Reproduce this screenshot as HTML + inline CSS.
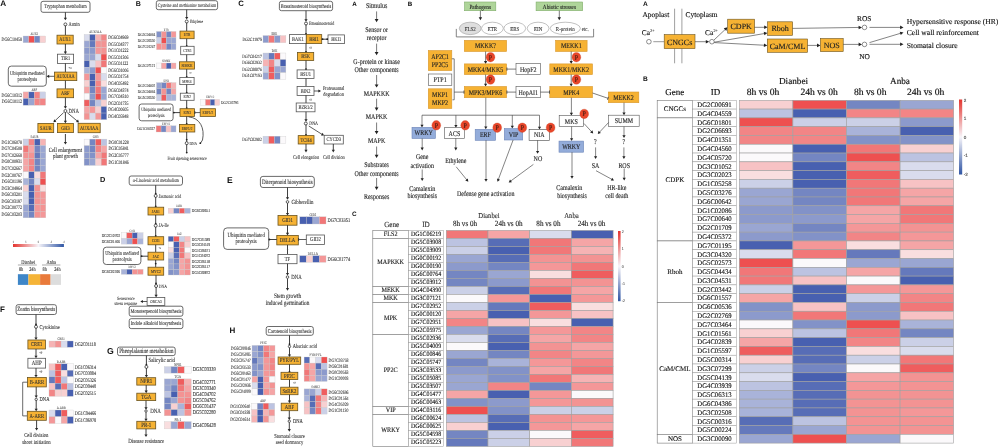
<!DOCTYPE html><html><head><meta charset="utf-8"><style>html,body{margin:0;padding:0;background:#fff;overflow:hidden}svg{display:block;filter:blur(0.35px)}text{text-rendering:geometricPrecision}</style></head><body>
<svg width="1000" height="447" viewBox="0 0 1000 447">
<rect width="1000" height="447" fill="#fff"/>
<text x="643.00" y="6.30" font-family="'Liberation Sans', sans-serif" font-size="6.60" text-anchor="start" fill="#111" font-weight="bold" font-style="normal" textLength="4.77" lengthAdjust="spacingAndGlyphs">A</text>
<text x="642.50" y="16.60" font-family="'Liberation Serif', serif" font-size="7.40" text-anchor="start" fill="#111" font-weight="normal" font-style="normal" stroke="#111" stroke-width="0.127" textLength="26.72" lengthAdjust="spacingAndGlyphs">Apoplast</text>
<text x="685.50" y="16.60" font-family="'Liberation Serif', serif" font-size="7.40" text-anchor="start" fill="#111" font-weight="normal" font-style="normal" stroke="#111" stroke-width="0.127" textLength="32.07" lengthAdjust="spacingAndGlyphs">Cytoplasm</text>
<line x1="674.60" y1="8.70" x2="674.60" y2="63.30" stroke="#777" stroke-width="0.7"/>
<line x1="681.90" y1="8.70" x2="681.90" y2="63.30" stroke="#777" stroke-width="0.7"/>
<text x="641.80" y="35.20" font-family="'Liberation Serif', serif" font-size="7.40" text-anchor="start" fill="#111" font-weight="normal" font-style="normal" stroke="#111" stroke-width="0.127" textLength="8.22" lengthAdjust="spacingAndGlyphs">Ca</text>
<text x="650.20" y="32.00" font-family="'Liberation Serif', serif" font-size="4.20" text-anchor="start" fill="#111" font-weight="normal" font-style="normal" stroke="#111" stroke-width="0.072" textLength="4.47" lengthAdjust="spacingAndGlyphs">2+</text>
<text x="705.00" y="35.20" font-family="'Liberation Serif', serif" font-size="7.40" text-anchor="start" fill="#111" font-weight="normal" font-style="normal" stroke="#111" stroke-width="0.127" textLength="8.22" lengthAdjust="spacingAndGlyphs">Ca</text>
<text x="713.40" y="32.00" font-family="'Liberation Serif', serif" font-size="4.20" text-anchor="start" fill="#111" font-weight="normal" font-style="normal" stroke="#111" stroke-width="0.072" textLength="4.47" lengthAdjust="spacingAndGlyphs">2+</text>
<circle cx="648.90" cy="41.70" r="2.3" fill="#fff" stroke="#444" stroke-width="0.6"/>
<line x1="653.30" y1="41.70" x2="664.20" y2="41.70" stroke="#555" stroke-width="0.6"/>
<rect x="664.20" y="34.60" width="30.80" height="14.00" fill="#F6B233" stroke="#6b5420" stroke-width="0.6" rx="0"/>
<text x="679.60" y="44.90" font-family="'Liberation Serif', serif" font-size="8.00" text-anchor="middle" fill="#222" font-weight="normal" font-style="normal" stroke="#222" stroke-width="0.137" textLength="25.34" lengthAdjust="spacingAndGlyphs">CNGCs</text>
<line x1="695.00" y1="41.70" x2="707.16" y2="41.70" stroke="#333" stroke-width="0.6"/>
<polygon points="709.20,41.70 705.80,43.50 705.80,39.90" fill="#222"/>
<circle cx="711.90" cy="41.70" r="2.3" fill="#fff" stroke="#444" stroke-width="0.6"/>
<line x1="714.00" y1="40.00" x2="726.01" y2="28.70" stroke="#333" stroke-width="0.6"/>
<polygon points="727.50,27.30 726.26,30.94 723.79,28.32" fill="#222"/>
<rect x="727.70" y="19.20" width="26.90" height="14.00" fill="#F6B233" stroke="#6b5420" stroke-width="0.6" rx="0"/>
<text x="741.20" y="29.30" font-family="'Liberation Serif', serif" font-size="8.00" text-anchor="middle" fill="#222" font-weight="normal" font-style="normal" stroke="#222" stroke-width="0.137" textLength="21.34" lengthAdjust="spacingAndGlyphs">CDPK</text>
<line x1="754.60" y1="27.30" x2="765.56" y2="27.30" stroke="#333" stroke-width="0.6"/>
<polygon points="767.60,27.30 764.20,29.10 764.20,25.50" fill="#222"/>
<line x1="714.30" y1="42.20" x2="765.39" y2="33.35" stroke="#333" stroke-width="0.6"/>
<polygon points="767.40,33.00 764.36,35.35 763.74,31.81" fill="#222"/>
<rect x="767.60" y="21.80" width="25.00" height="13.50" fill="#F6B233" stroke="#6b5420" stroke-width="0.6" rx="0"/>
<text x="780.10" y="31.40" font-family="'Liberation Serif', serif" font-size="8.00" text-anchor="middle" fill="#222" font-weight="normal" font-style="normal" stroke="#222" stroke-width="0.137" textLength="17.34" lengthAdjust="spacingAndGlyphs">Rboh</text>
<line x1="714.30" y1="42.60" x2="765.26" y2="45.29" stroke="#333" stroke-width="0.6"/>
<polygon points="767.30,45.40 763.81,47.02 764.00,43.42" fill="#222"/>
<rect x="767.30" y="39.00" width="40.30" height="13.30" fill="#F6B233" stroke="#6b5420" stroke-width="0.6" rx="0"/>
<text x="787.50" y="48.60" font-family="'Liberation Serif', serif" font-size="8.00" text-anchor="middle" fill="#222" font-weight="normal" font-style="normal" stroke="#222" stroke-width="0.137" textLength="35.56" lengthAdjust="spacingAndGlyphs">CaM/CML</text>
<line x1="807.60" y1="45.40" x2="818.36" y2="45.40" stroke="#333" stroke-width="0.6"/>
<polygon points="820.40,45.40 817.00,47.20 817.00,43.60" fill="#222"/>
<rect x="820.40" y="38.50" width="22.80" height="13.10" fill="#F6B233" stroke="#6b5420" stroke-width="0.6" rx="0"/>
<text x="831.80" y="47.90" font-family="'Liberation Serif', serif" font-size="8.00" text-anchor="middle" fill="#222" font-weight="normal" font-style="normal" stroke="#222" stroke-width="0.137" textLength="16.00" lengthAdjust="spacingAndGlyphs">NOS</text>
<line x1="792.60" y1="28.40" x2="859.96" y2="27.43" stroke="#333" stroke-width="0.6"/>
<polygon points="862.00,27.40 858.63,29.25 858.57,25.65" fill="#222"/>
<line x1="843.20" y1="44.40" x2="859.96" y2="44.40" stroke="#333" stroke-width="0.6"/>
<polygon points="862.00,44.40 858.60,46.20 858.60,42.60" fill="#222"/>
<circle cx="864.50" cy="27.40" r="2.3" fill="#fff" stroke="#444" stroke-width="0.6"/>
<circle cx="864.50" cy="44.40" r="2.3" fill="#fff" stroke="#444" stroke-width="0.6"/>
<text x="864.30" y="20.60" font-family="'Liberation Serif', serif" font-size="7.40" text-anchor="middle" fill="#111" font-weight="normal" font-style="normal" stroke="#111" stroke-width="0.127" textLength="14.40" lengthAdjust="spacingAndGlyphs">ROS</text>
<text x="864.60" y="59.20" font-family="'Liberation Serif', serif" font-size="7.40" text-anchor="middle" fill="#111" font-weight="normal" font-style="normal" stroke="#111" stroke-width="0.127" textLength="10.69" lengthAdjust="spacingAndGlyphs">NO</text>
<line x1="869.50" y1="27.40" x2="901.46" y2="27.40" stroke="#333" stroke-width="0.6"/>
<polygon points="903.50,27.40 900.10,29.20 900.10,25.60" fill="#222"/>
<line x1="869.50" y1="42.60" x2="901.55" y2="32.99" stroke="#333" stroke-width="0.6"/>
<polygon points="903.50,32.40 900.76,35.10 899.73,31.65" fill="#222"/>
<line x1="869.50" y1="44.30" x2="901.46" y2="44.30" stroke="#333" stroke-width="0.6"/>
<polygon points="903.50,44.30 900.10,46.10 900.10,42.50" fill="#222"/>
<text x="906.80" y="24.20" font-family="'Liberation Serif', serif" font-size="7.60" text-anchor="start" fill="#111" font-weight="normal" font-style="normal" stroke="#111" stroke-width="0.130" textLength="91.60" lengthAdjust="spacingAndGlyphs">Hypersensitive response (HR)</text>
<text x="906.80" y="34.60" font-family="'Liberation Serif', serif" font-size="7.60" text-anchor="start" fill="#111" font-weight="normal" font-style="normal" stroke="#111" stroke-width="0.130" textLength="72.17" lengthAdjust="spacingAndGlyphs">Cell wall reinforcement</text>
<text x="906.80" y="48.20" font-family="'Liberation Serif', serif" font-size="7.60" text-anchor="start" fill="#111" font-weight="normal" font-style="normal" stroke="#111" stroke-width="0.130" textLength="50.86" lengthAdjust="spacingAndGlyphs">Stomatal closure</text>
<text x="643.00" y="80.60" font-family="'Liberation Sans', sans-serif" font-size="6.60" text-anchor="start" fill="#111" font-weight="bold" font-style="normal" textLength="4.77" lengthAdjust="spacingAndGlyphs">B</text>
<text x="793.50" y="84.30" font-family="'Liberation Serif', serif" font-size="9.20" text-anchor="middle" fill="#111" font-weight="normal" font-style="normal" stroke="#111" stroke-width="0.158" textLength="29.12" lengthAdjust="spacingAndGlyphs">Dianbei</text>
<text x="900.00" y="84.30" font-family="'Liberation Serif', serif" font-size="9.20" text-anchor="middle" fill="#111" font-weight="normal" font-style="normal" stroke="#111" stroke-width="0.158" textLength="19.93" lengthAdjust="spacingAndGlyphs">Anba</text>
<text x="674.80" y="95.00" font-family="'Liberation Serif', serif" font-size="9.00" text-anchor="middle" fill="#111" font-weight="normal" font-style="normal" stroke="#111" stroke-width="0.154" textLength="18.99" lengthAdjust="spacingAndGlyphs">Gene</text>
<text x="715.40" y="95.00" font-family="'Liberation Serif', serif" font-size="9.00" text-anchor="middle" fill="#111" font-weight="normal" font-style="normal" stroke="#111" stroke-width="0.154" textLength="9.50" lengthAdjust="spacingAndGlyphs">ID</text>
<text x="763.00" y="95.20" font-family="'Liberation Serif', serif" font-size="9.60" text-anchor="middle" fill="#111" font-weight="normal" font-style="normal" stroke="#111" stroke-width="0.165" textLength="32.54" lengthAdjust="spacingAndGlyphs">8h vs 0h</text>
<text x="819.20" y="95.20" font-family="'Liberation Serif', serif" font-size="9.60" text-anchor="middle" fill="#111" font-weight="normal" font-style="normal" stroke="#111" stroke-width="0.165" textLength="37.34" lengthAdjust="spacingAndGlyphs">24h vs 0h</text>
<text x="870.20" y="95.20" font-family="'Liberation Serif', serif" font-size="9.60" text-anchor="middle" fill="#111" font-weight="normal" font-style="normal" stroke="#111" stroke-width="0.165" textLength="32.54" lengthAdjust="spacingAndGlyphs">8h vs 0h</text>
<text x="925.60" y="95.20" font-family="'Liberation Serif', serif" font-size="9.60" text-anchor="middle" fill="#111" font-weight="normal" font-style="normal" stroke="#111" stroke-width="0.165" textLength="37.34" lengthAdjust="spacingAndGlyphs">24h vs 0h</text>
<rect x="657.20" y="100.30" width="35.40" height="17.58" fill="#fff" stroke="#777" stroke-width="0.6" rx="0"/>
<text x="674.90" y="111.40" font-family="'Liberation Serif', serif" font-size="7.00" text-anchor="middle" fill="#111" font-weight="normal" font-style="normal" stroke="#111" stroke-width="0.120" textLength="22.17" lengthAdjust="spacingAndGlyphs">CNGCs</text>
<rect x="692.60" y="100.30" width="43.80" height="8.79" fill="#fff" stroke="#9a9a9a" stroke-width="0.5" rx="0"/>
<text x="714.50" y="107.07" font-family="'Liberation Serif', serif" font-size="7.00" text-anchor="middle" fill="#111" font-weight="normal" font-style="normal" stroke="#111" stroke-width="0.120" textLength="34.35" lengthAdjust="spacingAndGlyphs">DG2C00691</text>
<rect x="692.60" y="109.09" width="43.80" height="8.79" fill="#fff" stroke="#9a9a9a" stroke-width="0.5" rx="0"/>
<text x="714.50" y="115.86" font-family="'Liberation Serif', serif" font-size="7.00" text-anchor="middle" fill="#111" font-weight="normal" font-style="normal" stroke="#111" stroke-width="0.120" textLength="34.35" lengthAdjust="spacingAndGlyphs">DG4C04559</text>
<rect x="657.20" y="117.88" width="35.40" height="123.06" fill="#fff" stroke="#777" stroke-width="0.6" rx="0"/>
<text x="674.90" y="181.72" font-family="'Liberation Serif', serif" font-size="7.00" text-anchor="middle" fill="#111" font-weight="normal" font-style="normal" stroke="#111" stroke-width="0.120" textLength="18.67" lengthAdjust="spacingAndGlyphs">CDPK</text>
<rect x="692.60" y="117.88" width="43.80" height="8.79" fill="#fff" stroke="#9a9a9a" stroke-width="0.5" rx="0"/>
<text x="714.50" y="124.65" font-family="'Liberation Serif', serif" font-size="7.00" text-anchor="middle" fill="#111" font-weight="normal" font-style="normal" stroke="#111" stroke-width="0.120" textLength="34.35" lengthAdjust="spacingAndGlyphs">DG6C01801</text>
<rect x="692.60" y="126.67" width="43.80" height="8.79" fill="#fff" stroke="#9a9a9a" stroke-width="0.5" rx="0"/>
<text x="714.50" y="133.44" font-family="'Liberation Serif', serif" font-size="7.00" text-anchor="middle" fill="#111" font-weight="normal" font-style="normal" stroke="#111" stroke-width="0.120" textLength="34.35" lengthAdjust="spacingAndGlyphs">DG2C06693</text>
<rect x="692.60" y="135.46" width="43.80" height="8.79" fill="#fff" stroke="#9a9a9a" stroke-width="0.5" rx="0"/>
<text x="714.50" y="142.23" font-family="'Liberation Serif', serif" font-size="7.00" text-anchor="middle" fill="#111" font-weight="normal" font-style="normal" stroke="#111" stroke-width="0.120" textLength="34.35" lengthAdjust="spacingAndGlyphs">DG4C01351</text>
<rect x="692.60" y="144.25" width="43.80" height="8.79" fill="#fff" stroke="#9a9a9a" stroke-width="0.5" rx="0"/>
<text x="714.50" y="151.03" font-family="'Liberation Serif', serif" font-size="7.00" text-anchor="middle" fill="#111" font-weight="normal" font-style="normal" stroke="#111" stroke-width="0.120" textLength="34.35" lengthAdjust="spacingAndGlyphs">DG4C04560</text>
<rect x="692.60" y="153.04" width="43.80" height="8.79" fill="#fff" stroke="#9a9a9a" stroke-width="0.5" rx="0"/>
<text x="714.50" y="159.81" font-family="'Liberation Serif', serif" font-size="7.00" text-anchor="middle" fill="#111" font-weight="normal" font-style="normal" stroke="#111" stroke-width="0.120" textLength="34.35" lengthAdjust="spacingAndGlyphs">DG4C05720</text>
<rect x="692.60" y="161.83" width="43.80" height="8.79" fill="#fff" stroke="#9a9a9a" stroke-width="0.5" rx="0"/>
<text x="714.50" y="168.60" font-family="'Liberation Serif', serif" font-size="7.00" text-anchor="middle" fill="#111" font-weight="normal" font-style="normal" stroke="#111" stroke-width="0.120" textLength="34.35" lengthAdjust="spacingAndGlyphs">DG3C01052</text>
<rect x="692.60" y="170.62" width="43.80" height="8.79" fill="#fff" stroke="#9a9a9a" stroke-width="0.5" rx="0"/>
<text x="714.50" y="177.40" font-family="'Liberation Serif', serif" font-size="7.00" text-anchor="middle" fill="#111" font-weight="normal" font-style="normal" stroke="#111" stroke-width="0.120" textLength="34.35" lengthAdjust="spacingAndGlyphs">DG3C02023</text>
<rect x="692.60" y="179.41" width="43.80" height="8.79" fill="#fff" stroke="#9a9a9a" stroke-width="0.5" rx="0"/>
<text x="714.50" y="186.19" font-family="'Liberation Serif', serif" font-size="7.00" text-anchor="middle" fill="#111" font-weight="normal" font-style="normal" stroke="#111" stroke-width="0.120" textLength="34.35" lengthAdjust="spacingAndGlyphs">DG1C05258</text>
<rect x="692.60" y="188.20" width="43.80" height="8.79" fill="#fff" stroke="#9a9a9a" stroke-width="0.5" rx="0"/>
<text x="714.50" y="194.97" font-family="'Liberation Serif', serif" font-size="7.00" text-anchor="middle" fill="#111" font-weight="normal" font-style="normal" stroke="#111" stroke-width="0.120" textLength="34.35" lengthAdjust="spacingAndGlyphs">DG5C03276</text>
<rect x="692.60" y="196.99" width="43.80" height="8.79" fill="#fff" stroke="#9a9a9a" stroke-width="0.5" rx="0"/>
<text x="714.50" y="203.76" font-family="'Liberation Serif', serif" font-size="7.00" text-anchor="middle" fill="#111" font-weight="normal" font-style="normal" stroke="#111" stroke-width="0.120" textLength="34.35" lengthAdjust="spacingAndGlyphs">DG6C00642</text>
<rect x="692.60" y="205.78" width="43.80" height="8.79" fill="#fff" stroke="#9a9a9a" stroke-width="0.5" rx="0"/>
<text x="714.50" y="212.55" font-family="'Liberation Serif', serif" font-size="7.00" text-anchor="middle" fill="#111" font-weight="normal" font-style="normal" stroke="#111" stroke-width="0.120" textLength="34.35" lengthAdjust="spacingAndGlyphs">DG1C02086</text>
<rect x="692.60" y="214.57" width="43.80" height="8.79" fill="#fff" stroke="#9a9a9a" stroke-width="0.5" rx="0"/>
<text x="714.50" y="221.34" font-family="'Liberation Serif', serif" font-size="7.00" text-anchor="middle" fill="#111" font-weight="normal" font-style="normal" stroke="#111" stroke-width="0.120" textLength="34.35" lengthAdjust="spacingAndGlyphs">DG7C00640</text>
<rect x="692.60" y="223.36" width="43.80" height="8.79" fill="#fff" stroke="#9a9a9a" stroke-width="0.5" rx="0"/>
<text x="714.50" y="230.13" font-family="'Liberation Serif', serif" font-size="7.00" text-anchor="middle" fill="#111" font-weight="normal" font-style="normal" stroke="#111" stroke-width="0.120" textLength="34.35" lengthAdjust="spacingAndGlyphs">DG2C01709</text>
<rect x="692.60" y="232.15" width="43.80" height="8.79" fill="#fff" stroke="#9a9a9a" stroke-width="0.5" rx="0"/>
<text x="714.50" y="238.92" font-family="'Liberation Serif', serif" font-size="7.00" text-anchor="middle" fill="#111" font-weight="normal" font-style="normal" stroke="#111" stroke-width="0.120" textLength="34.35" lengthAdjust="spacingAndGlyphs">DG4C05372</text>
<rect x="657.20" y="240.94" width="35.40" height="61.53" fill="#fff" stroke="#777" stroke-width="0.6" rx="0"/>
<text x="674.90" y="274.01" font-family="'Liberation Serif', serif" font-size="7.00" text-anchor="middle" fill="#111" font-weight="normal" font-style="normal" stroke="#111" stroke-width="0.120" textLength="15.17" lengthAdjust="spacingAndGlyphs">Rboh</text>
<rect x="692.60" y="240.94" width="43.80" height="8.79" fill="#fff" stroke="#9a9a9a" stroke-width="0.5" rx="0"/>
<text x="714.50" y="247.72" font-family="'Liberation Serif', serif" font-size="7.00" text-anchor="middle" fill="#111" font-weight="normal" font-style="normal" stroke="#111" stroke-width="0.120" textLength="34.10" lengthAdjust="spacingAndGlyphs">DG7C01195</text>
<rect x="692.60" y="249.73" width="43.80" height="8.79" fill="#fff" stroke="#9a9a9a" stroke-width="0.5" rx="0"/>
<text x="714.50" y="256.50" font-family="'Liberation Serif', serif" font-size="7.00" text-anchor="middle" fill="#111" font-weight="normal" font-style="normal" stroke="#111" stroke-width="0.120" textLength="34.35" lengthAdjust="spacingAndGlyphs">DG3C04320</text>
<rect x="692.60" y="258.52" width="43.80" height="8.79" fill="#fff" stroke="#9a9a9a" stroke-width="0.5" rx="0"/>
<text x="714.50" y="265.29" font-family="'Liberation Serif', serif" font-size="7.00" text-anchor="middle" fill="#111" font-weight="normal" font-style="normal" stroke="#111" stroke-width="0.120" textLength="34.35" lengthAdjust="spacingAndGlyphs">DG5C02573</text>
<rect x="692.60" y="267.31" width="43.80" height="8.79" fill="#fff" stroke="#9a9a9a" stroke-width="0.5" rx="0"/>
<text x="714.50" y="274.08" font-family="'Liberation Serif', serif" font-size="7.00" text-anchor="middle" fill="#111" font-weight="normal" font-style="normal" stroke="#111" stroke-width="0.120" textLength="34.35" lengthAdjust="spacingAndGlyphs">DG5C04434</text>
<rect x="692.60" y="276.10" width="43.80" height="8.79" fill="#fff" stroke="#9a9a9a" stroke-width="0.5" rx="0"/>
<text x="714.50" y="282.88" font-family="'Liberation Serif', serif" font-size="7.00" text-anchor="middle" fill="#111" font-weight="normal" font-style="normal" stroke="#111" stroke-width="0.120" textLength="34.35" lengthAdjust="spacingAndGlyphs">DG3C04531</text>
<rect x="692.60" y="284.89" width="43.80" height="8.79" fill="#fff" stroke="#9a9a9a" stroke-width="0.5" rx="0"/>
<text x="714.50" y="291.66" font-family="'Liberation Serif', serif" font-size="7.00" text-anchor="middle" fill="#111" font-weight="normal" font-style="normal" stroke="#111" stroke-width="0.120" textLength="34.35" lengthAdjust="spacingAndGlyphs">DG2C03442</text>
<rect x="692.60" y="293.68" width="43.80" height="8.79" fill="#fff" stroke="#9a9a9a" stroke-width="0.5" rx="0"/>
<text x="714.50" y="300.45" font-family="'Liberation Serif', serif" font-size="7.00" text-anchor="middle" fill="#111" font-weight="normal" font-style="normal" stroke="#111" stroke-width="0.120" textLength="34.35" lengthAdjust="spacingAndGlyphs">DG6C01557</text>
<rect x="657.20" y="302.47" width="35.40" height="131.85" fill="#fff" stroke="#777" stroke-width="0.6" rx="0"/>
<text x="674.90" y="370.70" font-family="'Liberation Serif', serif" font-size="7.00" text-anchor="middle" fill="#111" font-weight="normal" font-style="normal" stroke="#111" stroke-width="0.120" textLength="31.11" lengthAdjust="spacingAndGlyphs">CaM/CML</text>
<rect x="692.60" y="302.47" width="43.80" height="8.79" fill="#fff" stroke="#9a9a9a" stroke-width="0.5" rx="0"/>
<text x="714.50" y="309.24" font-family="'Liberation Serif', serif" font-size="7.00" text-anchor="middle" fill="#111" font-weight="normal" font-style="normal" stroke="#111" stroke-width="0.120" textLength="34.35" lengthAdjust="spacingAndGlyphs">DG6C00536</text>
<rect x="692.60" y="311.26" width="43.80" height="8.79" fill="#fff" stroke="#9a9a9a" stroke-width="0.5" rx="0"/>
<text x="714.50" y="318.03" font-family="'Liberation Serif', serif" font-size="7.00" text-anchor="middle" fill="#111" font-weight="normal" font-style="normal" stroke="#111" stroke-width="0.120" textLength="34.35" lengthAdjust="spacingAndGlyphs">DG2C02769</text>
<rect x="692.60" y="320.05" width="43.80" height="8.79" fill="#fff" stroke="#9a9a9a" stroke-width="0.5" rx="0"/>
<text x="714.50" y="326.82" font-family="'Liberation Serif', serif" font-size="7.00" text-anchor="middle" fill="#111" font-weight="normal" font-style="normal" stroke="#111" stroke-width="0.120" textLength="34.35" lengthAdjust="spacingAndGlyphs">DG7C03464</text>
<rect x="692.60" y="328.84" width="43.80" height="8.79" fill="#fff" stroke="#9a9a9a" stroke-width="0.5" rx="0"/>
<text x="714.50" y="335.61" font-family="'Liberation Serif', serif" font-size="7.00" text-anchor="middle" fill="#111" font-weight="normal" font-style="normal" stroke="#111" stroke-width="0.120" textLength="34.35" lengthAdjust="spacingAndGlyphs">DG1C01561</text>
<rect x="692.60" y="337.63" width="43.80" height="8.79" fill="#fff" stroke="#9a9a9a" stroke-width="0.5" rx="0"/>
<text x="714.50" y="344.40" font-family="'Liberation Serif', serif" font-size="7.00" text-anchor="middle" fill="#111" font-weight="normal" font-style="normal" stroke="#111" stroke-width="0.120" textLength="34.35" lengthAdjust="spacingAndGlyphs">DG4C02839</text>
<rect x="692.60" y="346.42" width="43.80" height="8.79" fill="#fff" stroke="#9a9a9a" stroke-width="0.5" rx="0"/>
<text x="714.50" y="353.19" font-family="'Liberation Serif', serif" font-size="7.00" text-anchor="middle" fill="#111" font-weight="normal" font-style="normal" stroke="#111" stroke-width="0.120" textLength="34.35" lengthAdjust="spacingAndGlyphs">DG1C05597</text>
<rect x="692.60" y="355.21" width="43.80" height="8.79" fill="#fff" stroke="#9a9a9a" stroke-width="0.5" rx="0"/>
<text x="714.50" y="361.98" font-family="'Liberation Serif', serif" font-size="7.00" text-anchor="middle" fill="#111" font-weight="normal" font-style="normal" stroke="#111" stroke-width="0.120" textLength="34.35" lengthAdjust="spacingAndGlyphs">DG5C00314</text>
<rect x="692.60" y="364.00" width="43.80" height="8.79" fill="#fff" stroke="#9a9a9a" stroke-width="0.5" rx="0"/>
<text x="714.50" y="370.77" font-family="'Liberation Serif', serif" font-size="7.00" text-anchor="middle" fill="#111" font-weight="normal" font-style="normal" stroke="#111" stroke-width="0.120" textLength="34.35" lengthAdjust="spacingAndGlyphs">DG3C07299</text>
<rect x="692.60" y="372.79" width="43.80" height="8.79" fill="#fff" stroke="#9a9a9a" stroke-width="0.5" rx="0"/>
<text x="714.50" y="379.56" font-family="'Liberation Serif', serif" font-size="7.00" text-anchor="middle" fill="#111" font-weight="normal" font-style="normal" stroke="#111" stroke-width="0.120" textLength="34.35" lengthAdjust="spacingAndGlyphs">DG5C04139</text>
<rect x="692.60" y="381.58" width="43.80" height="8.79" fill="#fff" stroke="#9a9a9a" stroke-width="0.5" rx="0"/>
<text x="714.50" y="388.35" font-family="'Liberation Serif', serif" font-size="7.00" text-anchor="middle" fill="#111" font-weight="normal" font-style="normal" stroke="#111" stroke-width="0.120" textLength="34.35" lengthAdjust="spacingAndGlyphs">DG4C03939</text>
<rect x="692.60" y="390.37" width="43.80" height="8.79" fill="#fff" stroke="#9a9a9a" stroke-width="0.5" rx="0"/>
<text x="714.50" y="397.14" font-family="'Liberation Serif', serif" font-size="7.00" text-anchor="middle" fill="#111" font-weight="normal" font-style="normal" stroke="#111" stroke-width="0.120" textLength="34.35" lengthAdjust="spacingAndGlyphs">DG5C06313</text>
<rect x="692.60" y="399.16" width="43.80" height="8.79" fill="#fff" stroke="#9a9a9a" stroke-width="0.5" rx="0"/>
<text x="714.50" y="405.93" font-family="'Liberation Serif', serif" font-size="7.00" text-anchor="middle" fill="#111" font-weight="normal" font-style="normal" stroke="#111" stroke-width="0.120" textLength="34.35" lengthAdjust="spacingAndGlyphs">DG6C04386</text>
<rect x="692.60" y="407.95" width="43.80" height="8.79" fill="#fff" stroke="#9a9a9a" stroke-width="0.5" rx="0"/>
<text x="714.50" y="414.72" font-family="'Liberation Serif', serif" font-size="7.00" text-anchor="middle" fill="#111" font-weight="normal" font-style="normal" stroke="#111" stroke-width="0.120" textLength="34.35" lengthAdjust="spacingAndGlyphs">DG3C02508</text>
<rect x="692.60" y="416.74" width="43.80" height="8.79" fill="#fff" stroke="#9a9a9a" stroke-width="0.5" rx="0"/>
<text x="714.50" y="423.51" font-family="'Liberation Serif', serif" font-size="7.00" text-anchor="middle" fill="#111" font-weight="normal" font-style="normal" stroke="#111" stroke-width="0.120" textLength="34.35" lengthAdjust="spacingAndGlyphs">DG5C00316</text>
<rect x="692.60" y="425.53" width="43.80" height="8.79" fill="#fff" stroke="#9a9a9a" stroke-width="0.5" rx="0"/>
<text x="714.50" y="432.30" font-family="'Liberation Serif', serif" font-size="7.00" text-anchor="middle" fill="#111" font-weight="normal" font-style="normal" stroke="#111" stroke-width="0.120" textLength="34.35" lengthAdjust="spacingAndGlyphs">DG5C00224</text>
<rect x="657.20" y="434.32" width="35.40" height="8.79" fill="#fff" stroke="#777" stroke-width="0.6" rx="0"/>
<text x="674.90" y="441.02" font-family="'Liberation Serif', serif" font-size="7.00" text-anchor="middle" fill="#111" font-weight="normal" font-style="normal" stroke="#111" stroke-width="0.120" textLength="14.00" lengthAdjust="spacingAndGlyphs">NOS</text>
<rect x="692.60" y="434.32" width="43.80" height="8.79" fill="#fff" stroke="#9a9a9a" stroke-width="0.5" rx="0"/>
<text x="714.50" y="441.09" font-family="'Liberation Serif', serif" font-size="7.00" text-anchor="middle" fill="#111" font-weight="normal" font-style="normal" stroke="#111" stroke-width="0.120" textLength="34.35" lengthAdjust="spacingAndGlyphs">DG3C00090</text>
<rect x="739.30" y="100.30" width="53.60" height="8.79" fill="#f8d0d1" stroke="#a0a0a0" stroke-width="0.6" rx="0"/>
<rect x="792.90" y="100.30" width="53.60" height="8.79" fill="#ee5050" stroke="#a0a0a0" stroke-width="0.6" rx="0"/>
<rect x="846.50" y="100.30" width="53.60" height="8.79" fill="#7486c2" stroke="#a0a0a0" stroke-width="0.6" rx="0"/>
<rect x="900.10" y="100.30" width="53.60" height="8.79" fill="#9aa6d2" stroke="#a0a0a0" stroke-width="0.6" rx="0"/>
<rect x="739.30" y="109.09" width="53.60" height="8.79" fill="#bcc3e1" stroke="#a0a0a0" stroke-width="0.6" rx="0"/>
<rect x="792.90" y="109.09" width="53.60" height="8.79" fill="#4860b0" stroke="#a0a0a0" stroke-width="0.6" rx="0"/>
<rect x="846.50" y="109.09" width="53.60" height="8.79" fill="#f28586" stroke="#a0a0a0" stroke-width="0.6" rx="0"/>
<rect x="900.10" y="109.09" width="53.60" height="8.79" fill="#f28586" stroke="#a0a0a0" stroke-width="0.6" rx="0"/>
<rect x="739.30" y="117.88" width="53.60" height="8.79" fill="#ee5050" stroke="#a0a0a0" stroke-width="0.6" rx="0"/>
<rect x="792.90" y="117.88" width="53.60" height="8.79" fill="#cbd0e7" stroke="#a0a0a0" stroke-width="0.6" rx="0"/>
<rect x="846.50" y="117.88" width="53.60" height="8.79" fill="#cbd0e7" stroke="#a0a0a0" stroke-width="0.6" rx="0"/>
<rect x="900.10" y="117.88" width="53.60" height="8.79" fill="#8c9acc" stroke="#a0a0a0" stroke-width="0.6" rx="0"/>
<rect x="739.30" y="126.67" width="53.60" height="8.79" fill="#f28586" stroke="#a0a0a0" stroke-width="0.6" rx="0"/>
<rect x="792.90" y="126.67" width="53.60" height="8.79" fill="#f28586" stroke="#a0a0a0" stroke-width="0.6" rx="0"/>
<rect x="846.50" y="126.67" width="53.60" height="8.79" fill="#a9b3d9" stroke="#a0a0a0" stroke-width="0.6" rx="0"/>
<rect x="900.10" y="126.67" width="53.60" height="8.79" fill="#4860b0" stroke="#a0a0a0" stroke-width="0.6" rx="0"/>
<rect x="739.30" y="135.46" width="53.60" height="8.79" fill="#f28586" stroke="#a0a0a0" stroke-width="0.6" rx="0"/>
<rect x="792.90" y="135.46" width="53.60" height="8.79" fill="#f28586" stroke="#a0a0a0" stroke-width="0.6" rx="0"/>
<rect x="846.50" y="135.46" width="53.60" height="8.79" fill="#8292c8" stroke="#a0a0a0" stroke-width="0.6" rx="0"/>
<rect x="900.10" y="135.46" width="53.60" height="8.79" fill="#8292c8" stroke="#a0a0a0" stroke-width="0.6" rx="0"/>
<rect x="739.30" y="144.25" width="53.60" height="8.79" fill="#fbf9fb" stroke="#a0a0a0" stroke-width="0.6" rx="0"/>
<rect x="792.90" y="144.25" width="53.60" height="8.79" fill="#4860b0" stroke="#a0a0a0" stroke-width="0.6" rx="0"/>
<rect x="846.50" y="144.25" width="53.60" height="8.79" fill="#f17778" stroke="#a0a0a0" stroke-width="0.6" rx="0"/>
<rect x="900.10" y="144.25" width="53.60" height="8.79" fill="#f8d0d1" stroke="#a0a0a0" stroke-width="0.6" rx="0"/>
<rect x="739.30" y="153.04" width="53.60" height="8.79" fill="#fbf9fb" stroke="#a0a0a0" stroke-width="0.6" rx="0"/>
<rect x="792.90" y="153.04" width="53.60" height="8.79" fill="#7486c2" stroke="#a0a0a0" stroke-width="0.6" rx="0"/>
<rect x="846.50" y="153.04" width="53.60" height="8.79" fill="#ee5050" stroke="#a0a0a0" stroke-width="0.6" rx="0"/>
<rect x="900.10" y="153.04" width="53.60" height="8.79" fill="#bcc3e1" stroke="#a0a0a0" stroke-width="0.6" rx="0"/>
<rect x="739.30" y="161.83" width="53.60" height="8.79" fill="#f7c2c4" stroke="#a0a0a0" stroke-width="0.6" rx="0"/>
<rect x="792.90" y="161.83" width="53.60" height="8.79" fill="#4860b0" stroke="#a0a0a0" stroke-width="0.6" rx="0"/>
<rect x="846.50" y="161.83" width="53.60" height="8.79" fill="#f28586" stroke="#a0a0a0" stroke-width="0.6" rx="0"/>
<rect x="900.10" y="161.83" width="53.60" height="8.79" fill="#d9dced" stroke="#a0a0a0" stroke-width="0.6" rx="0"/>
<rect x="739.30" y="170.62" width="53.60" height="8.79" fill="#f9dedf" stroke="#a0a0a0" stroke-width="0.6" rx="0"/>
<rect x="792.90" y="170.62" width="53.60" height="8.79" fill="#4860b0" stroke="#a0a0a0" stroke-width="0.6" rx="0"/>
<rect x="846.50" y="170.62" width="53.60" height="8.79" fill="#ef5d5e" stroke="#a0a0a0" stroke-width="0.6" rx="0"/>
<rect x="900.10" y="170.62" width="53.60" height="8.79" fill="#d9dced" stroke="#a0a0a0" stroke-width="0.6" rx="0"/>
<rect x="739.30" y="179.41" width="53.60" height="8.79" fill="#cbd0e7" stroke="#a0a0a0" stroke-width="0.6" rx="0"/>
<rect x="792.90" y="179.41" width="53.60" height="8.79" fill="#4860b0" stroke="#a0a0a0" stroke-width="0.6" rx="0"/>
<rect x="846.50" y="179.41" width="53.60" height="8.79" fill="#f17778" stroke="#a0a0a0" stroke-width="0.6" rx="0"/>
<rect x="900.10" y="179.41" width="53.60" height="8.79" fill="#f7c2c4" stroke="#a0a0a0" stroke-width="0.6" rx="0"/>
<rect x="739.30" y="188.20" width="53.60" height="8.79" fill="#9aa6d2" stroke="#a0a0a0" stroke-width="0.6" rx="0"/>
<rect x="792.90" y="188.20" width="53.60" height="8.79" fill="#7486c2" stroke="#a0a0a0" stroke-width="0.6" rx="0"/>
<rect x="846.50" y="188.20" width="53.60" height="8.79" fill="#f17778" stroke="#a0a0a0" stroke-width="0.6" rx="0"/>
<rect x="900.10" y="188.20" width="53.60" height="8.79" fill="#f5a5a6" stroke="#a0a0a0" stroke-width="0.6" rx="0"/>
<rect x="739.30" y="196.99" width="53.60" height="8.79" fill="#9aa6d2" stroke="#a0a0a0" stroke-width="0.6" rx="0"/>
<rect x="792.90" y="196.99" width="53.60" height="8.79" fill="#7486c2" stroke="#a0a0a0" stroke-width="0.6" rx="0"/>
<rect x="846.50" y="196.99" width="53.60" height="8.79" fill="#f17778" stroke="#a0a0a0" stroke-width="0.6" rx="0"/>
<rect x="900.10" y="196.99" width="53.60" height="8.79" fill="#f5a5a6" stroke="#a0a0a0" stroke-width="0.6" rx="0"/>
<rect x="739.30" y="205.78" width="53.60" height="8.79" fill="#8c9acc" stroke="#a0a0a0" stroke-width="0.6" rx="0"/>
<rect x="792.90" y="205.78" width="53.60" height="8.79" fill="#8292c8" stroke="#a0a0a0" stroke-width="0.6" rx="0"/>
<rect x="846.50" y="205.78" width="53.60" height="8.79" fill="#f5a5a6" stroke="#a0a0a0" stroke-width="0.6" rx="0"/>
<rect x="900.10" y="205.78" width="53.60" height="8.79" fill="#f17778" stroke="#a0a0a0" stroke-width="0.6" rx="0"/>
<rect x="739.30" y="214.57" width="53.60" height="8.79" fill="#8c9acc" stroke="#a0a0a0" stroke-width="0.6" rx="0"/>
<rect x="792.90" y="214.57" width="53.60" height="8.79" fill="#8c9acc" stroke="#a0a0a0" stroke-width="0.6" rx="0"/>
<rect x="846.50" y="214.57" width="53.60" height="8.79" fill="#f5a5a6" stroke="#a0a0a0" stroke-width="0.6" rx="0"/>
<rect x="900.10" y="214.57" width="53.60" height="8.79" fill="#f17778" stroke="#a0a0a0" stroke-width="0.6" rx="0"/>
<rect x="739.30" y="223.36" width="53.60" height="8.79" fill="#9aa6d2" stroke="#a0a0a0" stroke-width="0.6" rx="0"/>
<rect x="792.90" y="223.36" width="53.60" height="8.79" fill="#7486c2" stroke="#a0a0a0" stroke-width="0.6" rx="0"/>
<rect x="846.50" y="223.36" width="53.60" height="8.79" fill="#f49798" stroke="#a0a0a0" stroke-width="0.6" rx="0"/>
<rect x="900.10" y="223.36" width="53.60" height="8.79" fill="#f39393" stroke="#a0a0a0" stroke-width="0.6" rx="0"/>
<rect x="739.30" y="232.15" width="53.60" height="8.79" fill="#8c9acc" stroke="#a0a0a0" stroke-width="0.6" rx="0"/>
<rect x="792.90" y="232.15" width="53.60" height="8.79" fill="#8292c8" stroke="#a0a0a0" stroke-width="0.6" rx="0"/>
<rect x="846.50" y="232.15" width="53.60" height="8.79" fill="#f28586" stroke="#a0a0a0" stroke-width="0.6" rx="0"/>
<rect x="900.10" y="232.15" width="53.60" height="8.79" fill="#f49798" stroke="#a0a0a0" stroke-width="0.6" rx="0"/>
<rect x="739.30" y="240.94" width="53.60" height="8.79" fill="#4860b0" stroke="#a0a0a0" stroke-width="0.6" rx="0"/>
<rect x="792.90" y="240.94" width="53.60" height="8.79" fill="#f49798" stroke="#a0a0a0" stroke-width="0.6" rx="0"/>
<rect x="846.50" y="240.94" width="53.60" height="8.79" fill="#f9dedf" stroke="#a0a0a0" stroke-width="0.6" rx="0"/>
<rect x="900.10" y="240.94" width="53.60" height="8.79" fill="#f5a5a6" stroke="#a0a0a0" stroke-width="0.6" rx="0"/>
<rect x="739.30" y="249.73" width="53.60" height="8.79" fill="#d9dced" stroke="#a0a0a0" stroke-width="0.6" rx="0"/>
<rect x="792.90" y="249.73" width="53.60" height="8.79" fill="#f17778" stroke="#a0a0a0" stroke-width="0.6" rx="0"/>
<rect x="846.50" y="249.73" width="53.60" height="8.79" fill="#6579bc" stroke="#a0a0a0" stroke-width="0.6" rx="0"/>
<rect x="900.10" y="249.73" width="53.60" height="8.79" fill="#f9dedf" stroke="#a0a0a0" stroke-width="0.6" rx="0"/>
<rect x="739.30" y="258.52" width="53.60" height="8.79" fill="#ee5050" stroke="#a0a0a0" stroke-width="0.6" rx="0"/>
<rect x="792.90" y="258.52" width="53.60" height="8.79" fill="#fbf9fb" stroke="#a0a0a0" stroke-width="0.6" rx="0"/>
<rect x="846.50" y="258.52" width="53.60" height="8.79" fill="#9aa6d2" stroke="#a0a0a0" stroke-width="0.6" rx="0"/>
<rect x="900.10" y="258.52" width="53.60" height="8.79" fill="#9aa6d2" stroke="#a0a0a0" stroke-width="0.6" rx="0"/>
<rect x="739.30" y="267.31" width="53.60" height="8.79" fill="#f17778" stroke="#a0a0a0" stroke-width="0.6" rx="0"/>
<rect x="792.90" y="267.31" width="53.60" height="8.79" fill="#bcc3e1" stroke="#a0a0a0" stroke-width="0.6" rx="0"/>
<rect x="846.50" y="267.31" width="53.60" height="8.79" fill="#f5a5a6" stroke="#a0a0a0" stroke-width="0.6" rx="0"/>
<rect x="900.10" y="267.31" width="53.60" height="8.79" fill="#6579bc" stroke="#a0a0a0" stroke-width="0.6" rx="0"/>
<rect x="739.30" y="276.10" width="53.60" height="8.79" fill="#f17778" stroke="#a0a0a0" stroke-width="0.6" rx="0"/>
<rect x="792.90" y="276.10" width="53.60" height="8.79" fill="#f7c2c4" stroke="#a0a0a0" stroke-width="0.6" rx="0"/>
<rect x="846.50" y="276.10" width="53.60" height="8.79" fill="#fbf9fb" stroke="#a0a0a0" stroke-width="0.6" rx="0"/>
<rect x="900.10" y="276.10" width="53.60" height="8.79" fill="#4860b0" stroke="#a0a0a0" stroke-width="0.6" rx="0"/>
<rect x="739.30" y="284.89" width="53.60" height="8.79" fill="#cbd0e7" stroke="#a0a0a0" stroke-width="0.6" rx="0"/>
<rect x="792.90" y="284.89" width="53.60" height="8.79" fill="#4860b0" stroke="#a0a0a0" stroke-width="0.6" rx="0"/>
<rect x="846.50" y="284.89" width="53.60" height="8.79" fill="#f49798" stroke="#a0a0a0" stroke-width="0.6" rx="0"/>
<rect x="900.10" y="284.89" width="53.60" height="8.79" fill="#f49798" stroke="#a0a0a0" stroke-width="0.6" rx="0"/>
<rect x="739.30" y="293.68" width="53.60" height="8.79" fill="#f5a5a6" stroke="#a0a0a0" stroke-width="0.6" rx="0"/>
<rect x="792.90" y="293.68" width="53.60" height="8.79" fill="#4860b0" stroke="#a0a0a0" stroke-width="0.6" rx="0"/>
<rect x="846.50" y="293.68" width="53.60" height="8.79" fill="#cbd0e7" stroke="#a0a0a0" stroke-width="0.6" rx="0"/>
<rect x="900.10" y="293.68" width="53.60" height="8.79" fill="#f28586" stroke="#a0a0a0" stroke-width="0.6" rx="0"/>
<rect x="739.30" y="302.47" width="53.60" height="8.79" fill="#8292c8" stroke="#a0a0a0" stroke-width="0.6" rx="0"/>
<rect x="792.90" y="302.47" width="53.60" height="8.79" fill="#f7c2c4" stroke="#a0a0a0" stroke-width="0.6" rx="0"/>
<rect x="846.50" y="302.47" width="53.60" height="8.79" fill="#8c9acc" stroke="#a0a0a0" stroke-width="0.6" rx="0"/>
<rect x="900.10" y="302.47" width="53.60" height="8.79" fill="#f17778" stroke="#a0a0a0" stroke-width="0.6" rx="0"/>
<rect x="739.30" y="311.26" width="53.60" height="8.79" fill="#8c9acc" stroke="#a0a0a0" stroke-width="0.6" rx="0"/>
<rect x="792.90" y="311.26" width="53.60" height="8.79" fill="#f17778" stroke="#a0a0a0" stroke-width="0.6" rx="0"/>
<rect x="846.50" y="311.26" width="53.60" height="8.79" fill="#8c9acc" stroke="#a0a0a0" stroke-width="0.6" rx="0"/>
<rect x="900.10" y="311.26" width="53.60" height="8.79" fill="#f7c2c4" stroke="#a0a0a0" stroke-width="0.6" rx="0"/>
<rect x="739.30" y="320.05" width="53.60" height="8.79" fill="#fbf9fb" stroke="#a0a0a0" stroke-width="0.6" rx="0"/>
<rect x="792.90" y="320.05" width="53.60" height="8.79" fill="#8292c8" stroke="#a0a0a0" stroke-width="0.6" rx="0"/>
<rect x="846.50" y="320.05" width="53.60" height="8.79" fill="#ee5050" stroke="#a0a0a0" stroke-width="0.6" rx="0"/>
<rect x="900.10" y="320.05" width="53.60" height="8.79" fill="#a9b3d9" stroke="#a0a0a0" stroke-width="0.6" rx="0"/>
<rect x="739.30" y="328.84" width="53.60" height="8.79" fill="#f8d0d1" stroke="#a0a0a0" stroke-width="0.6" rx="0"/>
<rect x="792.90" y="328.84" width="53.60" height="8.79" fill="#bcc3e1" stroke="#a0a0a0" stroke-width="0.6" rx="0"/>
<rect x="846.50" y="328.84" width="53.60" height="8.79" fill="#f17778" stroke="#a0a0a0" stroke-width="0.6" rx="0"/>
<rect x="900.10" y="328.84" width="53.60" height="8.79" fill="#7486c2" stroke="#a0a0a0" stroke-width="0.6" rx="0"/>
<rect x="739.30" y="337.63" width="53.60" height="8.79" fill="#f5a5a6" stroke="#a0a0a0" stroke-width="0.6" rx="0"/>
<rect x="792.90" y="337.63" width="53.60" height="8.79" fill="#4860b0" stroke="#a0a0a0" stroke-width="0.6" rx="0"/>
<rect x="846.50" y="337.63" width="53.60" height="8.79" fill="#f28586" stroke="#a0a0a0" stroke-width="0.6" rx="0"/>
<rect x="900.10" y="337.63" width="53.60" height="8.79" fill="#cbd0e7" stroke="#a0a0a0" stroke-width="0.6" rx="0"/>
<rect x="739.30" y="346.42" width="53.60" height="8.79" fill="#ef5d5e" stroke="#a0a0a0" stroke-width="0.6" rx="0"/>
<rect x="792.90" y="346.42" width="53.60" height="8.79" fill="#576db6" stroke="#a0a0a0" stroke-width="0.6" rx="0"/>
<rect x="846.50" y="346.42" width="53.60" height="8.79" fill="#f9dedf" stroke="#a0a0a0" stroke-width="0.6" rx="0"/>
<rect x="900.10" y="346.42" width="53.60" height="8.79" fill="#d9dced" stroke="#a0a0a0" stroke-width="0.6" rx="0"/>
<rect x="739.30" y="355.21" width="53.60" height="8.79" fill="#f8d0d1" stroke="#a0a0a0" stroke-width="0.6" rx="0"/>
<rect x="792.90" y="355.21" width="53.60" height="8.79" fill="#576db6" stroke="#a0a0a0" stroke-width="0.6" rx="0"/>
<rect x="846.50" y="355.21" width="53.60" height="8.79" fill="#cbd0e7" stroke="#a0a0a0" stroke-width="0.6" rx="0"/>
<rect x="900.10" y="355.21" width="53.60" height="8.79" fill="#f17778" stroke="#a0a0a0" stroke-width="0.6" rx="0"/>
<rect x="739.30" y="364.00" width="53.60" height="8.79" fill="#cbd0e7" stroke="#a0a0a0" stroke-width="0.6" rx="0"/>
<rect x="792.90" y="364.00" width="53.60" height="8.79" fill="#7486c2" stroke="#a0a0a0" stroke-width="0.6" rx="0"/>
<rect x="846.50" y="364.00" width="53.60" height="8.79" fill="#fbf9fb" stroke="#a0a0a0" stroke-width="0.6" rx="0"/>
<rect x="900.10" y="364.00" width="53.60" height="8.79" fill="#ef5d5e" stroke="#a0a0a0" stroke-width="0.6" rx="0"/>
<rect x="739.30" y="372.79" width="53.60" height="8.79" fill="#d9dced" stroke="#a0a0a0" stroke-width="0.6" rx="0"/>
<rect x="792.90" y="372.79" width="53.60" height="8.79" fill="#4860b0" stroke="#a0a0a0" stroke-width="0.6" rx="0"/>
<rect x="846.50" y="372.79" width="53.60" height="8.79" fill="#f5a5a6" stroke="#a0a0a0" stroke-width="0.6" rx="0"/>
<rect x="900.10" y="372.79" width="53.60" height="8.79" fill="#f39393" stroke="#a0a0a0" stroke-width="0.6" rx="0"/>
<rect x="739.30" y="381.58" width="53.60" height="8.79" fill="#bcc3e1" stroke="#a0a0a0" stroke-width="0.6" rx="0"/>
<rect x="792.90" y="381.58" width="53.60" height="8.79" fill="#576db6" stroke="#a0a0a0" stroke-width="0.6" rx="0"/>
<rect x="846.50" y="381.58" width="53.60" height="8.79" fill="#f49798" stroke="#a0a0a0" stroke-width="0.6" rx="0"/>
<rect x="900.10" y="381.58" width="53.60" height="8.79" fill="#f39393" stroke="#a0a0a0" stroke-width="0.6" rx="0"/>
<rect x="739.30" y="390.37" width="53.60" height="8.79" fill="#a9b3d9" stroke="#a0a0a0" stroke-width="0.6" rx="0"/>
<rect x="792.90" y="390.37" width="53.60" height="8.79" fill="#576db6" stroke="#a0a0a0" stroke-width="0.6" rx="0"/>
<rect x="846.50" y="390.37" width="53.60" height="8.79" fill="#f39393" stroke="#a0a0a0" stroke-width="0.6" rx="0"/>
<rect x="900.10" y="390.37" width="53.60" height="8.79" fill="#f39393" stroke="#a0a0a0" stroke-width="0.6" rx="0"/>
<rect x="739.30" y="399.16" width="53.60" height="8.79" fill="#a9b3d9" stroke="#a0a0a0" stroke-width="0.6" rx="0"/>
<rect x="792.90" y="399.16" width="53.60" height="8.79" fill="#576db6" stroke="#a0a0a0" stroke-width="0.6" rx="0"/>
<rect x="846.50" y="399.16" width="53.60" height="8.79" fill="#f39393" stroke="#a0a0a0" stroke-width="0.6" rx="0"/>
<rect x="900.10" y="399.16" width="53.60" height="8.79" fill="#f39393" stroke="#a0a0a0" stroke-width="0.6" rx="0"/>
<rect x="739.30" y="407.95" width="53.60" height="8.79" fill="#a9b3d9" stroke="#a0a0a0" stroke-width="0.6" rx="0"/>
<rect x="792.90" y="407.95" width="53.60" height="8.79" fill="#576db6" stroke="#a0a0a0" stroke-width="0.6" rx="0"/>
<rect x="846.50" y="407.95" width="53.60" height="8.79" fill="#f39393" stroke="#a0a0a0" stroke-width="0.6" rx="0"/>
<rect x="900.10" y="407.95" width="53.60" height="8.79" fill="#f49798" stroke="#a0a0a0" stroke-width="0.6" rx="0"/>
<rect x="739.30" y="416.74" width="53.60" height="8.79" fill="#576db6" stroke="#a0a0a0" stroke-width="0.6" rx="0"/>
<rect x="792.90" y="416.74" width="53.60" height="8.79" fill="#bcc3e1" stroke="#a0a0a0" stroke-width="0.6" rx="0"/>
<rect x="846.50" y="416.74" width="53.60" height="8.79" fill="#f39393" stroke="#a0a0a0" stroke-width="0.6" rx="0"/>
<rect x="900.10" y="416.74" width="53.60" height="8.79" fill="#f39393" stroke="#a0a0a0" stroke-width="0.6" rx="0"/>
<rect x="739.30" y="425.53" width="53.60" height="8.79" fill="#6579bc" stroke="#a0a0a0" stroke-width="0.6" rx="0"/>
<rect x="792.90" y="425.53" width="53.60" height="8.79" fill="#9aa6d2" stroke="#a0a0a0" stroke-width="0.6" rx="0"/>
<rect x="846.50" y="425.53" width="53.60" height="8.79" fill="#f39393" stroke="#a0a0a0" stroke-width="0.6" rx="0"/>
<rect x="900.10" y="425.53" width="53.60" height="8.79" fill="#f39393" stroke="#a0a0a0" stroke-width="0.6" rx="0"/>
<rect x="739.30" y="434.32" width="53.60" height="8.79" fill="#9aa6d2" stroke="#a0a0a0" stroke-width="0.6" rx="0"/>
<rect x="792.90" y="434.32" width="53.60" height="8.79" fill="#ee5050" stroke="#a0a0a0" stroke-width="0.6" rx="0"/>
<rect x="846.50" y="434.32" width="53.60" height="8.79" fill="#9aa6d2" stroke="#a0a0a0" stroke-width="0.6" rx="0"/>
<rect x="900.10" y="434.32" width="53.60" height="8.79" fill="#fbf9fb" stroke="#a0a0a0" stroke-width="0.6" rx="0"/>
<defs><linearGradient id="cbR" x1="0" y1="0" x2="0" y2="1"><stop offset="0" stop-color="#e4342e"/><stop offset="0.5" stop-color="#f7f5fa"/><stop offset="1" stop-color="#2f55a4"/></linearGradient></defs>
<rect x="959.00" y="99.50" width="3.20" height="75.00" fill="url(#cbR)" stroke="none" stroke-width="0.6" rx="0"/>
<text x="963.80" y="101.50" font-family="'Liberation Sans', sans-serif" font-size="4.60" text-anchor="start" fill="#444" font-weight="normal" font-style="normal" stroke="#444" stroke-width="0.079" textLength="2.56" lengthAdjust="spacingAndGlyphs">2</text>
<text x="963.80" y="120.10" font-family="'Liberation Sans', sans-serif" font-size="4.60" text-anchor="start" fill="#444" font-weight="normal" font-style="normal" stroke="#444" stroke-width="0.079" textLength="2.56" lengthAdjust="spacingAndGlyphs">1</text>
<text x="963.80" y="138.70" font-family="'Liberation Sans', sans-serif" font-size="4.60" text-anchor="start" fill="#444" font-weight="normal" font-style="normal" stroke="#444" stroke-width="0.079" textLength="2.56" lengthAdjust="spacingAndGlyphs">0</text>
<text x="963.80" y="157.30" font-family="'Liberation Sans', sans-serif" font-size="4.60" text-anchor="start" fill="#444" font-weight="normal" font-style="normal" stroke="#444" stroke-width="0.079" textLength="4.09" lengthAdjust="spacingAndGlyphs">-1</text>
<text x="963.80" y="175.90" font-family="'Liberation Sans', sans-serif" font-size="4.60" text-anchor="start" fill="#444" font-weight="normal" font-style="normal" stroke="#444" stroke-width="0.079" textLength="4.09" lengthAdjust="spacingAndGlyphs">-2</text>
<text x="352.20" y="5.60" font-family="'Liberation Sans', sans-serif" font-size="6.20" text-anchor="start" fill="#111" font-weight="bold" font-style="normal" textLength="4.48" lengthAdjust="spacingAndGlyphs">A</text>
<text x="376.60" y="7.80" font-family="'Liberation Serif', serif" font-size="7.30" text-anchor="middle" fill="#222" font-weight="normal" font-style="normal" stroke="#222" stroke-width="0.125" textLength="21.29" lengthAdjust="spacingAndGlyphs">Sitmulus</text>
<line x1="376.60" y1="11.40" x2="376.60" y2="20.38" stroke="#222" stroke-width="0.6"/>
<polygon points="376.60,22.30 374.70,19.10 378.50,19.10" fill="#222"/>
<text x="376.60" y="31.60" font-family="'Liberation Serif', serif" font-size="7.30" text-anchor="middle" fill="#222" font-weight="normal" font-style="normal" stroke="#222" stroke-width="0.125" textLength="22.78" lengthAdjust="spacingAndGlyphs">Sensor or</text>
<text x="376.60" y="39.80" font-family="'Liberation Serif', serif" font-size="7.30" text-anchor="middle" fill="#222" font-weight="normal" font-style="normal" stroke="#222" stroke-width="0.125" textLength="19.61" lengthAdjust="spacingAndGlyphs">receptor</text>
<line x1="376.60" y1="43.60" x2="376.60" y2="53.28" stroke="#222" stroke-width="0.6"/>
<polygon points="376.60,55.20 374.70,52.00 378.50,52.00" fill="#222"/>
<text x="376.60" y="63.60" font-family="'Liberation Serif', serif" font-size="7.30" text-anchor="middle" fill="#222" font-weight="normal" font-style="normal" stroke="#222" stroke-width="0.125" textLength="46.54" lengthAdjust="spacingAndGlyphs">G-protein or kinase</text>
<text x="376.60" y="72.00" font-family="'Liberation Serif', serif" font-size="7.30" text-anchor="middle" fill="#222" font-weight="normal" font-style="normal" stroke="#222" stroke-width="0.125" textLength="44.05" lengthAdjust="spacingAndGlyphs">Other components</text>
<line x1="376.60" y1="75.00" x2="376.60" y2="85.68" stroke="#222" stroke-width="0.6"/>
<polygon points="376.60,87.60 374.70,84.40 378.50,84.40" fill="#222"/>
<text x="376.60" y="95.90" font-family="'Liberation Serif', serif" font-size="7.30" text-anchor="middle" fill="#222" font-weight="normal" font-style="normal" stroke="#222" stroke-width="0.125" textLength="25.94" lengthAdjust="spacingAndGlyphs">MAPKKK</text>
<line x1="376.60" y1="98.70" x2="376.60" y2="108.88" stroke="#222" stroke-width="0.6"/>
<polygon points="376.60,110.80 374.70,107.60 378.50,107.60" fill="#222"/>
<text x="376.60" y="119.40" font-family="'Liberation Serif', serif" font-size="7.30" text-anchor="middle" fill="#222" font-weight="normal" font-style="normal" stroke="#222" stroke-width="0.125" textLength="21.62" lengthAdjust="spacingAndGlyphs">MAPKK</text>
<line x1="376.60" y1="122.50" x2="376.60" y2="132.38" stroke="#222" stroke-width="0.6"/>
<polygon points="376.60,134.30 374.70,131.10 378.50,131.10" fill="#222"/>
<text x="376.60" y="142.60" font-family="'Liberation Serif', serif" font-size="7.30" text-anchor="middle" fill="#222" font-weight="normal" font-style="normal" stroke="#222" stroke-width="0.125" textLength="17.30" lengthAdjust="spacingAndGlyphs">MAPK</text>
<line x1="376.60" y1="146.50" x2="376.60" y2="156.08" stroke="#222" stroke-width="0.6"/>
<polygon points="376.60,158.00 374.70,154.80 378.50,154.80" fill="#222"/>
<text x="376.60" y="166.80" font-family="'Liberation Serif', serif" font-size="7.30" text-anchor="middle" fill="#222" font-weight="normal" font-style="normal" stroke="#222" stroke-width="0.125" textLength="24.61" lengthAdjust="spacingAndGlyphs">Substrates</text>
<text x="376.60" y="175.80" font-family="'Liberation Serif', serif" font-size="7.30" text-anchor="middle" fill="#222" font-weight="normal" font-style="normal" stroke="#222" stroke-width="0.125" textLength="44.05" lengthAdjust="spacingAndGlyphs">Other components</text>
<line x1="376.60" y1="178.00" x2="376.60" y2="188.08" stroke="#222" stroke-width="0.6"/>
<polygon points="376.60,190.00 374.70,186.80 378.50,186.80" fill="#222"/>
<text x="376.60" y="199.30" font-family="'Liberation Serif', serif" font-size="7.30" text-anchor="middle" fill="#222" font-weight="normal" font-style="normal" stroke="#222" stroke-width="0.125" textLength="25.27" lengthAdjust="spacingAndGlyphs">Responses</text>
<text x="407.80" y="5.60" font-family="'Liberation Sans', sans-serif" font-size="6.20" text-anchor="start" fill="#111" font-weight="bold" font-style="normal" textLength="4.48" lengthAdjust="spacingAndGlyphs">B</text>
<rect x="464.60" y="2.00" width="31.20" height="8.70" fill="#AFD59A" stroke="#7fae6a" stroke-width="0.6" rx="0"/>
<text x="480.20" y="8.70" font-family="'Liberation Serif', serif" font-size="6.40" text-anchor="middle" fill="#222" font-weight="normal" font-style="normal" stroke="#222" stroke-width="0.110" textLength="21.57" lengthAdjust="spacingAndGlyphs">Pathogens</text>
<rect x="536.10" y="2.00" width="46.60" height="8.70" fill="#AFD59A" stroke="#7fae6a" stroke-width="0.6" rx="0"/>
<text x="559.40" y="8.70" font-family="'Liberation Serif', serif" font-size="6.40" text-anchor="middle" fill="#222" font-weight="normal" font-style="normal" stroke="#222" stroke-width="0.110" textLength="33.09" lengthAdjust="spacingAndGlyphs">Abiotic stresses</text>
<line x1="480.40" y1="10.70" x2="480.40" y2="18.50" stroke="#222" stroke-width="0.6"/>
<polygon points="480.40,20.30 478.70,17.30 482.10,17.30" fill="#222"/>
<line x1="559.30" y1="10.70" x2="559.30" y2="18.50" stroke="#222" stroke-width="0.6"/>
<polygon points="559.30,20.30 557.60,17.30 561.00,17.30" fill="#222"/>
<ellipse cx="470.20" cy="28.40" rx="10.9" ry="6.2" fill="#dedede" stroke="#999" stroke-width="0.6"/>
<text x="470.20" y="30.60" font-family="'Liberation Serif', serif" font-size="6.00" text-anchor="middle" fill="#333" font-weight="normal" font-style="normal" stroke="#333" stroke-width="0.103" textLength="10.94" lengthAdjust="spacingAndGlyphs">FLS2</text>
<ellipse cx="492.40" cy="28.40" rx="10.9" ry="6.2" fill="#fff" stroke="#999" stroke-width="0.6"/>
<text x="492.40" y="30.60" font-family="'Liberation Serif', serif" font-size="6.00" text-anchor="middle" fill="#333" font-weight="normal" font-style="normal" stroke="#333" stroke-width="0.103" textLength="9.29" lengthAdjust="spacingAndGlyphs">ETR</text>
<ellipse cx="514.80" cy="28.40" rx="10.9" ry="6.2" fill="#fff" stroke="#999" stroke-width="0.6"/>
<text x="514.80" y="30.60" font-family="'Liberation Serif', serif" font-size="6.00" text-anchor="middle" fill="#333" font-weight="normal" font-style="normal" stroke="#333" stroke-width="0.103" textLength="9.02" lengthAdjust="spacingAndGlyphs">ERS</text>
<ellipse cx="538.10" cy="28.40" rx="10.9" ry="6.2" fill="#fff" stroke="#999" stroke-width="0.6"/>
<text x="538.10" y="30.60" font-family="'Liberation Serif', serif" font-size="6.00" text-anchor="middle" fill="#333" font-weight="normal" font-style="normal" stroke="#333" stroke-width="0.103" textLength="8.20" lengthAdjust="spacingAndGlyphs">EIN</text>
<ellipse cx="565.30" cy="28.40" rx="15.1" ry="6.2" fill="#fff" stroke="#999" stroke-width="0.6"/>
<text x="565.30" y="30.60" font-family="'Liberation Serif', serif" font-size="6.00" text-anchor="middle" fill="#333" font-weight="normal" font-style="normal" stroke="#333" stroke-width="0.103" textLength="18.86" lengthAdjust="spacingAndGlyphs">R-protein</text>
<text x="581.80" y="30.60" font-family="'Liberation Serif', serif" font-size="6.00" text-anchor="start" fill="#333" font-weight="normal" font-style="normal" stroke="#333" stroke-width="0.103" textLength="6.96" lengthAdjust="spacingAndGlyphs">etc.</text>
<polyline points="456.3,28.9 456.3,36.9 593.6,36.9 593.6,28.9" fill="none" stroke="#666" stroke-width="0.8"/>
<rect x="464.30" y="40.30" width="42.30" height="11.20" fill="#F6B233" stroke="#d9982e" stroke-width="0.6" rx="0"/>
<text x="485.45" y="48.38" font-family="'Liberation Serif', serif" font-size="7.30" text-anchor="middle" fill="#222" font-weight="normal" font-style="normal" stroke="#222" stroke-width="0.125" textLength="20.95" lengthAdjust="spacingAndGlyphs">MKKK?</text>
<rect x="555.60" y="40.30" width="31.50" height="11.20" fill="#F6B233" stroke="#d9982e" stroke-width="0.6" rx="0"/>
<text x="571.35" y="48.38" font-family="'Liberation Serif', serif" font-size="7.30" text-anchor="middle" fill="#222" font-weight="normal" font-style="normal" stroke="#222" stroke-width="0.125" textLength="20.62" lengthAdjust="spacingAndGlyphs">MEKK1</text>
<line x1="485.60" y1="51.50" x2="485.60" y2="62.22" stroke="#222" stroke-width="0.6"/>
<polygon points="485.60,63.90 484.00,61.10 487.20,61.10" fill="#222"/>
<line x1="571.20" y1="51.50" x2="571.20" y2="62.22" stroke="#222" stroke-width="0.6"/>
<polygon points="571.20,63.90 569.60,61.10 572.80,61.10" fill="#222"/>
<ellipse cx="490.50" cy="57.20" rx="4.4" ry="4.75" fill="#E8462A" stroke="#c8401f" stroke-width="0.3"/>
<text x="490.50" y="59.70" font-family="'Liberation Serif', serif" font-size="7.20" text-anchor="middle" fill="#3a1a10" font-weight="normal" font-style="normal" stroke="#3a1a10" stroke-width="0.123" textLength="3.28" lengthAdjust="spacingAndGlyphs">P</text>
<ellipse cx="576.40" cy="57.20" rx="4.4" ry="4.75" fill="#E8462A" stroke="#c8401f" stroke-width="0.3"/>
<text x="576.40" y="59.70" font-family="'Liberation Serif', serif" font-size="7.20" text-anchor="middle" fill="#3a1a10" font-weight="normal" font-style="normal" stroke="#3a1a10" stroke-width="0.123" textLength="3.28" lengthAdjust="spacingAndGlyphs">P</text>
<rect x="464.30" y="63.90" width="42.30" height="10.70" fill="#F6B233" stroke="#d9982e" stroke-width="0.6" rx="0"/>
<text x="485.45" y="71.73" font-family="'Liberation Serif', serif" font-size="7.30" text-anchor="middle" fill="#222" font-weight="normal" font-style="normal" stroke="#222" stroke-width="0.125" textLength="35.59" lengthAdjust="spacingAndGlyphs">MKK4/MKK5</text>
<rect x="549.80" y="63.90" width="42.70" height="10.70" fill="#F6B233" stroke="#d9982e" stroke-width="0.6" rx="0"/>
<text x="571.15" y="71.73" font-family="'Liberation Serif', serif" font-size="7.30" text-anchor="middle" fill="#222" font-weight="normal" font-style="normal" stroke="#222" stroke-width="0.125" textLength="35.59" lengthAdjust="spacingAndGlyphs">MKK1/MKK2</text>
<line x1="485.60" y1="74.60" x2="485.60" y2="84.82" stroke="#222" stroke-width="0.6"/>
<polygon points="485.60,86.50 484.00,83.70 487.20,83.70" fill="#222"/>
<line x1="571.20" y1="74.60" x2="571.20" y2="84.82" stroke="#222" stroke-width="0.6"/>
<polygon points="571.20,86.50 569.60,83.70 572.80,83.70" fill="#222"/>
<ellipse cx="490.50" cy="79.60" rx="4.4" ry="4.75" fill="#E8462A" stroke="#c8401f" stroke-width="0.3"/>
<text x="490.50" y="82.10" font-family="'Liberation Serif', serif" font-size="7.20" text-anchor="middle" fill="#3a1a10" font-weight="normal" font-style="normal" stroke="#3a1a10" stroke-width="0.123" textLength="3.28" lengthAdjust="spacingAndGlyphs">P</text>
<ellipse cx="576.40" cy="79.60" rx="4.4" ry="4.75" fill="#E8462A" stroke="#c8401f" stroke-width="0.3"/>
<text x="576.40" y="82.10" font-family="'Liberation Serif', serif" font-size="7.20" text-anchor="middle" fill="#3a1a10" font-weight="normal" font-style="normal" stroke="#3a1a10" stroke-width="0.123" textLength="3.28" lengthAdjust="spacingAndGlyphs">P</text>
<rect x="464.30" y="86.50" width="42.30" height="11.20" fill="#F6B233" stroke="#d9982e" stroke-width="0.6" rx="0"/>
<text x="485.45" y="94.58" font-family="'Liberation Serif', serif" font-size="7.30" text-anchor="middle" fill="#222" font-weight="normal" font-style="normal" stroke="#222" stroke-width="0.125" textLength="33.60" lengthAdjust="spacingAndGlyphs">MPK3/MPK6</text>
<rect x="549.80" y="86.50" width="42.70" height="11.20" fill="#F6B233" stroke="#d9982e" stroke-width="0.6" rx="0"/>
<text x="571.15" y="94.58" font-family="'Liberation Serif', serif" font-size="7.30" text-anchor="middle" fill="#222" font-weight="normal" font-style="normal" stroke="#222" stroke-width="0.125" textLength="15.97" lengthAdjust="spacingAndGlyphs">MPK4</text>
<rect x="516.00" y="63.60" width="24.40" height="11.00" fill="#fff" stroke="#555" stroke-width="0.6" rx="0"/>
<text x="528.20" y="71.58" font-family="'Liberation Serif', serif" font-size="7.30" text-anchor="middle" fill="#222" font-weight="normal" font-style="normal" stroke="#222" stroke-width="0.125" textLength="16.63" lengthAdjust="spacingAndGlyphs">HopF2</text>
<rect x="516.00" y="86.50" width="24.40" height="11.20" fill="#fff" stroke="#555" stroke-width="0.6" rx="0"/>
<text x="528.20" y="94.58" font-family="'Liberation Serif', serif" font-size="7.30" text-anchor="middle" fill="#222" font-weight="normal" font-style="normal" stroke="#222" stroke-width="0.125" textLength="19.62" lengthAdjust="spacingAndGlyphs">HopAI1</text>
<line x1="516.00" y1="69.10" x2="506.90" y2="69.10" stroke="#444" stroke-width="0.7"/>
<line x1="506.90" y1="67.50" x2="506.90" y2="70.70" stroke="#444" stroke-width="0.84"/>
<line x1="516.00" y1="92.10" x2="506.90" y2="92.10" stroke="#444" stroke-width="0.7"/>
<line x1="506.90" y1="90.50" x2="506.90" y2="93.70" stroke="#444" stroke-width="0.84"/>
<line x1="540.40" y1="92.10" x2="549.50" y2="92.10" stroke="#444" stroke-width="0.7"/>
<line x1="549.50" y1="93.70" x2="549.50" y2="90.50" stroke="#444" stroke-width="0.84"/>
<rect x="428.30" y="50.50" width="23.50" height="20.10" fill="#F6B233" stroke="#d9982e" stroke-width="0.6" rx="0"/>
<text x="440.05" y="58.94" font-family="'Liberation Serif', serif" font-size="7.30" text-anchor="middle" fill="#222" font-weight="normal" font-style="normal" stroke="#222" stroke-width="0.125" textLength="17.63" lengthAdjust="spacingAndGlyphs">AP2C1</text>
<text x="440.05" y="67.12" font-family="'Liberation Serif', serif" font-size="7.30" text-anchor="middle" fill="#222" font-weight="normal" font-style="normal" stroke="#222" stroke-width="0.125" textLength="16.64" lengthAdjust="spacingAndGlyphs">PP2C5</text>
<rect x="428.30" y="74.00" width="23.50" height="11.40" fill="#fff" stroke="#555" stroke-width="0.6" rx="0"/>
<text x="440.05" y="82.18" font-family="'Liberation Serif', serif" font-size="7.30" text-anchor="middle" fill="#222" font-weight="normal" font-style="normal" stroke="#222" stroke-width="0.125" textLength="13.31" lengthAdjust="spacingAndGlyphs">PTP1</text>
<rect x="428.30" y="88.80" width="23.50" height="19.70" fill="#F6B233" stroke="#d9982e" stroke-width="0.6" rx="0"/>
<text x="440.05" y="97.04" font-family="'Liberation Serif', serif" font-size="7.30" text-anchor="middle" fill="#222" font-weight="normal" font-style="normal" stroke="#222" stroke-width="0.125" textLength="15.97" lengthAdjust="spacingAndGlyphs">MKP1</text>
<text x="440.05" y="105.22" font-family="'Liberation Serif', serif" font-size="7.30" text-anchor="middle" fill="#222" font-weight="normal" font-style="normal" stroke="#222" stroke-width="0.125" textLength="15.97" lengthAdjust="spacingAndGlyphs">MKP2</text>
<polyline points="451.8,58.8 454.2,58.8 454.2,99.8 452.5,99.8" fill="none" stroke="#444" stroke-width="0.7"/>
<line x1="454.20" y1="92.10" x2="464.00" y2="92.10" stroke="#444" stroke-width="0.7"/>
<line x1="464.00" y1="93.70" x2="464.00" y2="90.50" stroke="#444" stroke-width="0.84"/>
<rect x="608.30" y="92.00" width="30.50" height="10.70" fill="#F6B233" stroke="#d9982e" stroke-width="0.6" rx="0"/>
<text x="623.55" y="99.83" font-family="'Liberation Serif', serif" font-size="7.30" text-anchor="middle" fill="#222" font-weight="normal" font-style="normal" stroke="#222" stroke-width="0.125" textLength="20.62" lengthAdjust="spacingAndGlyphs">MEKK2</text>
<line x1="592.50" y1="93.00" x2="608.00" y2="98.30" stroke="#444" stroke-width="0.7"/>
<line x1="607.48" y1="99.81" x2="608.52" y2="96.79" stroke="#444" stroke-width="0.84"/>
<line x1="485.80" y1="97.70" x2="485.80" y2="115.20" stroke="#333" stroke-width="0.6"/>
<line x1="422.00" y1="115.20" x2="539.50" y2="115.20" stroke="#444" stroke-width="0.7"/>
<line x1="422.00" y1="115.20" x2="422.00" y2="125.82" stroke="#333" stroke-width="0.6"/>
<polygon points="422.00,127.50 420.40,124.70 423.60,124.70" fill="#222"/>
<line x1="455.90" y1="115.20" x2="455.90" y2="126.02" stroke="#333" stroke-width="0.6"/>
<polygon points="455.90,127.70 454.30,124.90 457.50,124.90" fill="#222"/>
<line x1="485.80" y1="115.20" x2="485.80" y2="127.62" stroke="#333" stroke-width="0.6"/>
<polygon points="485.80,129.30 484.20,126.50 487.40,126.50" fill="#222"/>
<line x1="512.30" y1="115.20" x2="512.30" y2="126.92" stroke="#333" stroke-width="0.6"/>
<polygon points="512.30,128.60 510.70,125.80 513.90,125.80" fill="#222"/>
<line x1="539.50" y1="115.20" x2="539.50" y2="127.92" stroke="#333" stroke-width="0.6"/>
<polygon points="539.50,129.60 537.90,126.80 541.10,126.80" fill="#222"/>
<rect x="412.00" y="127.30" width="23.40" height="11.20" fill="#93ACDA" stroke="#6d86b8" stroke-width="0.6" rx="0"/>
<text x="423.70" y="135.38" font-family="'Liberation Serif', serif" font-size="7.30" text-anchor="middle" fill="#222" font-weight="normal" font-style="normal" stroke="#222" stroke-width="0.125" textLength="18.29" lengthAdjust="spacingAndGlyphs">WRKY</text>
<rect x="444.40" y="127.70" width="20.00" height="10.70" fill="#fff" stroke="#555" stroke-width="0.6" rx="0"/>
<text x="454.40" y="135.53" font-family="'Liberation Serif', serif" font-size="7.30" text-anchor="middle" fill="#222" font-weight="normal" font-style="normal" stroke="#222" stroke-width="0.125" textLength="11.65" lengthAdjust="spacingAndGlyphs">ACS</text>
<rect x="475.20" y="129.30" width="20.40" height="11.00" fill="#93ACDA" stroke="#6d86b8" stroke-width="0.6" rx="0"/>
<text x="485.40" y="137.28" font-family="'Liberation Serif', serif" font-size="7.30" text-anchor="middle" fill="#222" font-weight="normal" font-style="normal" stroke="#222" stroke-width="0.125" textLength="10.98" lengthAdjust="spacingAndGlyphs">ERF</text>
<rect x="504.30" y="128.60" width="18.40" height="11.40" fill="#93ACDA" stroke="#6d86b8" stroke-width="0.6" rx="0"/>
<text x="513.50" y="136.78" font-family="'Liberation Serif', serif" font-size="7.30" text-anchor="middle" fill="#222" font-weight="normal" font-style="normal" stroke="#222" stroke-width="0.125" textLength="9.65" lengthAdjust="spacingAndGlyphs">VIP</text>
<rect x="529.10" y="129.60" width="20.20" height="10.80" fill="#fff" stroke="#444" stroke-width="0.6" rx="0"/>
<text x="539.20" y="137.48" font-family="'Liberation Serif', serif" font-size="7.30" text-anchor="middle" fill="#222" font-weight="normal" font-style="normal" stroke="#222" stroke-width="0.125" textLength="10.64" lengthAdjust="spacingAndGlyphs">NIA</text>
<ellipse cx="436.30" cy="125.30" rx="4.4" ry="4.75" fill="#E8462A" stroke="#c8401f" stroke-width="0.3"/>
<text x="436.30" y="127.80" font-family="'Liberation Serif', serif" font-size="7.20" text-anchor="middle" fill="#3a1a10" font-weight="normal" font-style="normal" stroke="#3a1a10" stroke-width="0.123" textLength="3.28" lengthAdjust="spacingAndGlyphs">P</text>
<ellipse cx="465.20" cy="125.30" rx="4.4" ry="4.75" fill="#E8462A" stroke="#c8401f" stroke-width="0.3"/>
<text x="465.20" y="127.80" font-family="'Liberation Serif', serif" font-size="7.20" text-anchor="middle" fill="#3a1a10" font-weight="normal" font-style="normal" stroke="#3a1a10" stroke-width="0.123" textLength="3.28" lengthAdjust="spacingAndGlyphs">P</text>
<ellipse cx="497.20" cy="127.70" rx="4.4" ry="4.75" fill="#E8462A" stroke="#c8401f" stroke-width="0.3"/>
<text x="497.20" y="130.20" font-family="'Liberation Serif', serif" font-size="7.20" text-anchor="middle" fill="#3a1a10" font-weight="normal" font-style="normal" stroke="#3a1a10" stroke-width="0.123" textLength="3.28" lengthAdjust="spacingAndGlyphs">P</text>
<ellipse cx="522.30" cy="127.70" rx="4.4" ry="4.75" fill="#E8462A" stroke="#c8401f" stroke-width="0.3"/>
<text x="522.30" y="130.20" font-family="'Liberation Serif', serif" font-size="7.20" text-anchor="middle" fill="#3a1a10" font-weight="normal" font-style="normal" stroke="#3a1a10" stroke-width="0.123" textLength="3.28" lengthAdjust="spacingAndGlyphs">P</text>
<ellipse cx="550.60" cy="127.70" rx="4.4" ry="4.75" fill="#E8462A" stroke="#c8401f" stroke-width="0.3"/>
<text x="550.60" y="130.20" font-family="'Liberation Serif', serif" font-size="7.20" text-anchor="middle" fill="#3a1a10" font-weight="normal" font-style="normal" stroke="#3a1a10" stroke-width="0.123" textLength="3.28" lengthAdjust="spacingAndGlyphs">P</text>
<line x1="422.20" y1="138.50" x2="422.20" y2="148.72" stroke="#333" stroke-width="0.6"/>
<polygon points="422.20,150.40 420.60,147.60 423.80,147.60" fill="#222"/>
<text x="422.20" y="159.30" font-family="'Liberation Serif', serif" font-size="7.30" text-anchor="middle" fill="#222" font-weight="normal" font-style="normal" stroke="#222" stroke-width="0.125" textLength="12.63" lengthAdjust="spacingAndGlyphs">Gene</text>
<text x="422.20" y="167.80" font-family="'Liberation Serif', serif" font-size="7.30" text-anchor="middle" fill="#222" font-weight="normal" font-style="normal" stroke="#222" stroke-width="0.125" textLength="23.60" lengthAdjust="spacingAndGlyphs">activation</text>
<line x1="422.20" y1="169.50" x2="422.20" y2="179.32" stroke="#333" stroke-width="0.6"/>
<polygon points="422.20,181.00 420.60,178.20 423.80,178.20" fill="#222"/>
<text x="422.20" y="190.60" font-family="'Liberation Serif', serif" font-size="7.30" text-anchor="middle" fill="#222" font-weight="normal" font-style="normal" stroke="#222" stroke-width="0.125" textLength="25.93" lengthAdjust="spacingAndGlyphs">Camalexin</text>
<text x="422.20" y="198.00" font-family="'Liberation Serif', serif" font-size="7.30" text-anchor="middle" fill="#222" font-weight="normal" font-style="normal" stroke="#222" stroke-width="0.125" textLength="29.60" lengthAdjust="spacingAndGlyphs">biosynthesis</text>
<line x1="455.80" y1="138.40" x2="455.80" y2="148.72" stroke="#333" stroke-width="0.6"/>
<polygon points="455.80,150.40 454.20,147.60 457.40,147.60" fill="#222"/>
<text x="455.80" y="162.60" font-family="'Liberation Serif', serif" font-size="7.30" text-anchor="middle" fill="#222" font-weight="normal" font-style="normal" stroke="#222" stroke-width="0.125" textLength="21.28" lengthAdjust="spacingAndGlyphs">Ethylene</text>
<line x1="456.20" y1="166.80" x2="467.24" y2="180.40" stroke="#333" stroke-width="0.6"/>
<polygon points="468.30,181.70 465.29,180.54 467.78,178.52" fill="#222"/>
<line x1="486.00" y1="140.30" x2="486.00" y2="180.02" stroke="#333" stroke-width="0.6"/>
<polygon points="486.00,181.70 484.40,178.90 487.60,178.90" fill="#222"/>
<line x1="513.10" y1="140.00" x2="498.09" y2="180.13" stroke="#333" stroke-width="0.6"/>
<polygon points="497.50,181.70 496.98,178.52 499.98,179.64" fill="#222"/>
<line x1="537.60" y1="140.40" x2="537.60" y2="152.02" stroke="#333" stroke-width="0.6"/>
<polygon points="537.60,153.70 536.00,150.90 539.20,150.90" fill="#222"/>
<text x="537.90" y="160.60" font-family="'Liberation Serif', serif" font-size="7.30" text-anchor="middle" fill="#222" font-weight="normal" font-style="normal" stroke="#222" stroke-width="0.125" textLength="8.65" lengthAdjust="spacingAndGlyphs">NO</text>
<line x1="533.40" y1="164.40" x2="510.06" y2="181.51" stroke="#333" stroke-width="0.6"/>
<polygon points="508.70,182.50 510.01,179.55 511.90,182.14" fill="#222"/>
<text x="485.70" y="196.00" font-family="'Liberation Serif', serif" font-size="7.30" text-anchor="middle" fill="#222" font-weight="normal" font-style="normal" stroke="#222" stroke-width="0.125" textLength="57.50" lengthAdjust="spacingAndGlyphs">Defense gene activation</text>
<line x1="571.40" y1="97.70" x2="571.40" y2="113.92" stroke="#333" stroke-width="0.6"/>
<polygon points="571.40,115.60 569.80,112.80 573.00,112.80" fill="#222"/>
<rect x="559.20" y="115.60" width="24.20" height="11.00" fill="#fff" stroke="#555" stroke-width="0.6" rx="0"/>
<text x="571.30" y="123.58" font-family="'Liberation Serif', serif" font-size="7.30" text-anchor="middle" fill="#222" font-weight="normal" font-style="normal" stroke="#222" stroke-width="0.125" textLength="12.97" lengthAdjust="spacingAndGlyphs">MKS</text>
<ellipse cx="584.20" cy="113.90" rx="4.4" ry="4.75" fill="#E8462A" stroke="#c8401f" stroke-width="0.3"/>
<text x="584.20" y="116.40" font-family="'Liberation Serif', serif" font-size="7.20" text-anchor="middle" fill="#3a1a10" font-weight="normal" font-style="normal" stroke="#3a1a10" stroke-width="0.123" textLength="3.28" lengthAdjust="spacingAndGlyphs">P</text>
<line x1="624.00" y1="102.70" x2="624.00" y2="113.52" stroke="#333" stroke-width="0.6"/>
<polygon points="624.00,115.20 622.40,112.40 625.60,112.40" fill="#222"/>
<rect x="608.60" y="115.20" width="30.60" height="11.40" fill="#fff" stroke="#555" stroke-width="0.6" rx="0"/>
<text x="623.90" y="123.38" font-family="'Liberation Serif', serif" font-size="7.30" text-anchor="middle" fill="#222" font-weight="normal" font-style="normal" stroke="#222" stroke-width="0.125" textLength="18.30" lengthAdjust="spacingAndGlyphs">SUMM</text>
<line x1="584.00" y1="123.50" x2="592.06" y2="132.26" stroke="#333" stroke-width="0.6"/>
<polygon points="593.20,133.50 590.13,132.52 592.48,130.36" fill="#222"/>
<line x1="608.60" y1="122.50" x2="598.95" y2="132.78" stroke="#333" stroke-width="0.6"/>
<polygon points="597.80,134.00 598.55,130.86 600.88,133.05" fill="#222"/>
<line x1="571.60" y1="126.60" x2="571.60" y2="139.42" stroke="#333" stroke-width="0.6"/>
<polygon points="571.60,141.10 570.00,138.30 573.20,138.30" fill="#222"/>
<rect x="559.00" y="141.10" width="24.60" height="11.10" fill="#93ACDA" stroke="#6d86b8" stroke-width="0.6" rx="0"/>
<text x="571.30" y="149.13" font-family="'Liberation Serif', serif" font-size="7.30" text-anchor="middle" fill="#222" font-weight="normal" font-style="normal" stroke="#222" stroke-width="0.125" textLength="18.29" lengthAdjust="spacingAndGlyphs">WRKY</text>
<line x1="572.00" y1="152.20" x2="572.00" y2="177.02" stroke="#333" stroke-width="0.6"/>
<polygon points="572.00,178.70 570.40,175.90 573.60,175.90" fill="#222"/>
<text x="569.30" y="190.30" font-family="'Liberation Serif', serif" font-size="7.30" text-anchor="middle" fill="#222" font-weight="normal" font-style="normal" stroke="#222" stroke-width="0.125" textLength="25.93" lengthAdjust="spacingAndGlyphs">Camalexin</text>
<text x="572.00" y="198.30" font-family="'Liberation Serif', serif" font-size="7.30" text-anchor="middle" fill="#222" font-weight="normal" font-style="normal" stroke="#222" stroke-width="0.125" textLength="29.60" lengthAdjust="spacingAndGlyphs">biosynthesis</text>
<text x="595.30" y="144.30" font-family="'Liberation Serif', serif" font-size="7.30" text-anchor="middle" fill="#222" font-weight="normal" font-style="normal" stroke="#222" stroke-width="0.125" textLength="2.66" lengthAdjust="spacingAndGlyphs">?</text>
<line x1="595.60" y1="147.40" x2="595.60" y2="157.32" stroke="#333" stroke-width="0.6"/>
<polygon points="595.60,159.00 594.00,156.20 597.20,156.20" fill="#222"/>
<text x="595.60" y="167.80" font-family="'Liberation Serif', serif" font-size="7.30" text-anchor="middle" fill="#222" font-weight="normal" font-style="normal" stroke="#222" stroke-width="0.125" textLength="7.65" lengthAdjust="spacingAndGlyphs">SA</text>
<line x1="596.00" y1="170.70" x2="612.52" y2="179.70" stroke="#333" stroke-width="0.6"/>
<polygon points="614.00,180.50 610.78,180.57 612.31,177.76" fill="#222"/>
<line x1="624.00" y1="126.60" x2="624.00" y2="136.32" stroke="#333" stroke-width="0.6"/>
<polygon points="624.00,138.00 622.40,135.20 625.60,135.20" fill="#222"/>
<text x="623.90" y="144.30" font-family="'Liberation Serif', serif" font-size="7.30" text-anchor="middle" fill="#222" font-weight="normal" font-style="normal" stroke="#222" stroke-width="0.125" textLength="2.66" lengthAdjust="spacingAndGlyphs">?</text>
<line x1="623.90" y1="147.40" x2="623.90" y2="157.32" stroke="#333" stroke-width="0.6"/>
<polygon points="623.90,159.00 622.30,156.20 625.50,156.20" fill="#222"/>
<text x="624.20" y="167.80" font-family="'Liberation Serif', serif" font-size="7.30" text-anchor="middle" fill="#222" font-weight="normal" font-style="normal" stroke="#222" stroke-width="0.125" textLength="11.65" lengthAdjust="spacingAndGlyphs">ROS</text>
<line x1="624.20" y1="168.90" x2="624.20" y2="178.82" stroke="#333" stroke-width="0.6"/>
<polygon points="624.20,180.50 622.60,177.70 625.80,177.70" fill="#222"/>
<text x="616.80" y="189.60" font-family="'Liberation Serif', serif" font-size="7.30" text-anchor="middle" fill="#222" font-weight="normal" font-style="normal" stroke="#222" stroke-width="0.125" textLength="19.29" lengthAdjust="spacingAndGlyphs">HR-like</text>
<text x="616.80" y="197.80" font-family="'Liberation Serif', serif" font-size="7.30" text-anchor="middle" fill="#222" font-weight="normal" font-style="normal" stroke="#222" stroke-width="0.125" textLength="23.10" lengthAdjust="spacingAndGlyphs">cell death</text>
<text x="352.00" y="216.00" font-family="'Liberation Sans', sans-serif" font-size="6.38" text-anchor="start" fill="#111" font-weight="bold" font-style="normal" textLength="4.61" lengthAdjust="spacingAndGlyphs">C</text>
<text x="489.00" y="218.20" font-family="'Liberation Serif', serif" font-size="7.48" text-anchor="middle" fill="#333" font-weight="normal" font-style="normal" stroke="#333" stroke-width="0.128" textLength="21.31" lengthAdjust="spacingAndGlyphs">Dianbei</text>
<text x="571.50" y="218.20" font-family="'Liberation Serif', serif" font-size="7.48" text-anchor="middle" fill="#333" font-weight="normal" font-style="normal" stroke="#333" stroke-width="0.128" textLength="14.58" lengthAdjust="spacingAndGlyphs">Anba</text>
<text x="391.70" y="227.30" font-family="'Liberation Serif', serif" font-size="7.92" text-anchor="middle" fill="#333" font-weight="normal" font-style="normal" stroke="#333" stroke-width="0.136" textLength="15.04" lengthAdjust="spacingAndGlyphs">Gene</text>
<text x="426.00" y="227.30" font-family="'Liberation Serif', serif" font-size="7.92" text-anchor="middle" fill="#333" font-weight="normal" font-style="normal" stroke="#333" stroke-width="0.136" textLength="7.52" lengthAdjust="spacingAndGlyphs">ID</text>
<text x="465.00" y="226.00" font-family="'Liberation Serif', serif" font-size="7.92" text-anchor="middle" fill="#222" font-weight="normal" font-style="normal" stroke="#222" stroke-width="0.136" textLength="24.16" lengthAdjust="spacingAndGlyphs">8h vs 0h</text>
<text x="508.70" y="226.00" font-family="'Liberation Serif', serif" font-size="7.92" text-anchor="middle" fill="#222" font-weight="normal" font-style="normal" stroke="#222" stroke-width="0.136" textLength="27.72" lengthAdjust="spacingAndGlyphs">24h vs 0h</text>
<text x="548.40" y="226.00" font-family="'Liberation Serif', serif" font-size="7.92" text-anchor="middle" fill="#222" font-weight="normal" font-style="normal" stroke="#222" stroke-width="0.136" textLength="24.16" lengthAdjust="spacingAndGlyphs">8h vs 0h</text>
<text x="591.50" y="226.00" font-family="'Liberation Serif', serif" font-size="7.92" text-anchor="middle" fill="#222" font-weight="normal" font-style="normal" stroke="#222" stroke-width="0.136" textLength="27.72" lengthAdjust="spacingAndGlyphs">24h vs 0h</text>
<rect x="372.80" y="230.40" width="35.70" height="8.00" fill="#fff" stroke="#777" stroke-width="0.6" rx="0"/>
<text x="390.65" y="236.45" font-family="'Liberation Serif', serif" font-size="6.82" text-anchor="middle" fill="#111" font-weight="normal" font-style="normal" stroke="#111" stroke-width="0.117" textLength="13.65" lengthAdjust="spacingAndGlyphs">FLS2</text>
<rect x="408.50" y="230.40" width="35.20" height="8.00" fill="#fff" stroke="#9a9a9a" stroke-width="0.5" rx="0"/>
<text x="426.10" y="236.44" font-family="'Liberation Serif', serif" font-size="6.60" text-anchor="middle" fill="#111" font-weight="normal" font-style="normal" stroke="#111" stroke-width="0.113" textLength="30.36" lengthAdjust="spacingAndGlyphs">DG1C06219</text>
<rect x="372.80" y="238.40" width="35.70" height="48.00" fill="#fff" stroke="#777" stroke-width="0.6" rx="0"/>
<text x="390.65" y="264.45" font-family="'Liberation Serif', serif" font-size="6.82" text-anchor="middle" fill="#111" font-weight="normal" font-style="normal" stroke="#111" stroke-width="0.117" textLength="26.60" lengthAdjust="spacingAndGlyphs">MAPKKK</text>
<rect x="408.50" y="238.40" width="35.20" height="8.00" fill="#fff" stroke="#9a9a9a" stroke-width="0.5" rx="0"/>
<text x="426.10" y="244.44" font-family="'Liberation Serif', serif" font-size="6.60" text-anchor="middle" fill="#111" font-weight="normal" font-style="normal" stroke="#111" stroke-width="0.113" textLength="30.36" lengthAdjust="spacingAndGlyphs">DG5C03908</text>
<rect x="408.50" y="246.40" width="35.20" height="8.00" fill="#fff" stroke="#9a9a9a" stroke-width="0.5" rx="0"/>
<text x="426.10" y="252.44" font-family="'Liberation Serif', serif" font-size="6.60" text-anchor="middle" fill="#111" font-weight="normal" font-style="normal" stroke="#111" stroke-width="0.113" textLength="30.36" lengthAdjust="spacingAndGlyphs">DG5C03909</text>
<rect x="408.50" y="254.40" width="35.20" height="8.00" fill="#fff" stroke="#9a9a9a" stroke-width="0.5" rx="0"/>
<text x="426.10" y="260.44" font-family="'Liberation Serif', serif" font-size="6.60" text-anchor="middle" fill="#111" font-weight="normal" font-style="normal" stroke="#111" stroke-width="0.113" textLength="30.36" lengthAdjust="spacingAndGlyphs">DG0C00192</text>
<rect x="408.50" y="262.40" width="35.20" height="8.00" fill="#fff" stroke="#9a9a9a" stroke-width="0.5" rx="0"/>
<text x="426.10" y="268.44" font-family="'Liberation Serif', serif" font-size="6.60" text-anchor="middle" fill="#111" font-weight="normal" font-style="normal" stroke="#111" stroke-width="0.113" textLength="30.36" lengthAdjust="spacingAndGlyphs">DG0C00190</text>
<rect x="408.50" y="270.40" width="35.20" height="8.00" fill="#fff" stroke="#9a9a9a" stroke-width="0.5" rx="0"/>
<text x="426.10" y="276.44" font-family="'Liberation Serif', serif" font-size="6.60" text-anchor="middle" fill="#111" font-weight="normal" font-style="normal" stroke="#111" stroke-width="0.113" textLength="30.36" lengthAdjust="spacingAndGlyphs">DG6C00764</text>
<rect x="408.50" y="278.40" width="35.20" height="8.00" fill="#fff" stroke="#9a9a9a" stroke-width="0.5" rx="0"/>
<text x="426.10" y="284.44" font-family="'Liberation Serif', serif" font-size="6.60" text-anchor="middle" fill="#111" font-weight="normal" font-style="normal" stroke="#111" stroke-width="0.113" textLength="30.36" lengthAdjust="spacingAndGlyphs">DG5C03912</text>
<rect x="372.80" y="286.40" width="35.70" height="8.00" fill="#fff" stroke="#777" stroke-width="0.6" rx="0"/>
<text x="390.65" y="292.45" font-family="'Liberation Serif', serif" font-size="6.82" text-anchor="middle" fill="#111" font-weight="normal" font-style="normal" stroke="#111" stroke-width="0.117" textLength="18.07" lengthAdjust="spacingAndGlyphs">MEKK</text>
<rect x="408.50" y="286.40" width="35.20" height="8.00" fill="#fff" stroke="#9a9a9a" stroke-width="0.5" rx="0"/>
<text x="426.10" y="292.44" font-family="'Liberation Serif', serif" font-size="6.60" text-anchor="middle" fill="#111" font-weight="normal" font-style="normal" stroke="#111" stroke-width="0.113" textLength="30.36" lengthAdjust="spacingAndGlyphs">DG4C04390</text>
<rect x="372.80" y="294.40" width="35.70" height="8.00" fill="#fff" stroke="#777" stroke-width="0.6" rx="0"/>
<text x="390.65" y="300.45" font-family="'Liberation Serif', serif" font-size="6.82" text-anchor="middle" fill="#111" font-weight="normal" font-style="normal" stroke="#111" stroke-width="0.117" textLength="14.32" lengthAdjust="spacingAndGlyphs">MKK</text>
<rect x="408.50" y="294.40" width="35.20" height="8.00" fill="#fff" stroke="#9a9a9a" stroke-width="0.5" rx="0"/>
<text x="426.10" y="300.44" font-family="'Liberation Serif', serif" font-size="6.60" text-anchor="middle" fill="#111" font-weight="normal" font-style="normal" stroke="#111" stroke-width="0.113" textLength="30.36" lengthAdjust="spacingAndGlyphs">DG3C07121</text>
<rect x="372.80" y="302.40" width="35.70" height="32.00" fill="#fff" stroke="#777" stroke-width="0.6" rx="0"/>
<text x="390.65" y="320.45" font-family="'Liberation Serif', serif" font-size="6.82" text-anchor="middle" fill="#111" font-weight="normal" font-style="normal" stroke="#111" stroke-width="0.117" textLength="13.30" lengthAdjust="spacingAndGlyphs">MPK</text>
<rect x="408.50" y="302.40" width="35.20" height="8.00" fill="#fff" stroke="#9a9a9a" stroke-width="0.5" rx="0"/>
<text x="426.10" y="308.44" font-family="'Liberation Serif', serif" font-size="6.60" text-anchor="middle" fill="#111" font-weight="normal" font-style="normal" stroke="#111" stroke-width="0.113" textLength="30.36" lengthAdjust="spacingAndGlyphs">DG7C02952</text>
<rect x="408.50" y="310.40" width="35.20" height="8.00" fill="#fff" stroke="#9a9a9a" stroke-width="0.5" rx="0"/>
<text x="426.10" y="316.44" font-family="'Liberation Serif', serif" font-size="6.60" text-anchor="middle" fill="#111" font-weight="normal" font-style="normal" stroke="#111" stroke-width="0.113" textLength="30.36" lengthAdjust="spacingAndGlyphs">DG0C00120</text>
<rect x="408.50" y="318.40" width="35.20" height="8.00" fill="#fff" stroke="#9a9a9a" stroke-width="0.5" rx="0"/>
<text x="426.10" y="324.44" font-family="'Liberation Serif', serif" font-size="6.60" text-anchor="middle" fill="#111" font-weight="normal" font-style="normal" stroke="#111" stroke-width="0.113" textLength="30.36" lengthAdjust="spacingAndGlyphs">DG7C02951</text>
<rect x="408.50" y="326.40" width="35.20" height="8.00" fill="#fff" stroke="#9a9a9a" stroke-width="0.5" rx="0"/>
<text x="426.10" y="332.44" font-family="'Liberation Serif', serif" font-size="6.60" text-anchor="middle" fill="#111" font-weight="normal" font-style="normal" stroke="#111" stroke-width="0.113" textLength="30.36" lengthAdjust="spacingAndGlyphs">DG2C05975</text>
<rect x="372.80" y="334.40" width="35.70" height="72.00" fill="#fff" stroke="#777" stroke-width="0.6" rx="0"/>
<text x="390.65" y="372.45" font-family="'Liberation Serif', serif" font-size="6.82" text-anchor="middle" fill="#111" font-weight="normal" font-style="normal" stroke="#111" stroke-width="0.117" textLength="13.99" lengthAdjust="spacingAndGlyphs">PP2C</text>
<rect x="408.50" y="334.40" width="35.20" height="8.00" fill="#fff" stroke="#9a9a9a" stroke-width="0.5" rx="0"/>
<text x="426.10" y="340.44" font-family="'Liberation Serif', serif" font-size="6.60" text-anchor="middle" fill="#111" font-weight="normal" font-style="normal" stroke="#111" stroke-width="0.113" textLength="30.36" lengthAdjust="spacingAndGlyphs">DG5C02936</text>
<rect x="408.50" y="342.40" width="35.20" height="8.00" fill="#fff" stroke="#9a9a9a" stroke-width="0.5" rx="0"/>
<text x="426.10" y="348.44" font-family="'Liberation Serif', serif" font-size="6.60" text-anchor="middle" fill="#111" font-weight="normal" font-style="normal" stroke="#111" stroke-width="0.113" textLength="30.36" lengthAdjust="spacingAndGlyphs">DG5C04009</text>
<rect x="408.50" y="350.40" width="35.20" height="8.00" fill="#fff" stroke="#9a9a9a" stroke-width="0.5" rx="0"/>
<text x="426.10" y="356.44" font-family="'Liberation Serif', serif" font-size="6.60" text-anchor="middle" fill="#111" font-weight="normal" font-style="normal" stroke="#111" stroke-width="0.113" textLength="30.36" lengthAdjust="spacingAndGlyphs">DG6C00846</text>
<rect x="408.50" y="358.40" width="35.20" height="8.00" fill="#fff" stroke="#9a9a9a" stroke-width="0.5" rx="0"/>
<text x="426.10" y="364.44" font-family="'Liberation Serif', serif" font-size="6.60" text-anchor="middle" fill="#111" font-weight="normal" font-style="normal" stroke="#111" stroke-width="0.113" textLength="30.36" lengthAdjust="spacingAndGlyphs">DG2C05747</text>
<rect x="408.50" y="366.40" width="35.20" height="8.00" fill="#fff" stroke="#9a9a9a" stroke-width="0.5" rx="0"/>
<text x="426.10" y="372.44" font-family="'Liberation Serif', serif" font-size="6.60" text-anchor="middle" fill="#111" font-weight="normal" font-style="normal" stroke="#111" stroke-width="0.113" textLength="30.36" lengthAdjust="spacingAndGlyphs">DG3C03533</text>
<rect x="408.50" y="374.40" width="35.20" height="8.00" fill="#fff" stroke="#9a9a9a" stroke-width="0.5" rx="0"/>
<text x="426.10" y="380.44" font-family="'Liberation Serif', serif" font-size="6.60" text-anchor="middle" fill="#111" font-weight="normal" font-style="normal" stroke="#111" stroke-width="0.113" textLength="30.36" lengthAdjust="spacingAndGlyphs">DG5C05085</text>
<rect x="408.50" y="382.40" width="35.20" height="8.00" fill="#fff" stroke="#9a9a9a" stroke-width="0.5" rx="0"/>
<text x="426.10" y="388.44" font-family="'Liberation Serif', serif" font-size="6.60" text-anchor="middle" fill="#111" font-weight="normal" font-style="normal" stroke="#111" stroke-width="0.113" textLength="30.36" lengthAdjust="spacingAndGlyphs">DG5C03507</text>
<rect x="408.50" y="390.40" width="35.20" height="8.00" fill="#fff" stroke="#9a9a9a" stroke-width="0.5" rx="0"/>
<text x="426.10" y="396.44" font-family="'Liberation Serif', serif" font-size="6.60" text-anchor="middle" fill="#111" font-weight="normal" font-style="normal" stroke="#111" stroke-width="0.113" textLength="30.36" lengthAdjust="spacingAndGlyphs">DG4C01477</text>
<rect x="408.50" y="398.40" width="35.20" height="8.00" fill="#fff" stroke="#9a9a9a" stroke-width="0.5" rx="0"/>
<text x="426.10" y="404.44" font-family="'Liberation Serif', serif" font-size="6.60" text-anchor="middle" fill="#111" font-weight="normal" font-style="normal" stroke="#111" stroke-width="0.113" textLength="30.36" lengthAdjust="spacingAndGlyphs">DG6C00463</text>
<rect x="372.80" y="406.40" width="35.70" height="8.00" fill="#fff" stroke="#777" stroke-width="0.6" rx="0"/>
<text x="390.65" y="412.45" font-family="'Liberation Serif', serif" font-size="6.82" text-anchor="middle" fill="#111" font-weight="normal" font-style="normal" stroke="#111" stroke-width="0.117" textLength="9.89" lengthAdjust="spacingAndGlyphs">VIP</text>
<rect x="408.50" y="406.40" width="35.20" height="8.00" fill="#fff" stroke="#9a9a9a" stroke-width="0.5" rx="0"/>
<text x="426.10" y="412.44" font-family="'Liberation Serif', serif" font-size="6.60" text-anchor="middle" fill="#111" font-weight="normal" font-style="normal" stroke="#111" stroke-width="0.113" textLength="30.14" lengthAdjust="spacingAndGlyphs">DG4C03116</text>
<rect x="372.80" y="414.40" width="35.70" height="32.00" fill="#fff" stroke="#777" stroke-width="0.6" rx="0"/>
<text x="390.65" y="432.45" font-family="'Liberation Serif', serif" font-size="6.82" text-anchor="middle" fill="#111" font-weight="normal" font-style="normal" stroke="#111" stroke-width="0.117" textLength="18.75" lengthAdjust="spacingAndGlyphs">WRKY</text>
<rect x="408.50" y="414.40" width="35.20" height="8.00" fill="#fff" stroke="#9a9a9a" stroke-width="0.5" rx="0"/>
<text x="426.10" y="420.44" font-family="'Liberation Serif', serif" font-size="6.60" text-anchor="middle" fill="#111" font-weight="normal" font-style="normal" stroke="#111" stroke-width="0.113" textLength="30.36" lengthAdjust="spacingAndGlyphs">DG6C00624</text>
<rect x="408.50" y="422.40" width="35.20" height="8.00" fill="#fff" stroke="#9a9a9a" stroke-width="0.5" rx="0"/>
<text x="426.10" y="428.44" font-family="'Liberation Serif', serif" font-size="6.60" text-anchor="middle" fill="#111" font-weight="normal" font-style="normal" stroke="#111" stroke-width="0.113" textLength="30.36" lengthAdjust="spacingAndGlyphs">DG6C00625</text>
<rect x="408.50" y="430.40" width="35.20" height="8.00" fill="#fff" stroke="#9a9a9a" stroke-width="0.5" rx="0"/>
<text x="426.10" y="436.44" font-family="'Liberation Serif', serif" font-size="6.60" text-anchor="middle" fill="#111" font-weight="normal" font-style="normal" stroke="#111" stroke-width="0.113" textLength="30.36" lengthAdjust="spacingAndGlyphs">DG5C04598</text>
<rect x="408.50" y="438.40" width="35.20" height="8.00" fill="#fff" stroke="#9a9a9a" stroke-width="0.5" rx="0"/>
<text x="426.10" y="444.44" font-family="'Liberation Serif', serif" font-size="6.60" text-anchor="middle" fill="#111" font-weight="normal" font-style="normal" stroke="#111" stroke-width="0.113" textLength="30.36" lengthAdjust="spacingAndGlyphs">DG1C05223</text>
<rect x="446.30" y="230.40" width="41.70" height="8.00" fill="#f17778" stroke="#a0a0a0" stroke-width="0.6" rx="0"/>
<rect x="488.00" y="230.40" width="41.70" height="8.00" fill="#f5a5a6" stroke="#a0a0a0" stroke-width="0.6" rx="0"/>
<rect x="529.70" y="230.40" width="41.70" height="8.00" fill="#d9dced" stroke="#a0a0a0" stroke-width="0.6" rx="0"/>
<rect x="571.40" y="230.40" width="41.70" height="8.00" fill="#4860b0" stroke="#a0a0a0" stroke-width="0.6" rx="0"/>
<rect x="446.30" y="238.40" width="41.70" height="8.00" fill="#bcc3e1" stroke="#a0a0a0" stroke-width="0.6" rx="0"/>
<rect x="488.00" y="238.40" width="41.70" height="8.00" fill="#576db6" stroke="#a0a0a0" stroke-width="0.6" rx="0"/>
<rect x="529.70" y="238.40" width="41.70" height="8.00" fill="#f17778" stroke="#a0a0a0" stroke-width="0.6" rx="0"/>
<rect x="571.40" y="238.40" width="41.70" height="8.00" fill="#f5a5a6" stroke="#a0a0a0" stroke-width="0.6" rx="0"/>
<rect x="446.30" y="246.40" width="41.70" height="8.00" fill="#cbd0e7" stroke="#a0a0a0" stroke-width="0.6" rx="0"/>
<rect x="488.00" y="246.40" width="41.70" height="8.00" fill="#4860b0" stroke="#a0a0a0" stroke-width="0.6" rx="0"/>
<rect x="529.70" y="246.40" width="41.70" height="8.00" fill="#f17778" stroke="#a0a0a0" stroke-width="0.6" rx="0"/>
<rect x="571.40" y="246.40" width="41.70" height="8.00" fill="#f6b3b4" stroke="#a0a0a0" stroke-width="0.6" rx="0"/>
<rect x="446.30" y="254.40" width="41.70" height="8.00" fill="#9aa6d2" stroke="#a0a0a0" stroke-width="0.6" rx="0"/>
<rect x="488.00" y="254.40" width="41.70" height="8.00" fill="#576db6" stroke="#a0a0a0" stroke-width="0.6" rx="0"/>
<rect x="529.70" y="254.40" width="41.70" height="8.00" fill="#f39393" stroke="#a0a0a0" stroke-width="0.6" rx="0"/>
<rect x="571.40" y="254.40" width="41.70" height="8.00" fill="#f39393" stroke="#a0a0a0" stroke-width="0.6" rx="0"/>
<rect x="446.30" y="262.40" width="41.70" height="8.00" fill="#8c9acc" stroke="#a0a0a0" stroke-width="0.6" rx="0"/>
<rect x="488.00" y="262.40" width="41.70" height="8.00" fill="#7486c2" stroke="#a0a0a0" stroke-width="0.6" rx="0"/>
<rect x="529.70" y="262.40" width="41.70" height="8.00" fill="#f49798" stroke="#a0a0a0" stroke-width="0.6" rx="0"/>
<rect x="571.40" y="262.40" width="41.70" height="8.00" fill="#f17778" stroke="#a0a0a0" stroke-width="0.6" rx="0"/>
<rect x="446.30" y="270.40" width="41.70" height="8.00" fill="#7486c2" stroke="#a0a0a0" stroke-width="0.6" rx="0"/>
<rect x="488.00" y="270.40" width="41.70" height="8.00" fill="#9aa6d2" stroke="#a0a0a0" stroke-width="0.6" rx="0"/>
<rect x="529.70" y="270.40" width="41.70" height="8.00" fill="#f9dedf" stroke="#a0a0a0" stroke-width="0.6" rx="0"/>
<rect x="571.40" y="270.40" width="41.70" height="8.00" fill="#ef5d5e" stroke="#a0a0a0" stroke-width="0.6" rx="0"/>
<rect x="446.30" y="278.40" width="41.70" height="8.00" fill="#7486c2" stroke="#a0a0a0" stroke-width="0.6" rx="0"/>
<rect x="488.00" y="278.40" width="41.70" height="8.00" fill="#8c9acc" stroke="#a0a0a0" stroke-width="0.6" rx="0"/>
<rect x="529.70" y="278.40" width="41.70" height="8.00" fill="#f39393" stroke="#a0a0a0" stroke-width="0.6" rx="0"/>
<rect x="571.40" y="278.40" width="41.70" height="8.00" fill="#f39393" stroke="#a0a0a0" stroke-width="0.6" rx="0"/>
<rect x="446.30" y="286.40" width="41.70" height="8.00" fill="#cbd0e7" stroke="#a0a0a0" stroke-width="0.6" rx="0"/>
<rect x="488.00" y="286.40" width="41.70" height="8.00" fill="#576db6" stroke="#a0a0a0" stroke-width="0.6" rx="0"/>
<rect x="529.70" y="286.40" width="41.70" height="8.00" fill="#f17778" stroke="#a0a0a0" stroke-width="0.6" rx="0"/>
<rect x="571.40" y="286.40" width="41.70" height="8.00" fill="#f5a5a6" stroke="#a0a0a0" stroke-width="0.6" rx="0"/>
<rect x="446.30" y="294.40" width="41.70" height="8.00" fill="#fbf9fb" stroke="#a0a0a0" stroke-width="0.6" rx="0"/>
<rect x="488.00" y="294.40" width="41.70" height="8.00" fill="#f49798" stroke="#a0a0a0" stroke-width="0.6" rx="0"/>
<rect x="529.70" y="294.40" width="41.70" height="8.00" fill="#4860b0" stroke="#a0a0a0" stroke-width="0.6" rx="0"/>
<rect x="571.40" y="294.40" width="41.70" height="8.00" fill="#f49798" stroke="#a0a0a0" stroke-width="0.6" rx="0"/>
<rect x="446.30" y="302.40" width="41.70" height="8.00" fill="#cbd0e7" stroke="#a0a0a0" stroke-width="0.6" rx="0"/>
<rect x="488.00" y="302.40" width="41.70" height="8.00" fill="#6579bc" stroke="#a0a0a0" stroke-width="0.6" rx="0"/>
<rect x="529.70" y="302.40" width="41.70" height="8.00" fill="#ef5d5e" stroke="#a0a0a0" stroke-width="0.6" rx="0"/>
<rect x="571.40" y="302.40" width="41.70" height="8.00" fill="#f9dedf" stroke="#a0a0a0" stroke-width="0.6" rx="0"/>
<rect x="446.30" y="310.40" width="41.70" height="8.00" fill="#f5a5a6" stroke="#a0a0a0" stroke-width="0.6" rx="0"/>
<rect x="488.00" y="310.40" width="41.70" height="8.00" fill="#4860b0" stroke="#a0a0a0" stroke-width="0.6" rx="0"/>
<rect x="529.70" y="310.40" width="41.70" height="8.00" fill="#f49798" stroke="#a0a0a0" stroke-width="0.6" rx="0"/>
<rect x="571.40" y="310.40" width="41.70" height="8.00" fill="#f7c2c4" stroke="#a0a0a0" stroke-width="0.6" rx="0"/>
<rect x="446.30" y="318.40" width="41.70" height="8.00" fill="#f28586" stroke="#a0a0a0" stroke-width="0.6" rx="0"/>
<rect x="488.00" y="318.40" width="41.70" height="8.00" fill="#f7c2c4" stroke="#a0a0a0" stroke-width="0.6" rx="0"/>
<rect x="529.70" y="318.40" width="41.70" height="8.00" fill="#f9dedf" stroke="#a0a0a0" stroke-width="0.6" rx="0"/>
<rect x="571.40" y="318.40" width="41.70" height="8.00" fill="#4860b0" stroke="#a0a0a0" stroke-width="0.6" rx="0"/>
<rect x="446.30" y="326.40" width="41.70" height="8.00" fill="#9aa6d2" stroke="#a0a0a0" stroke-width="0.6" rx="0"/>
<rect x="488.00" y="326.40" width="41.70" height="8.00" fill="#7486c2" stroke="#a0a0a0" stroke-width="0.6" rx="0"/>
<rect x="529.70" y="326.40" width="41.70" height="8.00" fill="#f49798" stroke="#a0a0a0" stroke-width="0.6" rx="0"/>
<rect x="571.40" y="326.40" width="41.70" height="8.00" fill="#f28586" stroke="#a0a0a0" stroke-width="0.6" rx="0"/>
<rect x="446.30" y="334.40" width="41.70" height="8.00" fill="#d9dced" stroke="#a0a0a0" stroke-width="0.6" rx="0"/>
<rect x="488.00" y="334.40" width="41.70" height="8.00" fill="#576db6" stroke="#a0a0a0" stroke-width="0.6" rx="0"/>
<rect x="529.70" y="334.40" width="41.70" height="8.00" fill="#f5a5a6" stroke="#a0a0a0" stroke-width="0.6" rx="0"/>
<rect x="571.40" y="334.40" width="41.70" height="8.00" fill="#f28586" stroke="#a0a0a0" stroke-width="0.6" rx="0"/>
<rect x="446.30" y="342.40" width="41.70" height="8.00" fill="#fbf9fb" stroke="#a0a0a0" stroke-width="0.6" rx="0"/>
<rect x="488.00" y="342.40" width="41.70" height="8.00" fill="#4860b0" stroke="#a0a0a0" stroke-width="0.6" rx="0"/>
<rect x="529.70" y="342.40" width="41.70" height="8.00" fill="#f39393" stroke="#a0a0a0" stroke-width="0.6" rx="0"/>
<rect x="571.40" y="342.40" width="41.70" height="8.00" fill="#f5a5a6" stroke="#a0a0a0" stroke-width="0.6" rx="0"/>
<rect x="446.30" y="350.40" width="41.70" height="8.00" fill="#9aa6d2" stroke="#a0a0a0" stroke-width="0.6" rx="0"/>
<rect x="488.00" y="350.40" width="41.70" height="8.00" fill="#7486c2" stroke="#a0a0a0" stroke-width="0.6" rx="0"/>
<rect x="529.70" y="350.40" width="41.70" height="8.00" fill="#f28586" stroke="#a0a0a0" stroke-width="0.6" rx="0"/>
<rect x="571.40" y="350.40" width="41.70" height="8.00" fill="#f49798" stroke="#a0a0a0" stroke-width="0.6" rx="0"/>
<rect x="446.30" y="358.40" width="41.70" height="8.00" fill="#7486c2" stroke="#a0a0a0" stroke-width="0.6" rx="0"/>
<rect x="488.00" y="358.40" width="41.70" height="8.00" fill="#a9b3d9" stroke="#a0a0a0" stroke-width="0.6" rx="0"/>
<rect x="529.70" y="358.40" width="41.70" height="8.00" fill="#f49798" stroke="#a0a0a0" stroke-width="0.6" rx="0"/>
<rect x="571.40" y="358.40" width="41.70" height="8.00" fill="#f28586" stroke="#a0a0a0" stroke-width="0.6" rx="0"/>
<rect x="446.30" y="366.40" width="41.70" height="8.00" fill="#8c9acc" stroke="#a0a0a0" stroke-width="0.6" rx="0"/>
<rect x="488.00" y="366.40" width="41.70" height="8.00" fill="#8292c8" stroke="#a0a0a0" stroke-width="0.6" rx="0"/>
<rect x="529.70" y="366.40" width="41.70" height="8.00" fill="#f5a5a6" stroke="#a0a0a0" stroke-width="0.6" rx="0"/>
<rect x="571.40" y="366.40" width="41.70" height="8.00" fill="#f17778" stroke="#a0a0a0" stroke-width="0.6" rx="0"/>
<rect x="446.30" y="374.40" width="41.70" height="8.00" fill="#9aa6d2" stroke="#a0a0a0" stroke-width="0.6" rx="0"/>
<rect x="488.00" y="374.40" width="41.70" height="8.00" fill="#8292c8" stroke="#a0a0a0" stroke-width="0.6" rx="0"/>
<rect x="529.70" y="374.40" width="41.70" height="8.00" fill="#f17778" stroke="#a0a0a0" stroke-width="0.6" rx="0"/>
<rect x="571.40" y="374.40" width="41.70" height="8.00" fill="#f6b3b4" stroke="#a0a0a0" stroke-width="0.6" rx="0"/>
<rect x="446.30" y="382.40" width="41.70" height="8.00" fill="#9aa6d2" stroke="#a0a0a0" stroke-width="0.6" rx="0"/>
<rect x="488.00" y="382.40" width="41.70" height="8.00" fill="#f28586" stroke="#a0a0a0" stroke-width="0.6" rx="0"/>
<rect x="529.70" y="382.40" width="41.70" height="8.00" fill="#7486c2" stroke="#a0a0a0" stroke-width="0.6" rx="0"/>
<rect x="571.40" y="382.40" width="41.70" height="8.00" fill="#f49798" stroke="#a0a0a0" stroke-width="0.6" rx="0"/>
<rect x="446.30" y="390.40" width="41.70" height="8.00" fill="#f5a5a6" stroke="#a0a0a0" stroke-width="0.6" rx="0"/>
<rect x="488.00" y="390.40" width="41.70" height="8.00" fill="#4860b0" stroke="#a0a0a0" stroke-width="0.6" rx="0"/>
<rect x="529.70" y="390.40" width="41.70" height="8.00" fill="#f49798" stroke="#a0a0a0" stroke-width="0.6" rx="0"/>
<rect x="571.40" y="390.40" width="41.70" height="8.00" fill="#fbf9fb" stroke="#a0a0a0" stroke-width="0.6" rx="0"/>
<rect x="446.30" y="398.40" width="41.70" height="8.00" fill="#8292c8" stroke="#a0a0a0" stroke-width="0.6" rx="0"/>
<rect x="488.00" y="398.40" width="41.70" height="8.00" fill="#8c9acc" stroke="#a0a0a0" stroke-width="0.6" rx="0"/>
<rect x="529.70" y="398.40" width="41.70" height="8.00" fill="#f49798" stroke="#a0a0a0" stroke-width="0.6" rx="0"/>
<rect x="571.40" y="398.40" width="41.70" height="8.00" fill="#f39393" stroke="#a0a0a0" stroke-width="0.6" rx="0"/>
<rect x="446.30" y="406.40" width="41.70" height="8.00" fill="#ee5050" stroke="#a0a0a0" stroke-width="0.6" rx="0"/>
<rect x="488.00" y="406.40" width="41.70" height="8.00" fill="#8292c8" stroke="#a0a0a0" stroke-width="0.6" rx="0"/>
<rect x="529.70" y="406.40" width="41.70" height="8.00" fill="#cbd0e7" stroke="#a0a0a0" stroke-width="0.6" rx="0"/>
<rect x="571.40" y="406.40" width="41.70" height="8.00" fill="#cbd0e7" stroke="#a0a0a0" stroke-width="0.6" rx="0"/>
<rect x="446.30" y="414.40" width="41.70" height="8.00" fill="#bcc3e1" stroke="#a0a0a0" stroke-width="0.6" rx="0"/>
<rect x="488.00" y="414.40" width="41.70" height="8.00" fill="#576db6" stroke="#a0a0a0" stroke-width="0.6" rx="0"/>
<rect x="529.70" y="414.40" width="41.70" height="8.00" fill="#f39393" stroke="#a0a0a0" stroke-width="0.6" rx="0"/>
<rect x="571.40" y="414.40" width="41.70" height="8.00" fill="#f49798" stroke="#a0a0a0" stroke-width="0.6" rx="0"/>
<rect x="446.30" y="422.40" width="41.70" height="8.00" fill="#f8d0d1" stroke="#a0a0a0" stroke-width="0.6" rx="0"/>
<rect x="488.00" y="422.40" width="41.70" height="8.00" fill="#4860b0" stroke="#a0a0a0" stroke-width="0.6" rx="0"/>
<rect x="529.70" y="422.40" width="41.70" height="8.00" fill="#f49798" stroke="#a0a0a0" stroke-width="0.6" rx="0"/>
<rect x="571.40" y="422.40" width="41.70" height="8.00" fill="#f5a5a6" stroke="#a0a0a0" stroke-width="0.6" rx="0"/>
<rect x="446.30" y="430.40" width="41.70" height="8.00" fill="#7486c2" stroke="#a0a0a0" stroke-width="0.6" rx="0"/>
<rect x="488.00" y="430.40" width="41.70" height="8.00" fill="#cbd0e7" stroke="#a0a0a0" stroke-width="0.6" rx="0"/>
<rect x="529.70" y="430.40" width="41.70" height="8.00" fill="#fbf9fb" stroke="#a0a0a0" stroke-width="0.6" rx="0"/>
<rect x="571.40" y="430.40" width="41.70" height="8.00" fill="#ef5d5e" stroke="#a0a0a0" stroke-width="0.6" rx="0"/>
<rect x="446.30" y="438.40" width="41.70" height="8.00" fill="#6579bc" stroke="#a0a0a0" stroke-width="0.6" rx="0"/>
<rect x="488.00" y="438.40" width="41.70" height="8.00" fill="#cbd0e7" stroke="#a0a0a0" stroke-width="0.6" rx="0"/>
<rect x="529.70" y="438.40" width="41.70" height="8.00" fill="#f8d0d1" stroke="#a0a0a0" stroke-width="0.6" rx="0"/>
<rect x="571.40" y="438.40" width="41.70" height="8.00" fill="#f17778" stroke="#a0a0a0" stroke-width="0.6" rx="0"/>
<rect x="618.00" y="231.00" width="2.60" height="70.20" fill="url(#cbR)" stroke="none" stroke-width="0.6" rx="0"/>
<text x="621.80" y="232.80" font-family="'Liberation Sans', sans-serif" font-size="3.96" text-anchor="start" fill="#444" font-weight="normal" font-style="normal" stroke="#444" stroke-width="0.068" textLength="1.98" lengthAdjust="spacingAndGlyphs">2</text>
<text x="621.80" y="250.20" font-family="'Liberation Sans', sans-serif" font-size="3.96" text-anchor="start" fill="#444" font-weight="normal" font-style="normal" stroke="#444" stroke-width="0.068" textLength="1.98" lengthAdjust="spacingAndGlyphs">1</text>
<text x="621.80" y="267.60" font-family="'Liberation Sans', sans-serif" font-size="3.96" text-anchor="start" fill="#444" font-weight="normal" font-style="normal" stroke="#444" stroke-width="0.068" textLength="1.98" lengthAdjust="spacingAndGlyphs">0</text>
<text x="621.80" y="285.00" font-family="'Liberation Sans', sans-serif" font-size="3.96" text-anchor="start" fill="#444" font-weight="normal" font-style="normal" stroke="#444" stroke-width="0.068" textLength="3.17" lengthAdjust="spacingAndGlyphs">-1</text>
<text x="621.80" y="302.40" font-family="'Liberation Sans', sans-serif" font-size="3.96" text-anchor="start" fill="#444" font-weight="normal" font-style="normal" stroke="#444" stroke-width="0.068" textLength="3.17" lengthAdjust="spacingAndGlyphs">-2</text>
<text x="0.20" y="5.60" font-family="'Liberation Sans', sans-serif" font-size="8.16" text-anchor="start" fill="#111" font-weight="bold" font-style="normal" textLength="5.89" lengthAdjust="spacingAndGlyphs">A</text>
<rect x="41.00" y="1.30" width="49.00" height="11.00" fill="#fff" stroke="#444" stroke-width="0.8" rx="2.0"/>
<text x="65.50" y="8.43" font-family="'Liberation Serif', serif" font-size="5.76" text-anchor="middle" fill="#333" font-weight="normal" font-style="normal" stroke="#333" stroke-width="0.099" textLength="42.34" lengthAdjust="spacingAndGlyphs">Tryptophan metabolism</text>
<line x1="65.40" y1="12.30" x2="65.40" y2="18.74" stroke="#2a2a2a" stroke-width="0.9"/>
<polygon points="65.40,20.30 63.80,17.70 67.00,17.70" fill="#2a2a2a"/>
<circle cx="65.40" cy="24.40" r="1.5" fill="#fff" stroke="#333" stroke-width="0.8"/>
<text x="68.60" y="26.00" font-family="'Liberation Serif', serif" font-size="5.76" text-anchor="start" fill="#333" font-weight="normal" font-style="normal" stroke="#333" stroke-width="0.099" textLength="11.09" lengthAdjust="spacingAndGlyphs">Auxin</text>
<line x1="65.40" y1="25.60" x2="65.40" y2="35.20" stroke="#2a2a2a" stroke-width="0.9"/>
<rect x="57.00" y="35.20" width="16.20" height="8.80" fill="#F6B233" stroke="#6b5420" stroke-width="0.8" rx="0"/>
<text x="65.10" y="41.20" font-family="'Liberation Serif', serif" font-size="5.64" text-anchor="middle" fill="#333" font-weight="normal" font-style="normal" stroke="#333" stroke-width="0.097" textLength="11.58" lengthAdjust="spacingAndGlyphs">AUX1</text>
<rect x="23.10" y="36.00" width="5.62" height="6.70" fill="#9aa6d2" stroke="#c8c8c8" stroke-width="0.3" rx="0"/>
<rect x="28.73" y="36.00" width="5.62" height="6.70" fill="#ee5050" stroke="#c8c8c8" stroke-width="0.3" rx="0"/>
<rect x="34.35" y="36.00" width="5.62" height="6.70" fill="#7486c2" stroke="#c8c8c8" stroke-width="0.3" rx="0"/>
<rect x="39.98" y="36.00" width="5.62" height="6.70" fill="#f8d0d1" stroke="#c8c8c8" stroke-width="0.3" rx="0"/>
<text x="34.35" y="35.00" font-family="'Liberation Serif', serif" font-size="3.84" text-anchor="middle" fill="#555" font-weight="normal" font-style="normal" stroke="#555" stroke-width="0.066" textLength="7.88" lengthAdjust="spacingAndGlyphs">AUX1</text>
<text x="21.90" y="40.81" font-family="'Liberation Serif', serif" font-size="5.16" text-anchor="end" fill="#333" font-weight="normal" font-style="normal" stroke="#333" stroke-width="0.088" textLength="20.31" lengthAdjust="spacingAndGlyphs">DG6C10458</text>
<line x1="65.40" y1="44.00" x2="65.40" y2="52.64" stroke="#2a2a2a" stroke-width="0.9"/>
<polygon points="65.40,54.20 63.80,51.60 67.00,51.60" fill="#2a2a2a"/>
<rect x="57.40" y="54.20" width="16.20" height="9.20" fill="#fff" stroke="#555" stroke-width="0.8" rx="0"/>
<text x="65.50" y="60.40" font-family="'Liberation Serif', serif" font-size="5.64" text-anchor="middle" fill="#333" font-weight="normal" font-style="normal" stroke="#333" stroke-width="0.097" textLength="9.17" lengthAdjust="spacingAndGlyphs">TIR1</text>
<line x1="65.40" y1="63.40" x2="65.40" y2="72.10" stroke="#2a2a2a" stroke-width="0.9"/>
<text x="68.60" y="68.60" font-family="'Liberation Serif', serif" font-size="3.60" text-anchor="start" fill="#444" font-weight="normal" font-style="normal" stroke="#444" stroke-width="0.062" textLength="2.95" lengthAdjust="spacingAndGlyphs">+u</text>
<rect x="54.40" y="72.10" width="22.40" height="8.50" fill="#F6B233" stroke="#6b5420" stroke-width="0.8" rx="0"/>
<text x="65.60" y="77.95" font-family="'Liberation Serif', serif" font-size="5.64" text-anchor="middle" fill="#333" font-weight="normal" font-style="normal" stroke="#333" stroke-width="0.097" textLength="18.33" lengthAdjust="spacingAndGlyphs">AUX/IAA</text>
<rect x="8.30" y="66.10" width="38.00" height="20.10" fill="#fff" stroke="#444" stroke-width="0.8" rx="3.0"/>
<text x="27.30" y="75.02" font-family="'Liberation Serif', serif" font-size="5.76" text-anchor="middle" fill="#333" font-weight="normal" font-style="normal" stroke="#333" stroke-width="0.099" textLength="34.37" lengthAdjust="spacingAndGlyphs">Ubiquitin mediated</text>
<text x="27.30" y="80.54" font-family="'Liberation Serif', serif" font-size="5.76" text-anchor="middle" fill="#333" font-weight="normal" font-style="normal" stroke="#333" stroke-width="0.099" textLength="19.46" lengthAdjust="spacingAndGlyphs">proteolysis</text>
<line x1="54.40" y1="76.30" x2="48.16" y2="76.30" stroke="#333" stroke-width="0.8"/>
<polygon points="46.60,76.30 49.20,74.70 49.20,77.90" fill="#222"/>
<line x1="65.40" y1="80.60" x2="65.40" y2="88.90" stroke="#2a2a2a" stroke-width="0.9"/>
<rect x="57.00" y="88.90" width="16.60" height="8.80" fill="#F6B233" stroke="#6b5420" stroke-width="0.8" rx="0"/>
<text x="65.30" y="94.90" font-family="'Liberation Serif', serif" font-size="5.64" text-anchor="middle" fill="#333" font-weight="normal" font-style="normal" stroke="#333" stroke-width="0.097" textLength="8.45" lengthAdjust="spacingAndGlyphs">ARF</text>
<rect x="23.10" y="91.90" width="5.62" height="6.65" fill="#f5a5a6" stroke="#c8c8c8" stroke-width="0.3" rx="0"/>
<rect x="28.73" y="91.90" width="5.62" height="6.65" fill="#4860b0" stroke="#c8c8c8" stroke-width="0.3" rx="0"/>
<rect x="34.35" y="91.90" width="5.62" height="6.65" fill="#f28586" stroke="#c8c8c8" stroke-width="0.3" rx="0"/>
<rect x="39.98" y="91.90" width="5.62" height="6.65" fill="#cbd0e7" stroke="#c8c8c8" stroke-width="0.3" rx="0"/>
<rect x="23.10" y="98.55" width="5.62" height="6.65" fill="#4860b0" stroke="#c8c8c8" stroke-width="0.3" rx="0"/>
<rect x="28.73" y="98.55" width="5.62" height="6.65" fill="#9aa6d2" stroke="#c8c8c8" stroke-width="0.3" rx="0"/>
<rect x="34.35" y="98.55" width="5.62" height="6.65" fill="#f28586" stroke="#c8c8c8" stroke-width="0.3" rx="0"/>
<rect x="39.98" y="98.55" width="5.62" height="6.65" fill="#f28586" stroke="#c8c8c8" stroke-width="0.3" rx="0"/>
<text x="34.35" y="90.90" font-family="'Liberation Serif', serif" font-size="3.84" text-anchor="middle" fill="#555" font-weight="normal" font-style="normal" stroke="#555" stroke-width="0.066" textLength="5.75" lengthAdjust="spacingAndGlyphs">ARF</text>
<text x="21.90" y="96.69" font-family="'Liberation Serif', serif" font-size="5.16" text-anchor="end" fill="#333" font-weight="normal" font-style="normal" stroke="#333" stroke-width="0.088" textLength="20.31" lengthAdjust="spacingAndGlyphs">DG6C10312</text>
<text x="21.90" y="103.34" font-family="'Liberation Serif', serif" font-size="5.16" text-anchor="end" fill="#333" font-weight="normal" font-style="normal" stroke="#333" stroke-width="0.088" textLength="20.16" lengthAdjust="spacingAndGlyphs">DG6C10112</text>
<line x1="65.40" y1="97.70" x2="65.40" y2="107.24" stroke="#2a2a2a" stroke-width="0.9"/>
<polygon points="65.40,108.80 63.80,106.20 67.00,106.20" fill="#2a2a2a"/>
<circle cx="65.40" cy="111.00" r="1.5" fill="#fff" stroke="#333" stroke-width="0.8"/>
<text x="68.60" y="113.00" font-family="'Liberation Serif', serif" font-size="6.24" text-anchor="start" fill="#333" font-weight="normal" font-style="normal" stroke="#333" stroke-width="0.107" textLength="10.41" lengthAdjust="spacingAndGlyphs">DNA</text>
<line x1="63.60" y1="112.60" x2="54.53" y2="121.22" stroke="#333" stroke-width="0.8"/>
<polygon points="53.40,122.30 54.18,119.35 56.39,121.67" fill="#222"/>
<line x1="65.40" y1="112.40" x2="65.40" y2="121.74" stroke="#2a2a2a" stroke-width="0.9"/>
<polygon points="65.40,123.30 63.80,120.70 67.00,120.70" fill="#2a2a2a"/>
<line x1="67.20" y1="112.60" x2="77.80" y2="121.50" stroke="#333" stroke-width="0.8"/>
<polygon points="79.00,122.50 75.98,122.05 78.04,119.60" fill="#222"/>
<rect x="37.90" y="123.40" width="15.80" height="9.20" fill="#F6B233" stroke="#6b5420" stroke-width="0.8" rx="0"/>
<text x="45.80" y="129.60" font-family="'Liberation Serif', serif" font-size="5.64" text-anchor="middle" fill="#333" font-weight="normal" font-style="normal" stroke="#333" stroke-width="0.097" textLength="11.58" lengthAdjust="spacingAndGlyphs">SAUR</text>
<rect x="57.40" y="123.40" width="16.00" height="9.20" fill="#F6B233" stroke="#6b5420" stroke-width="0.8" rx="0"/>
<text x="65.40" y="129.60" font-family="'Liberation Serif', serif" font-size="5.64" text-anchor="middle" fill="#333" font-weight="normal" font-style="normal" stroke="#333" stroke-width="0.097" textLength="8.44" lengthAdjust="spacingAndGlyphs">GH3</text>
<rect x="78.10" y="123.30" width="22.10" height="9.40" fill="#F6B233" stroke="#6b5420" stroke-width="0.8" rx="0"/>
<text x="89.15" y="129.60" font-family="'Liberation Serif', serif" font-size="5.64" text-anchor="middle" fill="#333" font-weight="normal" font-style="normal" stroke="#333" stroke-width="0.097" textLength="18.33" lengthAdjust="spacingAndGlyphs">AUX/IAA</text>
<line x1="65.40" y1="134.00" x2="65.40" y2="142.94" stroke="#2a2a2a" stroke-width="0.9"/>
<polygon points="65.40,144.50 63.80,141.90 67.00,141.90" fill="#2a2a2a"/>
<text x="65.40" y="151.60" font-family="'Liberation Serif', serif" font-size="6.36" text-anchor="middle" fill="#333" font-weight="normal" font-style="normal" stroke="#333" stroke-width="0.109" textLength="33.50" lengthAdjust="spacingAndGlyphs">Cell enlargement</text>
<text x="65.40" y="157.80" font-family="'Liberation Serif', serif" font-size="6.36" text-anchor="middle" fill="#333" font-weight="normal" font-style="normal" stroke="#333" stroke-width="0.109" textLength="24.89" lengthAdjust="spacingAndGlyphs">plant growth</text>
<rect x="84.10" y="34.40" width="5.65" height="6.55" fill="#d9dced" stroke="#c8c8c8" stroke-width="0.3" rx="0"/>
<rect x="89.75" y="34.40" width="5.65" height="6.55" fill="#4860b0" stroke="#c8c8c8" stroke-width="0.3" rx="0"/>
<rect x="95.40" y="34.40" width="5.65" height="6.55" fill="#f6b3b4" stroke="#c8c8c8" stroke-width="0.3" rx="0"/>
<rect x="101.05" y="34.40" width="5.65" height="6.55" fill="#f28586" stroke="#c8c8c8" stroke-width="0.3" rx="0"/>
<rect x="84.10" y="40.95" width="5.65" height="6.55" fill="#9aa6d2" stroke="#c8c8c8" stroke-width="0.3" rx="0"/>
<rect x="89.75" y="40.95" width="5.65" height="6.55" fill="#6579bc" stroke="#c8c8c8" stroke-width="0.3" rx="0"/>
<rect x="95.40" y="40.95" width="5.65" height="6.55" fill="#f39393" stroke="#c8c8c8" stroke-width="0.3" rx="0"/>
<rect x="101.05" y="40.95" width="5.65" height="6.55" fill="#f39393" stroke="#c8c8c8" stroke-width="0.3" rx="0"/>
<rect x="84.10" y="47.51" width="5.65" height="6.55" fill="#8c9acc" stroke="#c8c8c8" stroke-width="0.3" rx="0"/>
<rect x="89.75" y="47.51" width="5.65" height="6.55" fill="#8c9acc" stroke="#c8c8c8" stroke-width="0.3" rx="0"/>
<rect x="95.40" y="47.51" width="5.65" height="6.55" fill="#f49798" stroke="#c8c8c8" stroke-width="0.3" rx="0"/>
<rect x="101.05" y="47.51" width="5.65" height="6.55" fill="#f39393" stroke="#c8c8c8" stroke-width="0.3" rx="0"/>
<rect x="84.10" y="54.06" width="5.65" height="6.55" fill="#9aa6d2" stroke="#c8c8c8" stroke-width="0.3" rx="0"/>
<rect x="89.75" y="54.06" width="5.65" height="6.55" fill="#9aa6d2" stroke="#c8c8c8" stroke-width="0.3" rx="0"/>
<rect x="95.40" y="54.06" width="5.65" height="6.55" fill="#d9dced" stroke="#c8c8c8" stroke-width="0.3" rx="0"/>
<rect x="101.05" y="54.06" width="5.65" height="6.55" fill="#ee5050" stroke="#c8c8c8" stroke-width="0.3" rx="0"/>
<rect x="84.10" y="60.62" width="5.65" height="6.55" fill="#4860b0" stroke="#c8c8c8" stroke-width="0.3" rx="0"/>
<rect x="89.75" y="60.62" width="5.65" height="6.55" fill="#d9dced" stroke="#c8c8c8" stroke-width="0.3" rx="0"/>
<rect x="95.40" y="60.62" width="5.65" height="6.55" fill="#f7c2c4" stroke="#c8c8c8" stroke-width="0.3" rx="0"/>
<rect x="101.05" y="60.62" width="5.65" height="6.55" fill="#f17778" stroke="#c8c8c8" stroke-width="0.3" rx="0"/>
<rect x="84.10" y="67.17" width="5.65" height="6.55" fill="#a9b3d9" stroke="#c8c8c8" stroke-width="0.3" rx="0"/>
<rect x="89.75" y="67.17" width="5.65" height="6.55" fill="#8c9acc" stroke="#c8c8c8" stroke-width="0.3" rx="0"/>
<rect x="95.40" y="67.17" width="5.65" height="6.55" fill="#ee5050" stroke="#c8c8c8" stroke-width="0.3" rx="0"/>
<rect x="101.05" y="67.17" width="5.65" height="6.55" fill="#fbf9fb" stroke="#c8c8c8" stroke-width="0.3" rx="0"/>
<rect x="84.10" y="73.72" width="5.65" height="6.55" fill="#f49798" stroke="#c8c8c8" stroke-width="0.3" rx="0"/>
<rect x="89.75" y="73.72" width="5.65" height="6.55" fill="#4860b0" stroke="#c8c8c8" stroke-width="0.3" rx="0"/>
<rect x="95.40" y="73.72" width="5.65" height="6.55" fill="#f49798" stroke="#c8c8c8" stroke-width="0.3" rx="0"/>
<rect x="101.05" y="73.72" width="5.65" height="6.55" fill="#d9dced" stroke="#c8c8c8" stroke-width="0.3" rx="0"/>
<rect x="84.10" y="80.28" width="5.65" height="6.55" fill="#f8d0d1" stroke="#c8c8c8" stroke-width="0.3" rx="0"/>
<rect x="89.75" y="80.28" width="5.65" height="6.55" fill="#4860b0" stroke="#c8c8c8" stroke-width="0.3" rx="0"/>
<rect x="95.40" y="80.28" width="5.65" height="6.55" fill="#f28586" stroke="#c8c8c8" stroke-width="0.3" rx="0"/>
<rect x="101.05" y="80.28" width="5.65" height="6.55" fill="#f9dedf" stroke="#c8c8c8" stroke-width="0.3" rx="0"/>
<rect x="84.10" y="86.83" width="5.65" height="6.55" fill="#f5a5a6" stroke="#c8c8c8" stroke-width="0.3" rx="0"/>
<rect x="89.75" y="86.83" width="5.65" height="6.55" fill="#7486c2" stroke="#c8c8c8" stroke-width="0.3" rx="0"/>
<rect x="95.40" y="86.83" width="5.65" height="6.55" fill="#f17778" stroke="#c8c8c8" stroke-width="0.3" rx="0"/>
<rect x="101.05" y="86.83" width="5.65" height="6.55" fill="#9aa6d2" stroke="#c8c8c8" stroke-width="0.3" rx="0"/>
<rect x="84.10" y="93.38" width="5.65" height="6.55" fill="#fbf9fb" stroke="#c8c8c8" stroke-width="0.3" rx="0"/>
<rect x="89.75" y="93.38" width="5.65" height="6.55" fill="#8c9acc" stroke="#c8c8c8" stroke-width="0.3" rx="0"/>
<rect x="95.40" y="93.38" width="5.65" height="6.55" fill="#ee5050" stroke="#c8c8c8" stroke-width="0.3" rx="0"/>
<rect x="101.05" y="93.38" width="5.65" height="6.55" fill="#9aa6d2" stroke="#c8c8c8" stroke-width="0.3" rx="0"/>
<rect x="84.10" y="99.94" width="5.65" height="6.55" fill="#ef5d5e" stroke="#c8c8c8" stroke-width="0.3" rx="0"/>
<rect x="89.75" y="99.94" width="5.65" height="6.55" fill="#7486c2" stroke="#c8c8c8" stroke-width="0.3" rx="0"/>
<rect x="95.40" y="99.94" width="5.65" height="6.55" fill="#bcc3e1" stroke="#c8c8c8" stroke-width="0.3" rx="0"/>
<rect x="101.05" y="99.94" width="5.65" height="6.55" fill="#f8d0d1" stroke="#c8c8c8" stroke-width="0.3" rx="0"/>
<rect x="84.10" y="106.49" width="5.65" height="6.55" fill="#f5a5a6" stroke="#c8c8c8" stroke-width="0.3" rx="0"/>
<rect x="89.75" y="106.49" width="5.65" height="6.55" fill="#f49798" stroke="#c8c8c8" stroke-width="0.3" rx="0"/>
<rect x="95.40" y="106.49" width="5.65" height="6.55" fill="#f8d0d1" stroke="#c8c8c8" stroke-width="0.3" rx="0"/>
<rect x="101.05" y="106.49" width="5.65" height="6.55" fill="#4860b0" stroke="#c8c8c8" stroke-width="0.3" rx="0"/>
<rect x="84.10" y="113.05" width="5.65" height="6.55" fill="#f39393" stroke="#c8c8c8" stroke-width="0.3" rx="0"/>
<rect x="89.75" y="113.05" width="5.65" height="6.55" fill="#d9dced" stroke="#c8c8c8" stroke-width="0.3" rx="0"/>
<rect x="95.40" y="113.05" width="5.65" height="6.55" fill="#f49798" stroke="#c8c8c8" stroke-width="0.3" rx="0"/>
<rect x="101.05" y="113.05" width="5.65" height="6.55" fill="#4860b0" stroke="#c8c8c8" stroke-width="0.3" rx="0"/>
<text x="95.40" y="33.40" font-family="'Liberation Serif', serif" font-size="3.84" text-anchor="middle" fill="#555" font-weight="normal" font-style="normal" stroke="#555" stroke-width="0.066" textLength="12.48" lengthAdjust="spacingAndGlyphs">AUX/IAA</text>
<text x="108.20" y="39.14" font-family="'Liberation Serif', serif" font-size="5.16" text-anchor="start" fill="#333" font-weight="normal" font-style="normal" stroke="#333" stroke-width="0.088" textLength="20.31" lengthAdjust="spacingAndGlyphs">DG6C04969</text>
<text x="108.20" y="45.69" font-family="'Liberation Serif', serif" font-size="5.16" text-anchor="start" fill="#333" font-weight="normal" font-style="normal" stroke="#333" stroke-width="0.088" textLength="20.31" lengthAdjust="spacingAndGlyphs">DG5C04377</text>
<text x="108.20" y="52.25" font-family="'Liberation Serif', serif" font-size="5.16" text-anchor="start" fill="#333" font-weight="normal" font-style="normal" stroke="#333" stroke-width="0.088" textLength="20.31" lengthAdjust="spacingAndGlyphs">DG1C01222</text>
<text x="108.20" y="58.80" font-family="'Liberation Serif', serif" font-size="5.16" text-anchor="start" fill="#333" font-weight="normal" font-style="normal" stroke="#333" stroke-width="0.088" textLength="20.31" lengthAdjust="spacingAndGlyphs">DG5C01306</text>
<text x="108.20" y="65.35" font-family="'Liberation Serif', serif" font-size="5.16" text-anchor="start" fill="#333" font-weight="normal" font-style="normal" stroke="#333" stroke-width="0.088" textLength="20.16" lengthAdjust="spacingAndGlyphs">DG5C01122</text>
<text x="108.20" y="71.91" font-family="'Liberation Serif', serif" font-size="5.16" text-anchor="start" fill="#333" font-weight="normal" font-style="normal" stroke="#333" stroke-width="0.088" textLength="20.31" lengthAdjust="spacingAndGlyphs">DG6C01006</text>
<text x="108.20" y="78.46" font-family="'Liberation Serif', serif" font-size="5.16" text-anchor="start" fill="#333" font-weight="normal" font-style="normal" stroke="#333" stroke-width="0.088" textLength="20.31" lengthAdjust="spacingAndGlyphs">DG5C01754</text>
<text x="108.20" y="85.02" font-family="'Liberation Serif', serif" font-size="5.16" text-anchor="start" fill="#333" font-weight="normal" font-style="normal" stroke="#333" stroke-width="0.088" textLength="20.31" lengthAdjust="spacingAndGlyphs">DG4C05492</text>
<text x="108.20" y="91.57" font-family="'Liberation Serif', serif" font-size="5.16" text-anchor="start" fill="#333" font-weight="normal" font-style="normal" stroke="#333" stroke-width="0.088" textLength="20.31" lengthAdjust="spacingAndGlyphs">DG6C04374</text>
<text x="108.20" y="98.12" font-family="'Liberation Serif', serif" font-size="5.16" text-anchor="start" fill="#333" font-weight="normal" font-style="normal" stroke="#333" stroke-width="0.088" textLength="20.31" lengthAdjust="spacingAndGlyphs">DG7C04310</text>
<text x="108.20" y="104.68" font-family="'Liberation Serif', serif" font-size="5.16" text-anchor="start" fill="#333" font-weight="normal" font-style="normal" stroke="#333" stroke-width="0.088" textLength="20.31" lengthAdjust="spacingAndGlyphs">DG2C01735</text>
<text x="108.20" y="111.23" font-family="'Liberation Serif', serif" font-size="5.16" text-anchor="start" fill="#333" font-weight="normal" font-style="normal" stroke="#333" stroke-width="0.088" textLength="20.31" lengthAdjust="spacingAndGlyphs">DG4C00605</text>
<text x="108.20" y="117.79" font-family="'Liberation Serif', serif" font-size="5.16" text-anchor="start" fill="#333" font-weight="normal" font-style="normal" stroke="#333" stroke-width="0.088" textLength="20.31" lengthAdjust="spacingAndGlyphs">DG4C05948</text>
<rect x="23.10" y="139.00" width="5.67" height="6.57" fill="#cbd0e7" stroke="#c8c8c8" stroke-width="0.3" rx="0"/>
<rect x="28.77" y="139.00" width="5.67" height="6.57" fill="#f28586" stroke="#c8c8c8" stroke-width="0.3" rx="0"/>
<rect x="34.45" y="139.00" width="5.67" height="6.57" fill="#4860b0" stroke="#c8c8c8" stroke-width="0.3" rx="0"/>
<rect x="40.12" y="139.00" width="5.67" height="6.57" fill="#f6b3b4" stroke="#c8c8c8" stroke-width="0.3" rx="0"/>
<rect x="23.10" y="145.57" width="5.67" height="6.57" fill="#f17778" stroke="#c8c8c8" stroke-width="0.3" rx="0"/>
<rect x="28.77" y="145.57" width="5.67" height="6.57" fill="#f5a5a6" stroke="#c8c8c8" stroke-width="0.3" rx="0"/>
<rect x="34.45" y="145.57" width="5.67" height="6.57" fill="#7486c2" stroke="#c8c8c8" stroke-width="0.3" rx="0"/>
<rect x="40.12" y="145.57" width="5.67" height="6.57" fill="#9aa6d2" stroke="#c8c8c8" stroke-width="0.3" rx="0"/>
<rect x="23.10" y="152.13" width="5.67" height="6.57" fill="#f39393" stroke="#c8c8c8" stroke-width="0.3" rx="0"/>
<rect x="28.77" y="152.13" width="5.67" height="6.57" fill="#f39393" stroke="#c8c8c8" stroke-width="0.3" rx="0"/>
<rect x="34.45" y="152.13" width="5.67" height="6.57" fill="#6579bc" stroke="#c8c8c8" stroke-width="0.3" rx="0"/>
<rect x="40.12" y="152.13" width="5.67" height="6.57" fill="#9aa6d2" stroke="#c8c8c8" stroke-width="0.3" rx="0"/>
<rect x="23.10" y="158.70" width="5.67" height="6.57" fill="#f5a5a6" stroke="#c8c8c8" stroke-width="0.3" rx="0"/>
<rect x="28.77" y="158.70" width="5.67" height="6.57" fill="#f28586" stroke="#c8c8c8" stroke-width="0.3" rx="0"/>
<rect x="34.45" y="158.70" width="5.67" height="6.57" fill="#7486c2" stroke="#c8c8c8" stroke-width="0.3" rx="0"/>
<rect x="40.12" y="158.70" width="5.67" height="6.57" fill="#9aa6d2" stroke="#c8c8c8" stroke-width="0.3" rx="0"/>
<rect x="23.10" y="165.27" width="5.67" height="6.57" fill="#f5a5a6" stroke="#c8c8c8" stroke-width="0.3" rx="0"/>
<rect x="28.77" y="165.27" width="5.67" height="6.57" fill="#f28586" stroke="#c8c8c8" stroke-width="0.3" rx="0"/>
<rect x="34.45" y="165.27" width="5.67" height="6.57" fill="#7486c2" stroke="#c8c8c8" stroke-width="0.3" rx="0"/>
<rect x="40.12" y="165.27" width="5.67" height="6.57" fill="#9aa6d2" stroke="#c8c8c8" stroke-width="0.3" rx="0"/>
<rect x="23.10" y="171.83" width="5.67" height="6.57" fill="#fbf9fb" stroke="#c8c8c8" stroke-width="0.3" rx="0"/>
<rect x="28.77" y="171.83" width="5.67" height="6.57" fill="#4860b0" stroke="#c8c8c8" stroke-width="0.3" rx="0"/>
<rect x="34.45" y="171.83" width="5.67" height="6.57" fill="#f9dedf" stroke="#c8c8c8" stroke-width="0.3" rx="0"/>
<rect x="40.12" y="171.83" width="5.67" height="6.57" fill="#f17778" stroke="#c8c8c8" stroke-width="0.3" rx="0"/>
<rect x="23.10" y="178.40" width="5.67" height="6.57" fill="#a9b3d9" stroke="#c8c8c8" stroke-width="0.3" rx="0"/>
<rect x="28.77" y="178.40" width="5.67" height="6.57" fill="#7486c2" stroke="#c8c8c8" stroke-width="0.3" rx="0"/>
<rect x="34.45" y="178.40" width="5.67" height="6.57" fill="#d9dced" stroke="#c8c8c8" stroke-width="0.3" rx="0"/>
<rect x="40.12" y="178.40" width="5.67" height="6.57" fill="#ee5050" stroke="#c8c8c8" stroke-width="0.3" rx="0"/>
<rect x="23.10" y="184.97" width="5.67" height="6.57" fill="#f8d0d1" stroke="#c8c8c8" stroke-width="0.3" rx="0"/>
<rect x="28.77" y="184.97" width="5.67" height="6.57" fill="#4860b0" stroke="#c8c8c8" stroke-width="0.3" rx="0"/>
<rect x="34.45" y="184.97" width="5.67" height="6.57" fill="#f39393" stroke="#c8c8c8" stroke-width="0.3" rx="0"/>
<rect x="40.12" y="184.97" width="5.67" height="6.57" fill="#f9dedf" stroke="#c8c8c8" stroke-width="0.3" rx="0"/>
<rect x="23.10" y="191.53" width="5.67" height="6.57" fill="#d9dced" stroke="#c8c8c8" stroke-width="0.3" rx="0"/>
<rect x="28.77" y="191.53" width="5.67" height="6.57" fill="#4860b0" stroke="#c8c8c8" stroke-width="0.3" rx="0"/>
<rect x="34.45" y="191.53" width="5.67" height="6.57" fill="#f39393" stroke="#c8c8c8" stroke-width="0.3" rx="0"/>
<rect x="40.12" y="191.53" width="5.67" height="6.57" fill="#f49798" stroke="#c8c8c8" stroke-width="0.3" rx="0"/>
<rect x="23.10" y="198.10" width="5.67" height="6.57" fill="#d9dced" stroke="#c8c8c8" stroke-width="0.3" rx="0"/>
<rect x="28.77" y="198.10" width="5.67" height="6.57" fill="#4860b0" stroke="#c8c8c8" stroke-width="0.3" rx="0"/>
<rect x="34.45" y="198.10" width="5.67" height="6.57" fill="#f39393" stroke="#c8c8c8" stroke-width="0.3" rx="0"/>
<rect x="40.12" y="198.10" width="5.67" height="6.57" fill="#f49798" stroke="#c8c8c8" stroke-width="0.3" rx="0"/>
<rect x="23.10" y="204.67" width="5.67" height="6.57" fill="#9aa6d2" stroke="#c8c8c8" stroke-width="0.3" rx="0"/>
<rect x="28.77" y="204.67" width="5.67" height="6.57" fill="#576db6" stroke="#c8c8c8" stroke-width="0.3" rx="0"/>
<rect x="34.45" y="204.67" width="5.67" height="6.57" fill="#f49798" stroke="#c8c8c8" stroke-width="0.3" rx="0"/>
<rect x="40.12" y="204.67" width="5.67" height="6.57" fill="#f39393" stroke="#c8c8c8" stroke-width="0.3" rx="0"/>
<rect x="23.10" y="211.23" width="5.67" height="6.57" fill="#9aa6d2" stroke="#c8c8c8" stroke-width="0.3" rx="0"/>
<rect x="28.77" y="211.23" width="5.67" height="6.57" fill="#7486c2" stroke="#c8c8c8" stroke-width="0.3" rx="0"/>
<rect x="34.45" y="211.23" width="5.67" height="6.57" fill="#f39393" stroke="#c8c8c8" stroke-width="0.3" rx="0"/>
<rect x="40.12" y="211.23" width="5.67" height="6.57" fill="#f49798" stroke="#c8c8c8" stroke-width="0.3" rx="0"/>
<text x="34.45" y="138.00" font-family="'Liberation Serif', serif" font-size="3.84" text-anchor="middle" fill="#555" font-weight="normal" font-style="normal" stroke="#555" stroke-width="0.066" textLength="7.89" lengthAdjust="spacingAndGlyphs">SAUR</text>
<text x="21.90" y="143.75" font-family="'Liberation Serif', serif" font-size="5.16" text-anchor="end" fill="#333" font-weight="normal" font-style="normal" stroke="#333" stroke-width="0.088" textLength="20.31" lengthAdjust="spacingAndGlyphs">DG1C06078</text>
<text x="21.90" y="150.31" font-family="'Liberation Serif', serif" font-size="5.16" text-anchor="end" fill="#333" font-weight="normal" font-style="normal" stroke="#333" stroke-width="0.088" textLength="20.31" lengthAdjust="spacingAndGlyphs">DG7C04508</text>
<text x="21.90" y="156.88" font-family="'Liberation Serif', serif" font-size="5.16" text-anchor="end" fill="#333" font-weight="normal" font-style="normal" stroke="#333" stroke-width="0.088" textLength="20.31" lengthAdjust="spacingAndGlyphs">DG7C02668</text>
<text x="21.90" y="163.45" font-family="'Liberation Serif', serif" font-size="5.16" text-anchor="end" fill="#333" font-weight="normal" font-style="normal" stroke="#333" stroke-width="0.088" textLength="20.31" lengthAdjust="spacingAndGlyphs">DG0C00931</text>
<text x="21.90" y="170.01" font-family="'Liberation Serif', serif" font-size="5.16" text-anchor="end" fill="#333" font-weight="normal" font-style="normal" stroke="#333" stroke-width="0.088" textLength="20.31" lengthAdjust="spacingAndGlyphs">DG7C02667</text>
<text x="21.90" y="176.58" font-family="'Liberation Serif', serif" font-size="5.16" text-anchor="end" fill="#333" font-weight="normal" font-style="normal" stroke="#333" stroke-width="0.088" textLength="20.31" lengthAdjust="spacingAndGlyphs">DG2C00767</text>
<text x="21.90" y="183.15" font-family="'Liberation Serif', serif" font-size="5.16" text-anchor="end" fill="#333" font-weight="normal" font-style="normal" stroke="#333" stroke-width="0.088" textLength="20.16" lengthAdjust="spacingAndGlyphs">DG6C01196</text>
<text x="21.90" y="189.71" font-family="'Liberation Serif', serif" font-size="5.16" text-anchor="end" fill="#333" font-weight="normal" font-style="normal" stroke="#333" stroke-width="0.088" textLength="20.31" lengthAdjust="spacingAndGlyphs">DG3C04964</text>
<text x="21.90" y="196.28" font-family="'Liberation Serif', serif" font-size="5.16" text-anchor="end" fill="#333" font-weight="normal" font-style="normal" stroke="#333" stroke-width="0.088" textLength="20.31" lengthAdjust="spacingAndGlyphs">DG6C03201</text>
<text x="21.90" y="202.85" font-family="'Liberation Serif', serif" font-size="5.16" text-anchor="end" fill="#333" font-weight="normal" font-style="normal" stroke="#333" stroke-width="0.088" textLength="20.31" lengthAdjust="spacingAndGlyphs">DG6C03197</text>
<text x="21.90" y="209.41" font-family="'Liberation Serif', serif" font-size="5.16" text-anchor="end" fill="#333" font-weight="normal" font-style="normal" stroke="#333" stroke-width="0.088" textLength="20.31" lengthAdjust="spacingAndGlyphs">DG2C00772</text>
<text x="21.90" y="215.98" font-family="'Liberation Serif', serif" font-size="5.16" text-anchor="end" fill="#333" font-weight="normal" font-style="normal" stroke="#333" stroke-width="0.088" textLength="20.31" lengthAdjust="spacingAndGlyphs">DG6C03203</text>
<rect x="84.10" y="139.10" width="5.70" height="6.58" fill="#fbf9fb" stroke="#c8c8c8" stroke-width="0.3" rx="0"/>
<rect x="89.80" y="139.10" width="5.70" height="6.58" fill="#7486c2" stroke="#c8c8c8" stroke-width="0.3" rx="0"/>
<rect x="95.50" y="139.10" width="5.70" height="6.58" fill="#ef5d5e" stroke="#c8c8c8" stroke-width="0.3" rx="0"/>
<rect x="101.20" y="139.10" width="5.70" height="6.58" fill="#bcc3e1" stroke="#c8c8c8" stroke-width="0.3" rx="0"/>
<rect x="84.10" y="145.68" width="5.70" height="6.58" fill="#8c9acc" stroke="#c8c8c8" stroke-width="0.3" rx="0"/>
<rect x="89.80" y="145.68" width="5.70" height="6.58" fill="#7486c2" stroke="#c8c8c8" stroke-width="0.3" rx="0"/>
<rect x="95.50" y="145.68" width="5.70" height="6.58" fill="#f28586" stroke="#c8c8c8" stroke-width="0.3" rx="0"/>
<rect x="101.20" y="145.68" width="5.70" height="6.58" fill="#f5a5a6" stroke="#c8c8c8" stroke-width="0.3" rx="0"/>
<rect x="84.10" y="152.25" width="5.70" height="6.58" fill="#8c9acc" stroke="#c8c8c8" stroke-width="0.3" rx="0"/>
<rect x="89.80" y="152.25" width="5.70" height="6.58" fill="#8292c8" stroke="#c8c8c8" stroke-width="0.3" rx="0"/>
<rect x="95.50" y="152.25" width="5.70" height="6.58" fill="#f5a5a6" stroke="#c8c8c8" stroke-width="0.3" rx="0"/>
<rect x="101.20" y="152.25" width="5.70" height="6.58" fill="#f17778" stroke="#c8c8c8" stroke-width="0.3" rx="0"/>
<rect x="84.10" y="158.82" width="5.70" height="6.58" fill="#8292c8" stroke="#c8c8c8" stroke-width="0.3" rx="0"/>
<rect x="89.80" y="158.82" width="5.70" height="6.58" fill="#9aa6d2" stroke="#c8c8c8" stroke-width="0.3" rx="0"/>
<rect x="95.50" y="158.82" width="5.70" height="6.58" fill="#f8d0d1" stroke="#c8c8c8" stroke-width="0.3" rx="0"/>
<rect x="101.20" y="158.82" width="5.70" height="6.58" fill="#f17778" stroke="#c8c8c8" stroke-width="0.3" rx="0"/>
<text x="95.50" y="138.10" font-family="'Liberation Serif', serif" font-size="3.84" text-anchor="middle" fill="#555" font-weight="normal" font-style="normal" stroke="#555" stroke-width="0.066" textLength="5.75" lengthAdjust="spacingAndGlyphs">GH3</text>
<text x="108.40" y="143.85" font-family="'Liberation Serif', serif" font-size="5.16" text-anchor="start" fill="#333" font-weight="normal" font-style="normal" stroke="#333" stroke-width="0.088" textLength="20.31" lengthAdjust="spacingAndGlyphs">DG0C01228</text>
<text x="108.40" y="150.42" font-family="'Liberation Serif', serif" font-size="5.16" text-anchor="start" fill="#333" font-weight="normal" font-style="normal" stroke="#333" stroke-width="0.088" textLength="20.31" lengthAdjust="spacingAndGlyphs">DG3C05841</text>
<text x="108.40" y="157.00" font-family="'Liberation Serif', serif" font-size="5.16" text-anchor="start" fill="#333" font-weight="normal" font-style="normal" stroke="#333" stroke-width="0.088" textLength="20.31" lengthAdjust="spacingAndGlyphs">DG2C05777</text>
<text x="108.40" y="163.57" font-family="'Liberation Serif', serif" font-size="5.16" text-anchor="start" fill="#333" font-weight="normal" font-style="normal" stroke="#333" stroke-width="0.088" textLength="20.31" lengthAdjust="spacingAndGlyphs">DG1C01846</text>
<defs><linearGradient id="cbH" x1="0" y1="0" x2="1" y2="0"><stop offset="0" stop-color="#e4342e"/><stop offset="0.5" stop-color="#f7f5fa"/><stop offset="1" stop-color="#2f55a4"/></linearGradient></defs>
<rect x="13.00" y="244.00" width="50.90" height="3.00" fill="url(#cbH)" stroke="none" stroke-width="0.6" rx="0"/>
<text x="13.30" y="242.80" font-family="'Liberation Sans', sans-serif" font-size="3.12" text-anchor="middle" fill="#666" font-weight="normal" font-style="normal" stroke="#666" stroke-width="0.053" textLength="1.34" lengthAdjust="spacingAndGlyphs">2</text>
<text x="25.90" y="242.80" font-family="'Liberation Sans', sans-serif" font-size="3.12" text-anchor="middle" fill="#666" font-weight="normal" font-style="normal" stroke="#666" stroke-width="0.053" textLength="1.34" lengthAdjust="spacingAndGlyphs">1</text>
<text x="38.50" y="242.80" font-family="'Liberation Sans', sans-serif" font-size="3.12" text-anchor="middle" fill="#666" font-weight="normal" font-style="normal" stroke="#666" stroke-width="0.053" textLength="1.34" lengthAdjust="spacingAndGlyphs">0</text>
<text x="51.10" y="242.80" font-family="'Liberation Sans', sans-serif" font-size="3.12" text-anchor="middle" fill="#666" font-weight="normal" font-style="normal" stroke="#666" stroke-width="0.053" textLength="2.14" lengthAdjust="spacingAndGlyphs">-1</text>
<text x="63.70" y="242.80" font-family="'Liberation Sans', sans-serif" font-size="3.12" text-anchor="middle" fill="#666" font-weight="normal" font-style="normal" stroke="#666" stroke-width="0.053" textLength="2.14" lengthAdjust="spacingAndGlyphs">-2</text>
<text x="28.20" y="264.00" font-family="'Liberation Serif', serif" font-size="5.76" text-anchor="middle" fill="#333" font-weight="normal" font-style="normal" stroke="#333" stroke-width="0.099" textLength="14.04" lengthAdjust="spacingAndGlyphs">Dianbei</text>
<text x="51.30" y="264.00" font-family="'Liberation Serif', serif" font-size="5.76" text-anchor="middle" fill="#333" font-weight="normal" font-style="normal" stroke="#333" stroke-width="0.099" textLength="9.61" lengthAdjust="spacingAndGlyphs">Anba</text>
<line x1="17.90" y1="265.00" x2="36.80" y2="265.00" stroke="#555" stroke-width="0.5"/>
<line x1="42.00" y1="265.00" x2="60.40" y2="265.00" stroke="#555" stroke-width="0.5"/>
<text x="21.00" y="270.60" font-family="'Liberation Serif', serif" font-size="5.52" text-anchor="middle" fill="#333" font-weight="normal" font-style="normal" stroke="#333" stroke-width="0.095" textLength="4.25" lengthAdjust="spacingAndGlyphs">8h</text>
<text x="32.40" y="270.60" font-family="'Liberation Serif', serif" font-size="5.52" text-anchor="middle" fill="#333" font-weight="normal" font-style="normal" stroke="#333" stroke-width="0.095" textLength="6.38" lengthAdjust="spacingAndGlyphs">24h</text>
<text x="44.70" y="270.60" font-family="'Liberation Serif', serif" font-size="5.52" text-anchor="middle" fill="#333" font-weight="normal" font-style="normal" stroke="#333" stroke-width="0.095" textLength="4.25" lengthAdjust="spacingAndGlyphs">8h</text>
<text x="57.40" y="270.60" font-family="'Liberation Serif', serif" font-size="5.52" text-anchor="middle" fill="#333" font-weight="normal" font-style="normal" stroke="#333" stroke-width="0.095" textLength="6.38" lengthAdjust="spacingAndGlyphs">24h</text>
<rect x="17.90" y="274.20" width="10.50" height="10.70" fill="#3E86C8" stroke="none" stroke-width="0.6" rx="0"/>
<rect x="28.40" y="274.20" width="11.70" height="10.70" fill="#F5B437" stroke="none" stroke-width="0.6" rx="0"/>
<rect x="40.10" y="274.20" width="10.50" height="10.70" fill="#E97A3B" stroke="none" stroke-width="0.6" rx="0"/>
<rect x="50.60" y="274.20" width="10.40" height="10.70" fill="#DDDDDD" stroke="none" stroke-width="0.6" rx="0"/>
<text x="135.80" y="5.60" font-family="'Liberation Sans', sans-serif" font-size="7.07" text-anchor="start" fill="#111" font-weight="bold" font-style="normal" textLength="5.11" lengthAdjust="spacingAndGlyphs">B</text>
<rect x="156.30" y="0.70" width="61.30" height="9.00" fill="#fff" stroke="#444" stroke-width="0.8" rx="2.0"/>
<text x="186.95" y="6.87" font-family="'Liberation Serif', serif" font-size="5.10" text-anchor="middle" fill="#333" font-weight="normal" font-style="normal" stroke="#333" stroke-width="0.087" textLength="58.30" lengthAdjust="spacingAndGlyphs">Cysteine and methionine metabolism</text>
<line x1="186.70" y1="9.70" x2="186.70" y2="18.04" stroke="#2a2a2a" stroke-width="0.9"/>
<polygon points="186.70,19.60 185.10,17.00 188.30,17.00" fill="#2a2a2a"/>
<circle cx="186.70" cy="21.50" r="1.5" fill="#fff" stroke="#333" stroke-width="0.8"/>
<text x="190.00" y="23.00" font-family="'Liberation Serif', serif" font-size="4.78" text-anchor="start" fill="#333" font-weight="normal" font-style="normal" stroke="#333" stroke-width="0.082" textLength="13.09" lengthAdjust="spacingAndGlyphs">Ethylene</text>
<line x1="186.70" y1="22.70" x2="186.70" y2="31.10" stroke="#2a2a2a" stroke-width="0.9"/>
<rect x="180.00" y="31.10" width="14.10" height="7.60" fill="#F6B233" stroke="#6b5420" stroke-width="0.8" rx="0"/>
<text x="187.05" y="36.36" font-family="'Liberation Serif', serif" font-size="4.47" text-anchor="middle" fill="#333" font-weight="normal" font-style="normal" stroke="#333" stroke-width="0.077" textLength="6.50" lengthAdjust="spacingAndGlyphs">ETR</text>
<rect x="156.50" y="31.50" width="4.88" height="6.07" fill="#8292c8" stroke="#c8c8c8" stroke-width="0.3" rx="0"/>
<rect x="161.38" y="31.50" width="4.88" height="6.07" fill="#f39393" stroke="#c8c8c8" stroke-width="0.3" rx="0"/>
<rect x="166.25" y="31.50" width="4.88" height="6.07" fill="#7486c2" stroke="#c8c8c8" stroke-width="0.3" rx="0"/>
<rect x="171.12" y="31.50" width="4.88" height="6.07" fill="#f49798" stroke="#c8c8c8" stroke-width="0.3" rx="0"/>
<rect x="156.50" y="37.57" width="4.88" height="6.07" fill="#cbd0e7" stroke="#c8c8c8" stroke-width="0.3" rx="0"/>
<rect x="161.38" y="37.57" width="4.88" height="6.07" fill="#ee5050" stroke="#c8c8c8" stroke-width="0.3" rx="0"/>
<rect x="166.25" y="37.57" width="4.88" height="6.07" fill="#9aa6d2" stroke="#c8c8c8" stroke-width="0.3" rx="0"/>
<rect x="171.12" y="37.57" width="4.88" height="6.07" fill="#9aa6d2" stroke="#c8c8c8" stroke-width="0.3" rx="0"/>
<rect x="156.50" y="43.63" width="4.88" height="6.07" fill="#f39393" stroke="#c8c8c8" stroke-width="0.3" rx="0"/>
<rect x="161.38" y="43.63" width="4.88" height="6.07" fill="#f49798" stroke="#c8c8c8" stroke-width="0.3" rx="0"/>
<rect x="166.25" y="43.63" width="4.88" height="6.07" fill="#7486c2" stroke="#c8c8c8" stroke-width="0.3" rx="0"/>
<rect x="171.12" y="43.63" width="4.88" height="6.07" fill="#9aa6d2" stroke="#c8c8c8" stroke-width="0.3" rx="0"/>
<text x="166.25" y="30.50" font-family="'Liberation Serif', serif" font-size="3.33" text-anchor="middle" fill="#555" font-weight="normal" font-style="normal" stroke="#555" stroke-width="0.057" textLength="4.84" lengthAdjust="spacingAndGlyphs">ETR</text>
<text x="155.30" y="36.00" font-family="'Liberation Serif', serif" font-size="4.47" text-anchor="end" fill="#333" font-weight="normal" font-style="normal" stroke="#333" stroke-width="0.077" textLength="17.60" lengthAdjust="spacingAndGlyphs">DG3C04664</text>
<text x="155.30" y="42.06" font-family="'Liberation Serif', serif" font-size="4.47" text-anchor="end" fill="#333" font-weight="normal" font-style="normal" stroke="#333" stroke-width="0.077" textLength="17.60" lengthAdjust="spacingAndGlyphs">DG2C05530</text>
<text x="155.30" y="48.13" font-family="'Liberation Serif', serif" font-size="4.47" text-anchor="end" fill="#333" font-weight="normal" font-style="normal" stroke="#333" stroke-width="0.077" textLength="17.60" lengthAdjust="spacingAndGlyphs">DG7C01247</text>
<line x1="186.70" y1="38.70" x2="186.70" y2="46.30" stroke="#2a2a2a" stroke-width="0.9"/>
<circle cx="186.70" cy="45.90" r="0.9" fill="#222" stroke="none" stroke-width="0"/>
<rect x="180.70" y="46.30" width="13.40" height="8.40" fill="#fff" stroke="#555" stroke-width="0.8" rx="0"/>
<text x="187.40" y="51.96" font-family="'Liberation Serif', serif" font-size="4.47" text-anchor="middle" fill="#333" font-weight="normal" font-style="normal" stroke="#333" stroke-width="0.077" textLength="8.42" lengthAdjust="spacingAndGlyphs">CTR1</text>
<line x1="186.70" y1="54.70" x2="186.70" y2="61.80" stroke="#2a2a2a" stroke-width="0.9"/>
<rect x="179.40" y="61.80" width="15.10" height="7.30" fill="#F6B233" stroke="#6b5420" stroke-width="0.8" rx="0"/>
<text x="186.95" y="66.91" font-family="'Liberation Serif', serif" font-size="4.47" text-anchor="middle" fill="#333" font-weight="normal" font-style="normal" stroke="#333" stroke-width="0.077" textLength="11.10" lengthAdjust="spacingAndGlyphs">SIMKK</text>
<rect x="156.50" y="63.00" width="4.88" height="5.80" fill="#fbf9fb" stroke="#c8c8c8" stroke-width="0.3" rx="0"/>
<rect x="161.38" y="63.00" width="4.88" height="5.80" fill="#f5a5a6" stroke="#c8c8c8" stroke-width="0.3" rx="0"/>
<rect x="166.25" y="63.00" width="4.88" height="5.80" fill="#4860b0" stroke="#c8c8c8" stroke-width="0.3" rx="0"/>
<rect x="171.12" y="63.00" width="4.88" height="5.80" fill="#f5a5a6" stroke="#c8c8c8" stroke-width="0.3" rx="0"/>
<text x="166.25" y="62.00" font-family="'Liberation Serif', serif" font-size="3.33" text-anchor="middle" fill="#555" font-weight="normal" font-style="normal" stroke="#555" stroke-width="0.057" textLength="8.26" lengthAdjust="spacingAndGlyphs">SIMKK</text>
<text x="155.30" y="67.36" font-family="'Liberation Serif', serif" font-size="4.47" text-anchor="end" fill="#333" font-weight="normal" font-style="normal" stroke="#333" stroke-width="0.077" textLength="17.60" lengthAdjust="spacingAndGlyphs">DG3C07121</text>
<line x1="186.70" y1="69.10" x2="186.70" y2="77.50" stroke="#2a2a2a" stroke-width="0.9"/>
<circle cx="186.70" cy="76.90" r="0.9" fill="#222" stroke="none" stroke-width="0"/>
<text x="189.20" y="74.00" font-family="'Liberation Serif', serif" font-size="3.12" text-anchor="start" fill="#444" font-weight="normal" font-style="normal" stroke="#444" stroke-width="0.053" textLength="2.69" lengthAdjust="spacingAndGlyphs">+P</text>
<rect x="179.80" y="77.50" width="14.30" height="7.10" fill="#fff" stroke="#555" stroke-width="0.8" rx="0"/>
<text x="186.95" y="82.51" font-family="'Liberation Serif', serif" font-size="4.47" text-anchor="middle" fill="#333" font-weight="normal" font-style="normal" stroke="#333" stroke-width="0.077" textLength="9.19" lengthAdjust="spacingAndGlyphs">MPK6</text>
<rect x="156.50" y="82.60" width="4.88" height="6.03" fill="#9aa6d2" stroke="#c8c8c8" stroke-width="0.3" rx="0"/>
<rect x="161.38" y="82.60" width="4.88" height="6.03" fill="#7486c2" stroke="#c8c8c8" stroke-width="0.3" rx="0"/>
<rect x="166.25" y="82.60" width="4.88" height="6.03" fill="#f17778" stroke="#c8c8c8" stroke-width="0.3" rx="0"/>
<rect x="171.12" y="82.60" width="4.88" height="6.03" fill="#f6b3b4" stroke="#c8c8c8" stroke-width="0.3" rx="0"/>
<rect x="156.50" y="88.63" width="4.88" height="6.03" fill="#7486c2" stroke="#c8c8c8" stroke-width="0.3" rx="0"/>
<rect x="161.38" y="88.63" width="4.88" height="6.03" fill="#f39393" stroke="#c8c8c8" stroke-width="0.3" rx="0"/>
<rect x="166.25" y="88.63" width="4.88" height="6.03" fill="#7486c2" stroke="#c8c8c8" stroke-width="0.3" rx="0"/>
<rect x="171.12" y="88.63" width="4.88" height="6.03" fill="#f5a5a6" stroke="#c8c8c8" stroke-width="0.3" rx="0"/>
<rect x="156.50" y="94.67" width="4.88" height="6.03" fill="#cbd0e7" stroke="#c8c8c8" stroke-width="0.3" rx="0"/>
<rect x="161.38" y="94.67" width="4.88" height="6.03" fill="#ef5d5e" stroke="#c8c8c8" stroke-width="0.3" rx="0"/>
<rect x="166.25" y="94.67" width="4.88" height="6.03" fill="#a9b3d9" stroke="#c8c8c8" stroke-width="0.3" rx="0"/>
<rect x="171.12" y="94.67" width="4.88" height="6.03" fill="#a9b3d9" stroke="#c8c8c8" stroke-width="0.3" rx="0"/>
<text x="166.25" y="81.60" font-family="'Liberation Serif', serif" font-size="3.33" text-anchor="middle" fill="#555" font-weight="normal" font-style="normal" stroke="#555" stroke-width="0.057" textLength="5.55" lengthAdjust="spacingAndGlyphs">EIN3</text>
<text x="155.30" y="87.08" font-family="'Liberation Serif', serif" font-size="4.47" text-anchor="end" fill="#333" font-weight="normal" font-style="normal" stroke="#333" stroke-width="0.077" textLength="17.60" lengthAdjust="spacingAndGlyphs">DG2C04602</text>
<text x="155.30" y="93.11" font-family="'Liberation Serif', serif" font-size="4.47" text-anchor="end" fill="#333" font-weight="normal" font-style="normal" stroke="#333" stroke-width="0.077" textLength="17.60" lengthAdjust="spacingAndGlyphs">DG3C04664</text>
<text x="155.30" y="99.15" font-family="'Liberation Serif', serif" font-size="4.47" text-anchor="end" fill="#333" font-weight="normal" font-style="normal" stroke="#333" stroke-width="0.077" textLength="17.60" lengthAdjust="spacingAndGlyphs">DG5C05530</text>
<line x1="186.70" y1="84.60" x2="186.70" y2="93.20" stroke="#2a2a2a" stroke-width="0.9"/>
<circle cx="186.70" cy="92.60" r="0.9" fill="#222" stroke="none" stroke-width="0"/>
<rect x="180.30" y="93.20" width="13.80" height="7.10" fill="#fff" stroke="#555" stroke-width="0.8" rx="0"/>
<text x="187.20" y="98.21" font-family="'Liberation Serif', serif" font-size="4.47" text-anchor="middle" fill="#333" font-weight="normal" font-style="normal" stroke="#333" stroke-width="0.077" textLength="7.46" lengthAdjust="spacingAndGlyphs">EIN2</text>
<line x1="186.70" y1="100.30" x2="186.70" y2="108.70" stroke="#2a2a2a" stroke-width="0.9"/>
<circle cx="186.70" cy="108.10" r="0.9" fill="#222" stroke="none" stroke-width="0"/>
<rect x="200.80" y="99.40" width="4.70" height="5.90" fill="#fbf9fb" stroke="#c8c8c8" stroke-width="0.3" rx="0"/>
<rect x="205.50" y="99.40" width="4.70" height="5.90" fill="#f17778" stroke="#c8c8c8" stroke-width="0.3" rx="0"/>
<rect x="210.20" y="99.40" width="4.70" height="5.90" fill="#4860b0" stroke="#c8c8c8" stroke-width="0.3" rx="0"/>
<rect x="214.90" y="99.40" width="4.70" height="5.90" fill="#f8d0d1" stroke="#c8c8c8" stroke-width="0.3" rx="0"/>
<text x="210.20" y="98.40" font-family="'Liberation Serif', serif" font-size="3.33" text-anchor="middle" fill="#555" font-weight="normal" font-style="normal" stroke="#555" stroke-width="0.057" textLength="7.97" lengthAdjust="spacingAndGlyphs">EBF1/2</text>
<text x="221.10" y="103.81" font-family="'Liberation Serif', serif" font-size="4.47" text-anchor="start" fill="#333" font-weight="normal" font-style="normal" stroke="#333" stroke-width="0.077" textLength="17.60" lengthAdjust="spacingAndGlyphs">DG2C03791</text>
<rect x="180.00" y="108.70" width="14.50" height="7.70" fill="#F6B233" stroke="#6b5420" stroke-width="0.8" rx="0"/>
<text x="187.25" y="114.01" font-family="'Liberation Serif', serif" font-size="4.47" text-anchor="middle" fill="#333" font-weight="normal" font-style="normal" stroke="#333" stroke-width="0.077" textLength="7.46" lengthAdjust="spacingAndGlyphs">EIN3</text>
<rect x="200.20" y="108.70" width="15.40" height="7.70" fill="#F6B233" stroke="#6b5420" stroke-width="0.8" rx="0"/>
<text x="207.90" y="114.01" font-family="'Liberation Serif', serif" font-size="4.47" text-anchor="middle" fill="#333" font-weight="normal" font-style="normal" stroke="#333" stroke-width="0.077" textLength="10.72" lengthAdjust="spacingAndGlyphs">EBF1/2</text>
<line x1="200.20" y1="112.60" x2="194.80" y2="112.60" stroke="#333" stroke-width="0.8"/>
<line x1="194.80" y1="111.20" x2="194.80" y2="114.00" stroke="#333" stroke-width="0.96"/>
<rect x="139.10" y="104.00" width="34.00" height="16.80" fill="#fff" stroke="#444" stroke-width="0.8" rx="2.5"/>
<text x="156.10" y="111.27" font-family="'Liberation Serif', serif" font-size="4.99" text-anchor="middle" fill="#333" font-weight="normal" font-style="normal" stroke="#333" stroke-width="0.086" textLength="29.78" lengthAdjust="spacingAndGlyphs">Ubiquitin mediated</text>
<text x="156.10" y="116.79" font-family="'Liberation Serif', serif" font-size="4.99" text-anchor="middle" fill="#333" font-weight="normal" font-style="normal" stroke="#333" stroke-width="0.086" textLength="16.87" lengthAdjust="spacingAndGlyphs">proteolysis</text>
<line x1="180.00" y1="112.60" x2="173.50" y2="112.60" stroke="#2a2a2a" stroke-width="0.9"/>
<circle cx="173.90" cy="112.60" r="0.9" fill="#222" stroke="none" stroke-width="0"/>
<line x1="186.70" y1="116.40" x2="186.70" y2="124.40" stroke="#2a2a2a" stroke-width="0.9"/>
<circle cx="186.70" cy="123.80" r="0.9" fill="#222" stroke="none" stroke-width="0"/>
<rect x="179.40" y="124.40" width="15.40" height="7.60" fill="#F6B233" stroke="#6b5420" stroke-width="0.8" rx="0"/>
<text x="187.10" y="129.66" font-family="'Liberation Serif', serif" font-size="4.47" text-anchor="middle" fill="#333" font-weight="normal" font-style="normal" stroke="#333" stroke-width="0.077" textLength="10.72" lengthAdjust="spacingAndGlyphs">ERF1/2</text>
<rect x="156.10" y="125.80" width="4.98" height="6.20" fill="#f17778" stroke="#c8c8c8" stroke-width="0.3" rx="0"/>
<rect x="161.07" y="125.80" width="4.98" height="6.20" fill="#7486c2" stroke="#c8c8c8" stroke-width="0.3" rx="0"/>
<rect x="166.05" y="125.80" width="4.98" height="6.20" fill="#f7c2c4" stroke="#c8c8c8" stroke-width="0.3" rx="0"/>
<rect x="171.03" y="125.80" width="4.98" height="6.20" fill="#9aa6d2" stroke="#c8c8c8" stroke-width="0.3" rx="0"/>
<text x="166.05" y="124.80" font-family="'Liberation Serif', serif" font-size="3.33" text-anchor="middle" fill="#555" font-weight="normal" font-style="normal" stroke="#555" stroke-width="0.057" textLength="7.97" lengthAdjust="spacingAndGlyphs">ERF1/2</text>
<text x="154.90" y="130.36" font-family="'Liberation Serif', serif" font-size="4.47" text-anchor="end" fill="#333" font-weight="normal" font-style="normal" stroke="#333" stroke-width="0.077" textLength="17.60" lengthAdjust="spacingAndGlyphs">DG1C06357</text>
<path d="M188.5,116.8 C200,118 205,128 202.5,140 L200.5,143.2" fill="none" stroke="#333" stroke-width="0.8"/>
<circle cx="200.30" cy="143.20" r="0.9" fill="#222" stroke="none" stroke-width="0"/>
<line x1="186.70" y1="132.00" x2="186.70" y2="141.90" stroke="#2a2a2a" stroke-width="0.9"/>
<circle cx="186.70" cy="139.60" r="0.9" fill="#222" stroke="none" stroke-width="0"/>
<circle cx="186.70" cy="143.20" r="1.5" fill="#fff" stroke="#333" stroke-width="0.8"/>
<text x="189.40" y="144.80" font-family="'Liberation Serif', serif" font-size="4.58" text-anchor="start" fill="#333" font-weight="normal" font-style="normal" stroke="#333" stroke-width="0.078" textLength="7.63" lengthAdjust="spacingAndGlyphs">DNA</text>
<line x1="186.70" y1="144.40" x2="186.70" y2="153.00" stroke="#2a2a2a" stroke-width="0.9"/>
<circle cx="186.70" cy="152.60" r="0.9" fill="#222" stroke="none" stroke-width="0"/>
<text x="187.10" y="159.50" font-family="'Liberation Serif', serif" font-size="4.99" text-anchor="middle" fill="#333" font-weight="normal" font-style="normal" stroke="#333" stroke-width="0.086" textLength="39.28" lengthAdjust="spacingAndGlyphs">Fruit ripening senescence</text>
<text x="238.30" y="5.60" font-family="'Liberation Sans', sans-serif" font-size="7.82" text-anchor="start" fill="#111" font-weight="bold" font-style="normal" textLength="5.65" lengthAdjust="spacingAndGlyphs">C</text>
<rect x="279.40" y="1.30" width="53.20" height="9.40" fill="#fff" stroke="#444" stroke-width="0.8" rx="2.0"/>
<text x="306.00" y="7.70" font-family="'Liberation Serif', serif" font-size="5.75" text-anchor="middle" fill="#333" font-weight="normal" font-style="normal" stroke="#333" stroke-width="0.099" textLength="50.55" lengthAdjust="spacingAndGlyphs">Brassinosteroid biosynthesis</text>
<line x1="306.00" y1="10.70" x2="306.00" y2="20.24" stroke="#2a2a2a" stroke-width="0.9"/>
<polygon points="306.00,21.80 304.40,19.20 307.60,19.20" fill="#2a2a2a"/>
<circle cx="306.00" cy="23.50" r="1.5" fill="#fff" stroke="#333" stroke-width="0.8"/>
<text x="309.00" y="25.00" font-family="'Liberation Serif', serif" font-size="5.29" text-anchor="start" fill="#333" font-weight="normal" font-style="normal" stroke="#333" stroke-width="0.091" textLength="25.34" lengthAdjust="spacingAndGlyphs">Brassinosteroid</text>
<line x1="306.00" y1="24.70" x2="306.00" y2="34.60" stroke="#2a2a2a" stroke-width="0.9"/>
<circle cx="306.00" cy="34.00" r="0.9" fill="#222" stroke="none" stroke-width="0"/>
<rect x="289.50" y="34.60" width="16.80" height="9.00" fill="#fff" stroke="#555" stroke-width="0.8" rx="0"/>
<text x="297.90" y="40.80" font-family="'Liberation Serif', serif" font-size="5.75" text-anchor="middle" fill="#333" font-weight="normal" font-style="normal" stroke="#333" stroke-width="0.099" textLength="11.56" lengthAdjust="spacingAndGlyphs">BAK1</text>
<rect x="306.30" y="34.60" width="15.40" height="9.00" fill="#F6B233" stroke="#6b5420" stroke-width="0.8" rx="0"/>
<text x="314.00" y="40.80" font-family="'Liberation Serif', serif" font-size="5.75" text-anchor="middle" fill="#333" font-weight="normal" font-style="normal" stroke="#333" stroke-width="0.099" textLength="9.59" lengthAdjust="spacingAndGlyphs">BRI1</text>
<rect x="328.00" y="34.90" width="16.40" height="8.70" fill="#fff" stroke="#555" stroke-width="0.8" rx="0"/>
<text x="336.20" y="40.95" font-family="'Liberation Serif', serif" font-size="5.75" text-anchor="middle" fill="#333" font-weight="normal" font-style="normal" stroke="#333" stroke-width="0.099" textLength="9.84" lengthAdjust="spacingAndGlyphs">BKI1</text>
<line x1="321.70" y1="39.20" x2="328.00" y2="39.20" stroke="#2a2a2a" stroke-width="0.9"/>
<circle cx="322.60" cy="39.20" r="0.9" fill="#222" stroke="none" stroke-width="0"/>
<circle cx="327.20" cy="39.20" r="0.9" fill="#222" stroke="none" stroke-width="0"/>
<rect x="263.00" y="35.60" width="5.72" height="7.10" fill="#8c9acc" stroke="#c8c8c8" stroke-width="0.3" rx="0"/>
<rect x="268.73" y="35.60" width="5.72" height="7.10" fill="#f17778" stroke="#c8c8c8" stroke-width="0.3" rx="0"/>
<rect x="274.45" y="35.60" width="5.72" height="7.10" fill="#8c9acc" stroke="#c8c8c8" stroke-width="0.3" rx="0"/>
<rect x="280.17" y="35.60" width="5.72" height="7.10" fill="#f7c2c4" stroke="#c8c8c8" stroke-width="0.3" rx="0"/>
<text x="274.45" y="34.60" font-family="'Liberation Serif', serif" font-size="3.68" text-anchor="middle" fill="#555" font-weight="normal" font-style="normal" stroke="#555" stroke-width="0.063" textLength="6.14" lengthAdjust="spacingAndGlyphs">BRI1</text>
<text x="261.80" y="40.61" font-family="'Liberation Serif', serif" font-size="4.94" text-anchor="end" fill="#333" font-weight="normal" font-style="normal" stroke="#333" stroke-width="0.085" textLength="19.32" lengthAdjust="spacingAndGlyphs">DG2C11975</text>
<line x1="306.00" y1="43.60" x2="306.00" y2="52.40" stroke="#2a2a2a" stroke-width="0.9"/>
<circle cx="306.00" cy="51.80" r="0.9" fill="#222" stroke="none" stroke-width="0"/>
<text x="309.00" y="48.60" font-family="'Liberation Serif', serif" font-size="3.45" text-anchor="start" fill="#444" font-weight="normal" font-style="normal" stroke="#444" stroke-width="0.059" textLength="2.98" lengthAdjust="spacingAndGlyphs">+P</text>
<rect x="297.50" y="52.40" width="16.20" height="8.10" fill="#F6B233" stroke="#6b5420" stroke-width="0.8" rx="0"/>
<text x="305.60" y="58.15" font-family="'Liberation Serif', serif" font-size="5.75" text-anchor="middle" fill="#333" font-weight="normal" font-style="normal" stroke="#333" stroke-width="0.099" textLength="8.61" lengthAdjust="spacingAndGlyphs">BSK</text>
<rect x="263.00" y="53.00" width="5.72" height="6.57" fill="#bcc3e1" stroke="#c8c8c8" stroke-width="0.3" rx="0"/>
<rect x="268.73" y="53.00" width="5.72" height="6.57" fill="#6579bc" stroke="#c8c8c8" stroke-width="0.3" rx="0"/>
<rect x="274.45" y="53.00" width="5.72" height="6.57" fill="#ef5d5e" stroke="#c8c8c8" stroke-width="0.3" rx="0"/>
<rect x="280.17" y="53.00" width="5.72" height="6.57" fill="#fbf9fb" stroke="#c8c8c8" stroke-width="0.3" rx="0"/>
<rect x="263.00" y="59.58" width="5.72" height="6.57" fill="#f6b3b4" stroke="#c8c8c8" stroke-width="0.3" rx="0"/>
<rect x="268.73" y="59.58" width="5.72" height="6.57" fill="#f28586" stroke="#c8c8c8" stroke-width="0.3" rx="0"/>
<rect x="274.45" y="59.58" width="5.72" height="6.57" fill="#d9dced" stroke="#c8c8c8" stroke-width="0.3" rx="0"/>
<rect x="280.17" y="59.58" width="5.72" height="6.57" fill="#4860b0" stroke="#c8c8c8" stroke-width="0.3" rx="0"/>
<rect x="263.00" y="66.15" width="5.72" height="6.57" fill="#cbd0e7" stroke="#c8c8c8" stroke-width="0.3" rx="0"/>
<rect x="268.73" y="66.15" width="5.72" height="6.57" fill="#ef5d5e" stroke="#c8c8c8" stroke-width="0.3" rx="0"/>
<rect x="274.45" y="66.15" width="5.72" height="6.57" fill="#9aa6d2" stroke="#c8c8c8" stroke-width="0.3" rx="0"/>
<rect x="280.17" y="66.15" width="5.72" height="6.57" fill="#9aa6d2" stroke="#c8c8c8" stroke-width="0.3" rx="0"/>
<rect x="263.00" y="72.72" width="5.72" height="6.57" fill="#9aa6d2" stroke="#c8c8c8" stroke-width="0.3" rx="0"/>
<rect x="268.73" y="72.72" width="5.72" height="6.57" fill="#ef5d5e" stroke="#c8c8c8" stroke-width="0.3" rx="0"/>
<rect x="274.45" y="72.72" width="5.72" height="6.57" fill="#8292c8" stroke="#c8c8c8" stroke-width="0.3" rx="0"/>
<rect x="280.17" y="72.72" width="5.72" height="6.57" fill="#fbf9fb" stroke="#c8c8c8" stroke-width="0.3" rx="0"/>
<text x="274.45" y="52.00" font-family="'Liberation Serif', serif" font-size="3.68" text-anchor="middle" fill="#555" font-weight="normal" font-style="normal" stroke="#555" stroke-width="0.063" textLength="5.51" lengthAdjust="spacingAndGlyphs">BSK</text>
<text x="261.80" y="57.75" font-family="'Liberation Serif', serif" font-size="4.94" text-anchor="end" fill="#333" font-weight="normal" font-style="normal" stroke="#333" stroke-width="0.085" textLength="19.46" lengthAdjust="spacingAndGlyphs">DG7C04217</text>
<text x="261.80" y="64.32" font-family="'Liberation Serif', serif" font-size="4.94" text-anchor="end" fill="#333" font-weight="normal" font-style="normal" stroke="#333" stroke-width="0.085" textLength="19.46" lengthAdjust="spacingAndGlyphs">DG6C02932</text>
<text x="261.80" y="70.90" font-family="'Liberation Serif', serif" font-size="4.94" text-anchor="end" fill="#333" font-weight="normal" font-style="normal" stroke="#333" stroke-width="0.085" textLength="19.46" lengthAdjust="spacingAndGlyphs">DG2C00076</text>
<text x="261.80" y="77.47" font-family="'Liberation Serif', serif" font-size="4.94" text-anchor="end" fill="#333" font-weight="normal" font-style="normal" stroke="#333" stroke-width="0.085" textLength="19.46" lengthAdjust="spacingAndGlyphs">DG1C07153</text>
<line x1="306.00" y1="60.50" x2="306.00" y2="69.90" stroke="#2a2a2a" stroke-width="0.9"/>
<circle cx="306.00" cy="69.20" r="0.9" fill="#222" stroke="none" stroke-width="0"/>
<rect x="297.10" y="69.90" width="16.90" height="8.60" fill="#fff" stroke="#555" stroke-width="0.8" rx="0"/>
<text x="305.55" y="75.90" font-family="'Liberation Serif', serif" font-size="5.75" text-anchor="middle" fill="#333" font-weight="normal" font-style="normal" stroke="#333" stroke-width="0.099" textLength="10.83" lengthAdjust="spacingAndGlyphs">BSU1</text>
<line x1="306.00" y1="78.50" x2="306.00" y2="86.50" stroke="#2a2a2a" stroke-width="0.9"/>
<rect x="297.10" y="86.50" width="16.90" height="8.90" fill="#fff" stroke="#555" stroke-width="0.8" rx="0"/>
<text x="305.55" y="92.65" font-family="'Liberation Serif', serif" font-size="5.75" text-anchor="middle" fill="#333" font-weight="normal" font-style="normal" stroke="#333" stroke-width="0.099" textLength="9.84" lengthAdjust="spacingAndGlyphs">BIN2</text>
<line x1="314.00" y1="91.00" x2="319.44" y2="91.00" stroke="#333" stroke-width="0.8"/>
<polygon points="321.00,91.00 318.40,92.60 318.40,89.40" fill="#222"/>
<text x="333.60" y="89.80" font-family="'Liberation Serif', serif" font-size="5.63" text-anchor="middle" fill="#333" font-weight="normal" font-style="normal" stroke="#333" stroke-width="0.097" textLength="21.45" lengthAdjust="spacingAndGlyphs">Proteasomal</text>
<text x="333.60" y="95.80" font-family="'Liberation Serif', serif" font-size="5.63" text-anchor="middle" fill="#333" font-weight="normal" font-style="normal" stroke="#333" stroke-width="0.097" textLength="20.48" lengthAdjust="spacingAndGlyphs">degradation</text>
<line x1="306.00" y1="95.40" x2="306.00" y2="103.00" stroke="#2a2a2a" stroke-width="0.9"/>
<text x="309.00" y="100.60" font-family="'Liberation Serif', serif" font-size="3.45" text-anchor="start" fill="#444" font-weight="normal" font-style="normal" stroke="#444" stroke-width="0.059" textLength="2.98" lengthAdjust="spacingAndGlyphs">+P</text>
<rect x="296.20" y="103.00" width="18.80" height="8.80" fill="#fff" stroke="#555" stroke-width="0.8" rx="0"/>
<text x="305.60" y="109.10" font-family="'Liberation Serif', serif" font-size="5.75" text-anchor="middle" fill="#333" font-weight="normal" font-style="normal" stroke="#333" stroke-width="0.099" textLength="14.27" lengthAdjust="spacingAndGlyphs">BZR1/2</text>
<line x1="306.00" y1="111.80" x2="306.00" y2="120.24" stroke="#2a2a2a" stroke-width="0.9"/>
<polygon points="306.00,121.80 304.40,119.20 307.60,119.20" fill="#2a2a2a"/>
<circle cx="305.80" cy="123.50" r="1.5" fill="#fff" stroke="#333" stroke-width="0.8"/>
<text x="309.20" y="125.00" font-family="'Liberation Serif', serif" font-size="5.29" text-anchor="start" fill="#333" font-weight="normal" font-style="normal" stroke="#333" stroke-width="0.091" textLength="8.83" lengthAdjust="spacingAndGlyphs">DNA</text>
<line x1="306.00" y1="124.70" x2="306.00" y2="135.60" stroke="#2a2a2a" stroke-width="0.9"/>
<circle cx="306.00" cy="134.90" r="0.9" fill="#222" stroke="none" stroke-width="0"/>
<line x1="308.80" y1="126.00" x2="322.68" y2="134.77" stroke="#333" stroke-width="0.8"/>
<polygon points="324.00,135.60 320.95,135.56 322.66,132.86" fill="#222"/>
<rect x="298.20" y="135.60" width="15.80" height="8.40" fill="#F6B233" stroke="#6b5420" stroke-width="0.8" rx="0"/>
<text x="306.10" y="141.50" font-family="'Liberation Serif', serif" font-size="5.75" text-anchor="middle" fill="#333" font-weight="normal" font-style="normal" stroke="#333" stroke-width="0.099" textLength="11.07" lengthAdjust="spacingAndGlyphs">TCH4</text>
<rect x="324.20" y="135.30" width="19.10" height="8.70" fill="#fff" stroke="#555" stroke-width="0.8" rx="0"/>
<text x="333.75" y="141.35" font-family="'Liberation Serif', serif" font-size="5.75" text-anchor="middle" fill="#333" font-weight="normal" font-style="normal" stroke="#333" stroke-width="0.099" textLength="14.52" lengthAdjust="spacingAndGlyphs">CYCD3</text>
<rect x="263.00" y="136.20" width="5.72" height="7.40" fill="#cbd0e7" stroke="#c8c8c8" stroke-width="0.3" rx="0"/>
<rect x="268.73" y="136.20" width="5.72" height="7.40" fill="#ef5d5e" stroke="#c8c8c8" stroke-width="0.3" rx="0"/>
<rect x="274.45" y="136.20" width="5.72" height="7.40" fill="#7486c2" stroke="#c8c8c8" stroke-width="0.3" rx="0"/>
<rect x="280.17" y="136.20" width="5.72" height="7.40" fill="#fbf9fb" stroke="#c8c8c8" stroke-width="0.3" rx="0"/>
<text x="261.80" y="141.36" font-family="'Liberation Serif', serif" font-size="4.94" text-anchor="end" fill="#333" font-weight="normal" font-style="normal" stroke="#333" stroke-width="0.085" textLength="19.46" lengthAdjust="spacingAndGlyphs">DG7C02902</text>
<line x1="306.00" y1="144.00" x2="306.00" y2="150.84" stroke="#2a2a2a" stroke-width="0.9"/>
<polygon points="306.00,152.40 304.40,149.80 307.60,149.80" fill="#2a2a2a"/>
<line x1="333.30" y1="144.00" x2="333.30" y2="150.84" stroke="#2a2a2a" stroke-width="0.9"/>
<polygon points="333.30,152.40 331.70,149.80 334.90,149.80" fill="#2a2a2a"/>
<text x="306.00" y="158.80" font-family="'Liberation Serif', serif" font-size="5.52" text-anchor="middle" fill="#333" font-weight="normal" font-style="normal" stroke="#333" stroke-width="0.095" textLength="26.09" lengthAdjust="spacingAndGlyphs">Cell elongation</text>
<text x="333.80" y="158.80" font-family="'Liberation Serif', serif" font-size="5.52" text-anchor="middle" fill="#333" font-weight="normal" font-style="normal" stroke="#333" stroke-width="0.095" textLength="21.84" lengthAdjust="spacingAndGlyphs">Cell division</text>
<text x="100.10" y="182.20" font-family="'Liberation Sans', sans-serif" font-size="7.34" text-anchor="start" fill="#111" font-weight="bold" font-style="normal" textLength="5.30" lengthAdjust="spacingAndGlyphs">D</text>
<rect x="129.20" y="176.00" width="53.30" height="9.20" fill="#fff" stroke="#444" stroke-width="0.8" rx="2.0"/>
<text x="155.85" y="182.23" font-family="'Liberation Serif', serif" font-size="5.18" text-anchor="middle" fill="#333" font-weight="normal" font-style="normal" stroke="#333" stroke-width="0.089" textLength="45.99" lengthAdjust="spacingAndGlyphs">α-Linolenic acid metabolism</text>
<line x1="155.70" y1="185.20" x2="155.70" y2="194.70" stroke="#2a2a2a" stroke-width="0.9"/>
<circle cx="155.70" cy="193.60" r="0.9" fill="#222" stroke="none" stroke-width="0"/>
<circle cx="155.70" cy="195.90" r="1.5" fill="#fff" stroke="#333" stroke-width="0.8"/>
<text x="158.80" y="197.60" font-family="'Liberation Serif', serif" font-size="5.18" text-anchor="start" fill="#333" font-weight="normal" font-style="normal" stroke="#333" stroke-width="0.089" textLength="22.50" lengthAdjust="spacingAndGlyphs">Jasmonic acid</text>
<line x1="155.70" y1="197.10" x2="155.70" y2="207.20" stroke="#2a2a2a" stroke-width="0.9"/>
<circle cx="155.70" cy="206.40" r="0.9" fill="#222" stroke="none" stroke-width="0"/>
<rect x="148.00" y="207.20" width="15.70" height="7.80" fill="#F6B233" stroke="#6b5420" stroke-width="0.8" rx="0"/>
<text x="155.85" y="212.56" font-family="'Liberation Serif', serif" font-size="4.64" text-anchor="middle" fill="#333" font-weight="normal" font-style="normal" stroke="#333" stroke-width="0.080" textLength="8.15" lengthAdjust="spacingAndGlyphs">JAR1</text>
<rect x="168.20" y="208.20" width="5.53" height="5.10" fill="#f8d0d1" stroke="#c8c8c8" stroke-width="0.3" rx="0"/>
<rect x="173.72" y="208.20" width="5.53" height="5.10" fill="#7486c2" stroke="#c8c8c8" stroke-width="0.3" rx="0"/>
<rect x="179.25" y="208.20" width="5.53" height="5.10" fill="#ef5d5e" stroke="#c8c8c8" stroke-width="0.3" rx="0"/>
<rect x="184.78" y="208.20" width="5.53" height="5.10" fill="#a9b3d9" stroke="#c8c8c8" stroke-width="0.3" rx="0"/>
<text x="179.25" y="207.20" font-family="'Liberation Serif', serif" font-size="3.46" text-anchor="middle" fill="#555" font-weight="normal" font-style="normal" stroke="#555" stroke-width="0.059" textLength="6.06" lengthAdjust="spacingAndGlyphs">JAR1</text>
<text x="191.80" y="212.21" font-family="'Liberation Serif', serif" font-size="4.64" text-anchor="start" fill="#333" font-weight="normal" font-style="normal" stroke="#333" stroke-width="0.080" textLength="18.28" lengthAdjust="spacingAndGlyphs">DG6C00651</text>
<line x1="155.70" y1="215.00" x2="155.70" y2="224.50" stroke="#2a2a2a" stroke-width="0.9"/>
<circle cx="155.70" cy="223.60" r="0.9" fill="#222" stroke="none" stroke-width="0"/>
<circle cx="155.70" cy="225.70" r="1.5" fill="#fff" stroke="#333" stroke-width="0.8"/>
<text x="158.80" y="227.30" font-family="'Liberation Serif', serif" font-size="5.18" text-anchor="start" fill="#333" font-weight="normal" font-style="normal" stroke="#333" stroke-width="0.089" textLength="9.98" lengthAdjust="spacingAndGlyphs">JA-Ile</text>
<line x1="155.70" y1="226.90" x2="155.70" y2="236.70" stroke="#2a2a2a" stroke-width="0.9"/>
<circle cx="155.70" cy="236.00" r="0.9" fill="#222" stroke="none" stroke-width="0"/>
<rect x="148.00" y="236.70" width="15.70" height="8.10" fill="#F6B233" stroke="#6b5420" stroke-width="0.8" rx="0"/>
<text x="155.85" y="242.21" font-family="'Liberation Serif', serif" font-size="4.64" text-anchor="middle" fill="#333" font-weight="normal" font-style="normal" stroke="#333" stroke-width="0.080" textLength="7.95" lengthAdjust="spacingAndGlyphs">COI1</text>
<rect x="121.20" y="232.70" width="5.47" height="5.70" fill="#fbf9fb" stroke="#c8c8c8" stroke-width="0.3" rx="0"/>
<rect x="126.67" y="232.70" width="5.47" height="5.70" fill="#ef5d5e" stroke="#c8c8c8" stroke-width="0.3" rx="0"/>
<rect x="132.15" y="232.70" width="5.47" height="5.70" fill="#4860b0" stroke="#c8c8c8" stroke-width="0.3" rx="0"/>
<rect x="137.62" y="232.70" width="5.47" height="5.70" fill="#cbd0e7" stroke="#c8c8c8" stroke-width="0.3" rx="0"/>
<rect x="121.20" y="238.40" width="5.47" height="5.70" fill="#cbd0e7" stroke="#c8c8c8" stroke-width="0.3" rx="0"/>
<rect x="126.67" y="238.40" width="5.47" height="5.70" fill="#9aa6d2" stroke="#c8c8c8" stroke-width="0.3" rx="0"/>
<rect x="132.15" y="238.40" width="5.47" height="5.70" fill="#ee5050" stroke="#c8c8c8" stroke-width="0.3" rx="0"/>
<rect x="137.62" y="238.40" width="5.47" height="5.70" fill="#a9b3d9" stroke="#c8c8c8" stroke-width="0.3" rx="0"/>
<text x="132.15" y="231.70" font-family="'Liberation Serif', serif" font-size="3.46" text-anchor="middle" fill="#555" font-weight="normal" font-style="normal" stroke="#555" stroke-width="0.059" textLength="5.91" lengthAdjust="spacingAndGlyphs">COI1</text>
<text x="120.00" y="237.01" font-family="'Liberation Serif', serif" font-size="4.64" text-anchor="end" fill="#333" font-weight="normal" font-style="normal" stroke="#333" stroke-width="0.080" textLength="18.28" lengthAdjust="spacingAndGlyphs">DG2C10702</text>
<text x="120.00" y="242.71" font-family="'Liberation Serif', serif" font-size="4.64" text-anchor="end" fill="#333" font-weight="normal" font-style="normal" stroke="#333" stroke-width="0.080" textLength="18.28" lengthAdjust="spacingAndGlyphs">DG6C01466</text>
<line x1="155.70" y1="244.80" x2="155.70" y2="252.20" stroke="#2a2a2a" stroke-width="0.9"/>
<text x="158.40" y="249.20" font-family="'Liberation Serif', serif" font-size="3.24" text-anchor="start" fill="#444" font-weight="normal" font-style="normal" stroke="#444" stroke-width="0.056" textLength="2.65" lengthAdjust="spacingAndGlyphs">+u</text>
<rect x="148.00" y="252.20" width="15.70" height="7.80" fill="#F6B233" stroke="#6b5420" stroke-width="0.8" rx="0"/>
<text x="155.85" y="257.56" font-family="'Liberation Serif', serif" font-size="4.64" text-anchor="middle" fill="#333" font-weight="normal" font-style="normal" stroke="#333" stroke-width="0.080" textLength="6.16" lengthAdjust="spacingAndGlyphs">JAZ</text>
<rect x="103.30" y="247.20" width="37.60" height="17.30" fill="#fff" stroke="#444" stroke-width="0.8" rx="3.0"/>
<text x="122.10" y="254.63" font-family="'Liberation Serif', serif" font-size="5.62" text-anchor="middle" fill="#333" font-weight="normal" font-style="normal" stroke="#333" stroke-width="0.096" textLength="33.51" lengthAdjust="spacingAndGlyphs">Ubiquitin mediated</text>
<text x="122.10" y="260.61" font-family="'Liberation Serif', serif" font-size="5.62" text-anchor="middle" fill="#333" font-weight="normal" font-style="normal" stroke="#333" stroke-width="0.096" textLength="18.98" lengthAdjust="spacingAndGlyphs">proteolysis</text>
<line x1="148.00" y1="256.20" x2="141.30" y2="256.20" stroke="#2a2a2a" stroke-width="0.9"/>
<circle cx="141.60" cy="256.20" r="0.9" fill="#222" stroke="none" stroke-width="0"/>
<line x1="155.70" y1="260.00" x2="155.70" y2="267.20" stroke="#2a2a2a" stroke-width="0.9"/>
<circle cx="155.70" cy="263.60" r="0.9" fill="#222" stroke="none" stroke-width="0"/>
<rect x="148.00" y="267.20" width="15.70" height="8.00" fill="#F6B233" stroke="#6b5420" stroke-width="0.8" rx="0"/>
<text x="155.85" y="272.66" font-family="'Liberation Serif', serif" font-size="4.64" text-anchor="middle" fill="#333" font-weight="normal" font-style="normal" stroke="#333" stroke-width="0.080" textLength="9.94" lengthAdjust="spacingAndGlyphs">MYC2</text>
<rect x="121.20" y="269.30" width="5.47" height="5.00" fill="#a9b3d9" stroke="#c8c8c8" stroke-width="0.3" rx="0"/>
<rect x="126.67" y="269.30" width="5.47" height="5.00" fill="#4860b0" stroke="#c8c8c8" stroke-width="0.3" rx="0"/>
<rect x="132.15" y="269.30" width="5.47" height="5.00" fill="#f39393" stroke="#c8c8c8" stroke-width="0.3" rx="0"/>
<rect x="137.62" y="269.30" width="5.47" height="5.00" fill="#f39393" stroke="#c8c8c8" stroke-width="0.3" rx="0"/>
<text x="132.15" y="268.30" font-family="'Liberation Serif', serif" font-size="3.46" text-anchor="middle" fill="#555" font-weight="normal" font-style="normal" stroke="#555" stroke-width="0.059" textLength="7.39" lengthAdjust="spacingAndGlyphs">MYC2</text>
<text x="120.00" y="273.26" font-family="'Liberation Serif', serif" font-size="4.64" text-anchor="end" fill="#333" font-weight="normal" font-style="normal" stroke="#333" stroke-width="0.080" textLength="18.28" lengthAdjust="spacingAndGlyphs">DG6C02596</text>
<rect x="168.20" y="236.30" width="5.53" height="5.53" fill="#4860b0" stroke="#c8c8c8" stroke-width="0.3" rx="0"/>
<rect x="173.72" y="236.30" width="5.53" height="5.53" fill="#ef5d5e" stroke="#c8c8c8" stroke-width="0.3" rx="0"/>
<rect x="179.25" y="236.30" width="5.53" height="5.53" fill="#cbd0e7" stroke="#c8c8c8" stroke-width="0.3" rx="0"/>
<rect x="184.78" y="236.30" width="5.53" height="5.53" fill="#f7c2c4" stroke="#c8c8c8" stroke-width="0.3" rx="0"/>
<rect x="168.20" y="241.83" width="5.53" height="5.53" fill="#fbf9fb" stroke="#c8c8c8" stroke-width="0.3" rx="0"/>
<rect x="173.72" y="241.83" width="5.53" height="5.53" fill="#4860b0" stroke="#c8c8c8" stroke-width="0.3" rx="0"/>
<rect x="179.25" y="241.83" width="5.53" height="5.53" fill="#f28586" stroke="#c8c8c8" stroke-width="0.3" rx="0"/>
<rect x="184.78" y="241.83" width="5.53" height="5.53" fill="#f8d0d1" stroke="#c8c8c8" stroke-width="0.3" rx="0"/>
<rect x="168.20" y="247.36" width="5.53" height="5.53" fill="#f9dedf" stroke="#c8c8c8" stroke-width="0.3" rx="0"/>
<rect x="173.72" y="247.36" width="5.53" height="5.53" fill="#4860b0" stroke="#c8c8c8" stroke-width="0.3" rx="0"/>
<rect x="179.25" y="247.36" width="5.53" height="5.53" fill="#f17778" stroke="#c8c8c8" stroke-width="0.3" rx="0"/>
<rect x="184.78" y="247.36" width="5.53" height="5.53" fill="#fbf9fb" stroke="#c8c8c8" stroke-width="0.3" rx="0"/>
<rect x="168.20" y="252.89" width="5.53" height="5.53" fill="#cbd0e7" stroke="#c8c8c8" stroke-width="0.3" rx="0"/>
<rect x="173.72" y="252.89" width="5.53" height="5.53" fill="#576db6" stroke="#c8c8c8" stroke-width="0.3" rx="0"/>
<rect x="179.25" y="252.89" width="5.53" height="5.53" fill="#f17778" stroke="#c8c8c8" stroke-width="0.3" rx="0"/>
<rect x="184.78" y="252.89" width="5.53" height="5.53" fill="#f7c2c4" stroke="#c8c8c8" stroke-width="0.3" rx="0"/>
<rect x="168.20" y="258.41" width="5.53" height="5.53" fill="#9aa6d2" stroke="#c8c8c8" stroke-width="0.3" rx="0"/>
<rect x="173.72" y="258.41" width="5.53" height="5.53" fill="#7486c2" stroke="#c8c8c8" stroke-width="0.3" rx="0"/>
<rect x="179.25" y="258.41" width="5.53" height="5.53" fill="#f5a5a6" stroke="#c8c8c8" stroke-width="0.3" rx="0"/>
<rect x="184.78" y="258.41" width="5.53" height="5.53" fill="#f39393" stroke="#c8c8c8" stroke-width="0.3" rx="0"/>
<rect x="168.20" y="263.94" width="5.53" height="5.53" fill="#9aa6d2" stroke="#c8c8c8" stroke-width="0.3" rx="0"/>
<rect x="173.72" y="263.94" width="5.53" height="5.53" fill="#8292c8" stroke="#c8c8c8" stroke-width="0.3" rx="0"/>
<rect x="179.25" y="263.94" width="5.53" height="5.53" fill="#f5a5a6" stroke="#c8c8c8" stroke-width="0.3" rx="0"/>
<rect x="184.78" y="263.94" width="5.53" height="5.53" fill="#f39393" stroke="#c8c8c8" stroke-width="0.3" rx="0"/>
<rect x="168.20" y="269.47" width="5.53" height="5.53" fill="#8292c8" stroke="#c8c8c8" stroke-width="0.3" rx="0"/>
<rect x="173.72" y="269.47" width="5.53" height="5.53" fill="#8c9acc" stroke="#c8c8c8" stroke-width="0.3" rx="0"/>
<rect x="179.25" y="269.47" width="5.53" height="5.53" fill="#f5a5a6" stroke="#c8c8c8" stroke-width="0.3" rx="0"/>
<rect x="184.78" y="269.47" width="5.53" height="5.53" fill="#f39393" stroke="#c8c8c8" stroke-width="0.3" rx="0"/>
<text x="179.25" y="235.30" font-family="'Liberation Serif', serif" font-size="3.46" text-anchor="middle" fill="#555" font-weight="normal" font-style="normal" stroke="#555" stroke-width="0.059" textLength="4.58" lengthAdjust="spacingAndGlyphs">JAZ</text>
<text x="191.80" y="240.53" font-family="'Liberation Serif', serif" font-size="4.64" text-anchor="start" fill="#333" font-weight="normal" font-style="normal" stroke="#333" stroke-width="0.080" textLength="18.28" lengthAdjust="spacingAndGlyphs">DG7C01389</text>
<text x="191.80" y="246.05" font-family="'Liberation Serif', serif" font-size="4.64" text-anchor="start" fill="#333" font-weight="normal" font-style="normal" stroke="#333" stroke-width="0.080" textLength="18.28" lengthAdjust="spacingAndGlyphs">DG3C04519</text>
<text x="191.80" y="251.58" font-family="'Liberation Serif', serif" font-size="4.64" text-anchor="start" fill="#333" font-weight="normal" font-style="normal" stroke="#333" stroke-width="0.080" textLength="18.28" lengthAdjust="spacingAndGlyphs">DG1C06671</text>
<text x="191.80" y="257.11" font-family="'Liberation Serif', serif" font-size="4.64" text-anchor="start" fill="#333" font-weight="normal" font-style="normal" stroke="#333" stroke-width="0.080" textLength="18.28" lengthAdjust="spacingAndGlyphs">DG1C04072</text>
<text x="191.80" y="262.64" font-family="'Liberation Serif', serif" font-size="4.64" text-anchor="start" fill="#333" font-weight="normal" font-style="normal" stroke="#333" stroke-width="0.080" textLength="18.15" lengthAdjust="spacingAndGlyphs">DG2C06118</text>
<text x="191.80" y="268.17" font-family="'Liberation Serif', serif" font-size="4.64" text-anchor="start" fill="#333" font-weight="normal" font-style="normal" stroke="#333" stroke-width="0.080" textLength="18.15" lengthAdjust="spacingAndGlyphs">DG2C06117</text>
<text x="191.80" y="273.70" font-family="'Liberation Serif', serif" font-size="4.64" text-anchor="start" fill="#333" font-weight="normal" font-style="normal" stroke="#333" stroke-width="0.080" textLength="18.28" lengthAdjust="spacingAndGlyphs">DG5C00872</text>
<line x1="156.00" y1="275.20" x2="156.00" y2="284.80" stroke="#2a2a2a" stroke-width="0.9"/>
<circle cx="156.00" cy="283.40" r="0.9" fill="#222" stroke="none" stroke-width="0"/>
<circle cx="156.10" cy="286.00" r="1.5" fill="#fff" stroke="#333" stroke-width="0.8"/>
<text x="158.80" y="287.60" font-family="'Liberation Serif', serif" font-size="4.97" text-anchor="start" fill="#333" font-weight="normal" font-style="normal" stroke="#333" stroke-width="0.085" textLength="8.29" lengthAdjust="spacingAndGlyphs">DNA</text>
<line x1="156.10" y1="287.20" x2="156.10" y2="295.84" stroke="#2a2a2a" stroke-width="0.9"/>
<polygon points="156.10,297.40 154.50,294.80 157.70,294.80" fill="#2a2a2a"/>
<rect x="147.10" y="297.40" width="17.70" height="8.10" fill="#fff" stroke="#555" stroke-width="0.8" rx="0"/>
<text x="155.95" y="302.91" font-family="'Liberation Serif', serif" font-size="4.64" text-anchor="middle" fill="#333" font-weight="normal" font-style="normal" stroke="#333" stroke-width="0.080" textLength="11.72" lengthAdjust="spacingAndGlyphs">ORCA3</text>
<line x1="147.10" y1="301.50" x2="141.86" y2="301.50" stroke="#333" stroke-width="0.8"/>
<polygon points="140.30,301.50 142.90,299.90 142.90,303.10" fill="#222"/>
<text x="125.90" y="299.60" font-family="'Liberation Serif', serif" font-size="4.97" text-anchor="middle" fill="#333" font-weight="normal" font-style="normal" stroke="#333" stroke-width="0.085" textLength="17.63" lengthAdjust="spacingAndGlyphs">Senescence</text>
<text x="125.90" y="305.40" font-family="'Liberation Serif', serif" font-size="4.97" text-anchor="middle" fill="#333" font-weight="normal" font-style="normal" stroke="#333" stroke-width="0.085" textLength="22.84" lengthAdjust="spacingAndGlyphs">stress response</text>
<rect x="129.20" y="306.20" width="53.70" height="10.00" fill="#fff" stroke="#444" stroke-width="0.8" rx="2.0"/>
<text x="156.05" y="313.04" font-family="'Liberation Serif', serif" font-size="5.83" text-anchor="middle" fill="#333" font-weight="normal" font-style="normal" stroke="#333" stroke-width="0.100" textLength="51.01" lengthAdjust="spacingAndGlyphs">Monoterpenoid biosynthesis</text>
<rect x="129.20" y="318.70" width="53.70" height="9.90" fill="#fff" stroke="#444" stroke-width="0.8" rx="2.0"/>
<text x="156.05" y="325.49" font-family="'Liberation Serif', serif" font-size="5.83" text-anchor="middle" fill="#333" font-weight="normal" font-style="normal" stroke="#333" stroke-width="0.100" textLength="50.39" lengthAdjust="spacingAndGlyphs">Indole alkaloid biosynthesis</text>
<text x="227.00" y="182.50" font-family="'Liberation Sans', sans-serif" font-size="8.50" text-anchor="start" fill="#111" font-weight="bold" font-style="normal" textLength="5.67" lengthAdjust="spacingAndGlyphs">E</text>
<rect x="260.40" y="176.40" width="53.90" height="11.10" fill="#fff" stroke="#444" stroke-width="0.8" rx="2.5"/>
<text x="287.35" y="183.75" font-family="'Liberation Serif', serif" font-size="6.62" text-anchor="middle" fill="#333" font-weight="normal" font-style="normal" stroke="#333" stroke-width="0.114" textLength="50.86" lengthAdjust="spacingAndGlyphs">Diterpenoid biosynthesis</text>
<line x1="287.50" y1="187.50" x2="287.50" y2="198.24" stroke="#2a2a2a" stroke-width="0.9"/>
<polygon points="287.50,199.80 285.90,197.20 289.10,197.20" fill="#2a2a2a"/>
<circle cx="287.50" cy="201.90" r="1.3" fill="#fff" stroke="#333" stroke-width="0.8"/>
<text x="291.50" y="203.60" font-family="'Liberation Serif', serif" font-size="6.25" text-anchor="start" fill="#333" font-weight="normal" font-style="normal" stroke="#333" stroke-width="0.107" textLength="21.92" lengthAdjust="spacingAndGlyphs">Gibberellin</text>
<line x1="287.50" y1="203.20" x2="287.50" y2="214.04" stroke="#2a2a2a" stroke-width="0.9"/>
<polygon points="287.50,215.60 285.90,213.00 289.10,213.00" fill="#2a2a2a"/>
<rect x="278.00" y="215.50" width="19.00" height="9.70" fill="#F6B233" stroke="#6b5420" stroke-width="0.8" rx="0"/>
<text x="287.50" y="222.02" font-family="'Liberation Serif', serif" font-size="6.12" text-anchor="middle" fill="#333" font-weight="normal" font-style="normal" stroke="#333" stroke-width="0.105" textLength="10.74" lengthAdjust="spacingAndGlyphs">GID1</text>
<rect x="299.80" y="216.80" width="6.55" height="7.20" fill="#4860b0" stroke="#c8c8c8" stroke-width="0.3" rx="0"/>
<rect x="306.35" y="216.80" width="6.55" height="7.20" fill="#4860b0" stroke="#c8c8c8" stroke-width="0.3" rx="0"/>
<rect x="312.90" y="216.80" width="6.55" height="7.20" fill="#9aa6d2" stroke="#c8c8c8" stroke-width="0.3" rx="0"/>
<rect x="319.45" y="216.80" width="6.55" height="7.20" fill="#f17778" stroke="#c8c8c8" stroke-width="0.3" rx="0"/>
<text x="312.90" y="215.80" font-family="'Liberation Serif', serif" font-size="4.00" text-anchor="middle" fill="#555" font-weight="normal" font-style="normal" stroke="#555" stroke-width="0.069" textLength="7.01" lengthAdjust="spacingAndGlyphs">GID1</text>
<text x="327.50" y="221.96" font-family="'Liberation Serif', serif" font-size="5.75" text-anchor="start" fill="#333" font-weight="normal" font-style="normal" stroke="#333" stroke-width="0.099" textLength="22.63" lengthAdjust="spacingAndGlyphs">DG7C03351</text>
<line x1="287.50" y1="225.20" x2="287.50" y2="233.84" stroke="#2a2a2a" stroke-width="0.9"/>
<polygon points="287.50,235.40 285.90,232.80 289.10,232.80" fill="#2a2a2a"/>
<rect x="276.80" y="235.40" width="21.50" height="9.50" fill="#F6B233" stroke="#6b5420" stroke-width="0.8" rx="0"/>
<text x="287.55" y="241.82" font-family="'Liberation Serif', serif" font-size="6.12" text-anchor="middle" fill="#333" font-weight="normal" font-style="normal" stroke="#333" stroke-width="0.105" textLength="15.45" lengthAdjust="spacingAndGlyphs">DELLA</text>
<rect x="223.60" y="227.90" width="45.10" height="21.50" fill="#fff" stroke="#444" stroke-width="0.8" rx="3.5"/>
<text x="246.15" y="237.47" font-family="'Liberation Serif', serif" font-size="6.25" text-anchor="middle" fill="#333" font-weight="normal" font-style="normal" stroke="#333" stroke-width="0.107" textLength="37.29" lengthAdjust="spacingAndGlyphs">Ubiquitin mediated</text>
<text x="246.15" y="243.22" font-family="'Liberation Serif', serif" font-size="6.25" text-anchor="middle" fill="#333" font-weight="normal" font-style="normal" stroke="#333" stroke-width="0.107" textLength="21.12" lengthAdjust="spacingAndGlyphs">proteolysis</text>
<line x1="276.80" y1="239.50" x2="269.10" y2="239.50" stroke="#2a2a2a" stroke-width="0.9"/>
<circle cx="269.40" cy="239.50" r="0.9" fill="#222" stroke="none" stroke-width="0"/>
<rect x="306.30" y="235.00" width="18.30" height="9.40" fill="#fff" stroke="#555" stroke-width="0.8" rx="0"/>
<text x="315.45" y="241.37" font-family="'Liberation Serif', serif" font-size="6.12" text-anchor="middle" fill="#333" font-weight="normal" font-style="normal" stroke="#333" stroke-width="0.105" textLength="10.74" lengthAdjust="spacingAndGlyphs">GID2</text>
<line x1="306.30" y1="239.50" x2="298.60" y2="239.50" stroke="#333" stroke-width="0.8"/>
<line x1="298.60" y1="238.10" x2="298.60" y2="240.90" stroke="#333" stroke-width="0.96"/>
<line x1="287.50" y1="244.90" x2="287.50" y2="254.40" stroke="#2a2a2a" stroke-width="0.9"/>
<text x="287.50" y="250.80" font-family="'Liberation Serif', serif" font-size="3.75" text-anchor="middle" fill="#555" font-weight="normal" font-style="normal" stroke="#555" stroke-width="0.064" textLength="1.63" lengthAdjust="spacingAndGlyphs">+</text>
<rect x="278.00" y="254.40" width="19.00" height="9.30" fill="#fff" stroke="#555" stroke-width="0.8" rx="0"/>
<text x="287.50" y="260.72" font-family="'Liberation Serif', serif" font-size="6.12" text-anchor="middle" fill="#333" font-weight="normal" font-style="normal" stroke="#333" stroke-width="0.105" textLength="5.50" lengthAdjust="spacingAndGlyphs">TF</text>
<rect x="299.70" y="255.70" width="6.58" height="6.60" fill="#4860b0" stroke="#c8c8c8" stroke-width="0.3" rx="0"/>
<rect x="306.27" y="255.70" width="6.58" height="6.60" fill="#f8d0d1" stroke="#c8c8c8" stroke-width="0.3" rx="0"/>
<rect x="312.85" y="255.70" width="6.58" height="6.60" fill="#4860b0" stroke="#c8c8c8" stroke-width="0.3" rx="0"/>
<rect x="319.43" y="255.70" width="6.58" height="6.60" fill="#f49798" stroke="#c8c8c8" stroke-width="0.3" rx="0"/>
<text x="312.85" y="254.70" font-family="'Liberation Serif', serif" font-size="4.00" text-anchor="middle" fill="#555" font-weight="normal" font-style="normal" stroke="#555" stroke-width="0.069" textLength="10.09" lengthAdjust="spacingAndGlyphs">DELLA</text>
<text x="327.50" y="260.56" font-family="'Liberation Serif', serif" font-size="5.75" text-anchor="start" fill="#333" font-weight="normal" font-style="normal" stroke="#333" stroke-width="0.099" textLength="22.63" lengthAdjust="spacingAndGlyphs">DG6C01774</text>
<line x1="287.50" y1="263.70" x2="287.50" y2="273.94" stroke="#2a2a2a" stroke-width="0.9"/>
<polygon points="287.50,275.50 285.90,272.90 289.10,272.90" fill="#2a2a2a"/>
<circle cx="287.50" cy="277.10" r="1.3" fill="#fff" stroke="#333" stroke-width="0.8"/>
<text x="291.30" y="279.20" font-family="'Liberation Serif', serif" font-size="6.25" text-anchor="start" fill="#333" font-weight="normal" font-style="normal" stroke="#333" stroke-width="0.107" textLength="10.43" lengthAdjust="spacingAndGlyphs">DNA</text>
<line x1="287.50" y1="278.60" x2="287.50" y2="289.14" stroke="#2a2a2a" stroke-width="0.9"/>
<polygon points="287.50,290.70 285.90,288.10 289.10,288.10" fill="#2a2a2a"/>
<text x="287.50" y="297.90" font-family="'Liberation Serif', serif" font-size="6.88" text-anchor="middle" fill="#333" font-weight="normal" font-style="normal" stroke="#333" stroke-width="0.118" textLength="27.20" lengthAdjust="spacingAndGlyphs">Stem growth</text>
<text x="287.50" y="304.90" font-family="'Liberation Serif', serif" font-size="6.88" text-anchor="middle" fill="#333" font-weight="normal" font-style="normal" stroke="#333" stroke-width="0.118" textLength="43.66" lengthAdjust="spacingAndGlyphs">induced germination</text>
<text x="0.00" y="311.60" font-family="'Liberation Sans', sans-serif" font-size="8.02" text-anchor="start" fill="#111" font-weight="bold" font-style="normal" textLength="4.90" lengthAdjust="spacingAndGlyphs">F</text>
<rect x="16.10" y="304.70" width="40.30" height="9.80" fill="#fff" stroke="#444" stroke-width="0.8" rx="2.0"/>
<text x="36.25" y="311.44" font-family="'Liberation Serif', serif" font-size="6.37" text-anchor="middle" fill="#333" font-weight="normal" font-style="normal" stroke="#333" stroke-width="0.109" textLength="38.02" lengthAdjust="spacingAndGlyphs">Zeatin biosynthesis</text>
<line x1="36.00" y1="314.50" x2="36.00" y2="325.50" stroke="#2a2a2a" stroke-width="0.9"/>
<circle cx="36.00" cy="324.40" r="0.9" fill="#222" stroke="none" stroke-width="0"/>
<circle cx="36.00" cy="326.80" r="1.5" fill="#fff" stroke="#333" stroke-width="0.8"/>
<text x="39.60" y="328.50" font-family="'Liberation Serif', serif" font-size="5.90" text-anchor="start" fill="#333" font-weight="normal" font-style="normal" stroke="#333" stroke-width="0.101" textLength="20.19" lengthAdjust="spacingAndGlyphs">Cytokinine</text>
<line x1="36.00" y1="328.00" x2="36.00" y2="338.44" stroke="#2a2a2a" stroke-width="0.9"/>
<polygon points="36.00,340.00 34.40,337.40 37.60,337.40" fill="#2a2a2a"/>
<rect x="27.90" y="340.00" width="17.50" height="9.00" fill="#F6B233" stroke="#6b5420" stroke-width="0.8" rx="0"/>
<text x="36.65" y="346.20" font-family="'Liberation Serif', serif" font-size="5.90" text-anchor="middle" fill="#333" font-weight="normal" font-style="normal" stroke="#333" stroke-width="0.101" textLength="11.11" lengthAdjust="spacingAndGlyphs">CRE1</text>
<rect x="49.00" y="341.00" width="6.05" height="6.20" fill="#f6b3b4" stroke="#c8c8c8" stroke-width="0.3" rx="0"/>
<rect x="55.05" y="341.00" width="6.05" height="6.20" fill="#f39393" stroke="#c8c8c8" stroke-width="0.3" rx="0"/>
<rect x="61.10" y="341.00" width="6.05" height="6.20" fill="#d9dced" stroke="#c8c8c8" stroke-width="0.3" rx="0"/>
<rect x="67.15" y="341.00" width="6.05" height="6.20" fill="#4860b0" stroke="#c8c8c8" stroke-width="0.3" rx="0"/>
<text x="61.10" y="340.00" font-family="'Liberation Serif', serif" font-size="3.78" text-anchor="middle" fill="#555" font-weight="normal" font-style="normal" stroke="#555" stroke-width="0.065" textLength="7.11" lengthAdjust="spacingAndGlyphs">CRE1</text>
<text x="74.70" y="345.66" font-family="'Liberation Serif', serif" font-size="5.43" text-anchor="start" fill="#333" font-weight="normal" font-style="normal" stroke="#333" stroke-width="0.093" textLength="21.05" lengthAdjust="spacingAndGlyphs">DG2C01118</text>
<line x1="36.00" y1="349.00" x2="36.00" y2="356.74" stroke="#2a2a2a" stroke-width="0.9"/>
<polygon points="36.00,358.30 34.40,355.70 37.60,355.70" fill="#2a2a2a"/>
<text x="39.20" y="354.40" font-family="'Liberation Serif', serif" font-size="3.78" text-anchor="start" fill="#444" font-weight="normal" font-style="normal" stroke="#444" stroke-width="0.065" textLength="3.26" lengthAdjust="spacingAndGlyphs">+P</text>
<rect x="27.90" y="358.30" width="17.70" height="9.80" fill="#fff" stroke="#555" stroke-width="0.8" rx="0"/>
<text x="36.75" y="365.04" font-family="'Liberation Serif', serif" font-size="6.37" text-anchor="middle" fill="#333" font-weight="normal" font-style="normal" stroke="#333" stroke-width="0.109" textLength="9.82" lengthAdjust="spacingAndGlyphs">AHP</text>
<line x1="36.00" y1="368.10" x2="36.00" y2="375.94" stroke="#2a2a2a" stroke-width="0.9"/>
<polygon points="36.00,377.50 34.40,374.90 37.60,374.90" fill="#2a2a2a"/>
<text x="39.20" y="373.00" font-family="'Liberation Serif', serif" font-size="3.78" text-anchor="start" fill="#444" font-weight="normal" font-style="normal" stroke="#444" stroke-width="0.065" textLength="3.26" lengthAdjust="spacingAndGlyphs">+P</text>
<rect x="27.50" y="377.50" width="18.80" height="9.40" fill="#F6B233" stroke="#6b5420" stroke-width="0.8" rx="0"/>
<text x="36.90" y="383.97" font-family="'Liberation Serif', serif" font-size="6.14" text-anchor="middle" fill="#333" font-weight="normal" font-style="normal" stroke="#333" stroke-width="0.105" textLength="14.44" lengthAdjust="spacingAndGlyphs">B-ARR</text>
<rect x="49.00" y="363.80" width="6.05" height="6.50" fill="#f7c2c4" stroke="#c8c8c8" stroke-width="0.3" rx="0"/>
<rect x="55.05" y="363.80" width="6.05" height="6.50" fill="#ef5d5e" stroke="#c8c8c8" stroke-width="0.3" rx="0"/>
<rect x="61.10" y="363.80" width="6.05" height="6.50" fill="#4860b0" stroke="#c8c8c8" stroke-width="0.3" rx="0"/>
<rect x="67.15" y="363.80" width="6.05" height="6.50" fill="#fbf9fb" stroke="#c8c8c8" stroke-width="0.3" rx="0"/>
<rect x="49.00" y="370.30" width="6.05" height="6.50" fill="#bcc3e1" stroke="#c8c8c8" stroke-width="0.3" rx="0"/>
<rect x="55.05" y="370.30" width="6.05" height="6.50" fill="#ef5d5e" stroke="#c8c8c8" stroke-width="0.3" rx="0"/>
<rect x="61.10" y="370.30" width="6.05" height="6.50" fill="#f9dedf" stroke="#c8c8c8" stroke-width="0.3" rx="0"/>
<rect x="67.15" y="370.30" width="6.05" height="6.50" fill="#576db6" stroke="#c8c8c8" stroke-width="0.3" rx="0"/>
<rect x="49.00" y="376.80" width="6.05" height="6.50" fill="#6579bc" stroke="#c8c8c8" stroke-width="0.3" rx="0"/>
<rect x="55.05" y="376.80" width="6.05" height="6.50" fill="#ef5d5e" stroke="#c8c8c8" stroke-width="0.3" rx="0"/>
<rect x="61.10" y="376.80" width="6.05" height="6.50" fill="#bcc3e1" stroke="#c8c8c8" stroke-width="0.3" rx="0"/>
<rect x="67.15" y="376.80" width="6.05" height="6.50" fill="#fbf9fb" stroke="#c8c8c8" stroke-width="0.3" rx="0"/>
<rect x="49.00" y="383.30" width="6.05" height="6.50" fill="#f7c2c4" stroke="#c8c8c8" stroke-width="0.3" rx="0"/>
<rect x="55.05" y="383.30" width="6.05" height="6.50" fill="#576db6" stroke="#c8c8c8" stroke-width="0.3" rx="0"/>
<rect x="61.10" y="383.30" width="6.05" height="6.50" fill="#f17778" stroke="#c8c8c8" stroke-width="0.3" rx="0"/>
<rect x="67.15" y="383.30" width="6.05" height="6.50" fill="#bcc3e1" stroke="#c8c8c8" stroke-width="0.3" rx="0"/>
<rect x="49.00" y="389.80" width="6.05" height="6.50" fill="#f28586" stroke="#c8c8c8" stroke-width="0.3" rx="0"/>
<rect x="55.05" y="389.80" width="6.05" height="6.50" fill="#f8d0d1" stroke="#c8c8c8" stroke-width="0.3" rx="0"/>
<rect x="61.10" y="389.80" width="6.05" height="6.50" fill="#f8d0d1" stroke="#c8c8c8" stroke-width="0.3" rx="0"/>
<rect x="67.15" y="389.80" width="6.05" height="6.50" fill="#4860b0" stroke="#c8c8c8" stroke-width="0.3" rx="0"/>
<text x="61.10" y="362.80" font-family="'Liberation Serif', serif" font-size="3.78" text-anchor="middle" fill="#555" font-weight="normal" font-style="normal" stroke="#555" stroke-width="0.065" textLength="8.89" lengthAdjust="spacingAndGlyphs">B-ARR</text>
<text x="74.70" y="368.61" font-family="'Liberation Serif', serif" font-size="5.43" text-anchor="start" fill="#333" font-weight="normal" font-style="normal" stroke="#333" stroke-width="0.093" textLength="21.36" lengthAdjust="spacingAndGlyphs">DG1C06314</text>
<text x="74.70" y="375.11" font-family="'Liberation Serif', serif" font-size="5.43" text-anchor="start" fill="#333" font-weight="normal" font-style="normal" stroke="#333" stroke-width="0.093" textLength="21.36" lengthAdjust="spacingAndGlyphs">DG7C03084</text>
<text x="74.70" y="381.61" font-family="'Liberation Serif', serif" font-size="5.43" text-anchor="start" fill="#333" font-weight="normal" font-style="normal" stroke="#333" stroke-width="0.093" textLength="21.36" lengthAdjust="spacingAndGlyphs">DG2C05326</text>
<text x="74.70" y="388.11" font-family="'Liberation Serif', serif" font-size="5.43" text-anchor="start" fill="#333" font-weight="normal" font-style="normal" stroke="#333" stroke-width="0.093" textLength="21.36" lengthAdjust="spacingAndGlyphs">DG2C00440</text>
<text x="74.70" y="394.61" font-family="'Liberation Serif', serif" font-size="5.43" text-anchor="start" fill="#333" font-weight="normal" font-style="normal" stroke="#333" stroke-width="0.093" textLength="21.36" lengthAdjust="spacingAndGlyphs">DG2C02515</text>
<polyline points="27.5,382.2 22.7,382.2 22.7,415.9 27.0,415.9" fill="none" stroke="#444" stroke-width="0.8"/>
<line x1="36.20" y1="386.90" x2="36.20" y2="396.44" stroke="#2a2a2a" stroke-width="0.9"/>
<polygon points="36.20,398.00 34.60,395.40 37.80,395.40" fill="#2a2a2a"/>
<circle cx="36.20" cy="399.40" r="1.2" fill="#fff" stroke="#333" stroke-width="0.8"/>
<text x="39.60" y="401.20" font-family="'Liberation Serif', serif" font-size="5.90" text-anchor="start" fill="#333" font-weight="normal" font-style="normal" stroke="#333" stroke-width="0.101" textLength="9.84" lengthAdjust="spacingAndGlyphs">DNA</text>
<line x1="36.20" y1="400.60" x2="36.20" y2="409.74" stroke="#2a2a2a" stroke-width="0.9"/>
<polygon points="36.20,411.30 34.60,408.70 37.80,408.70" fill="#2a2a2a"/>
<rect x="27.30" y="411.30" width="19.00" height="9.00" fill="#F6B233" stroke="#6b5420" stroke-width="0.8" rx="0"/>
<text x="36.80" y="417.57" font-family="'Liberation Serif', serif" font-size="6.14" text-anchor="middle" fill="#333" font-weight="normal" font-style="normal" stroke="#333" stroke-width="0.105" textLength="14.70" lengthAdjust="spacingAndGlyphs">A-ARR</text>
<rect x="49.00" y="410.00" width="6.07" height="6.75" fill="#d9dced" stroke="#c8c8c8" stroke-width="0.3" rx="0"/>
<rect x="55.08" y="410.00" width="6.07" height="6.75" fill="#4860b0" stroke="#c8c8c8" stroke-width="0.3" rx="0"/>
<rect x="61.15" y="410.00" width="6.07" height="6.75" fill="#ef5d5e" stroke="#c8c8c8" stroke-width="0.3" rx="0"/>
<rect x="67.22" y="410.00" width="6.07" height="6.75" fill="#fbf9fb" stroke="#c8c8c8" stroke-width="0.3" rx="0"/>
<rect x="49.00" y="416.75" width="6.07" height="6.75" fill="#f49798" stroke="#c8c8c8" stroke-width="0.3" rx="0"/>
<rect x="55.08" y="416.75" width="6.07" height="6.75" fill="#fbf9fb" stroke="#c8c8c8" stroke-width="0.3" rx="0"/>
<rect x="61.15" y="416.75" width="6.07" height="6.75" fill="#f5a5a6" stroke="#c8c8c8" stroke-width="0.3" rx="0"/>
<rect x="67.22" y="416.75" width="6.07" height="6.75" fill="#4860b0" stroke="#c8c8c8" stroke-width="0.3" rx="0"/>
<text x="61.15" y="409.00" font-family="'Liberation Serif', serif" font-size="3.78" text-anchor="middle" fill="#555" font-weight="normal" font-style="normal" stroke="#555" stroke-width="0.065" textLength="9.05" lengthAdjust="spacingAndGlyphs">A-ARR</text>
<text x="74.80" y="414.94" font-family="'Liberation Serif', serif" font-size="5.43" text-anchor="start" fill="#333" font-weight="normal" font-style="normal" stroke="#333" stroke-width="0.093" textLength="21.36" lengthAdjust="spacingAndGlyphs">DG1C04466</text>
<text x="74.80" y="421.69" font-family="'Liberation Serif', serif" font-size="5.43" text-anchor="start" fill="#333" font-weight="normal" font-style="normal" stroke="#333" stroke-width="0.093" textLength="21.36" lengthAdjust="spacingAndGlyphs">DG1C06978</text>
<line x1="36.60" y1="420.30" x2="36.60" y2="428.94" stroke="#2a2a2a" stroke-width="0.9"/>
<polygon points="36.60,430.50 35.00,427.90 38.20,427.90" fill="#2a2a2a"/>
<text x="36.30" y="437.40" font-family="'Liberation Serif', serif" font-size="6.14" text-anchor="middle" fill="#333" font-weight="normal" font-style="normal" stroke="#333" stroke-width="0.105" textLength="24.28" lengthAdjust="spacingAndGlyphs">Cell division</text>
<text x="36.50" y="443.60" font-family="'Liberation Serif', serif" font-size="6.14" text-anchor="middle" fill="#333" font-weight="normal" font-style="normal" stroke="#333" stroke-width="0.105" textLength="28.48" lengthAdjust="spacingAndGlyphs">shoot initiation</text>
<text x="107.00" y="353.90" font-family="'Liberation Sans', sans-serif" font-size="8.70" text-anchor="start" fill="#111" font-weight="bold" font-style="normal" textLength="6.77" lengthAdjust="spacingAndGlyphs">G</text>
<rect x="117.50" y="347.10" width="57.70" height="8.50" fill="#fff" stroke="#444" stroke-width="0.8" rx="2.0"/>
<text x="146.35" y="353.12" font-family="'Liberation Serif', serif" font-size="6.66" text-anchor="middle" fill="#333" font-weight="normal" font-style="normal" stroke="#333" stroke-width="0.114" textLength="54.23" lengthAdjust="spacingAndGlyphs">Phenylalanine metabolism</text>
<line x1="146.40" y1="355.60" x2="146.40" y2="365.60" stroke="#2a2a2a" stroke-width="0.9"/>
<circle cx="146.40" cy="364.60" r="0.9" fill="#222" stroke="none" stroke-width="0"/>
<text x="148.40" y="361.60" font-family="'Liberation Serif', serif" font-size="6.40" text-anchor="start" fill="#333" font-weight="normal" font-style="normal" stroke="#333" stroke-width="0.110" textLength="26.68" lengthAdjust="spacingAndGlyphs">Salicylic acid</text>
<circle cx="146.40" cy="366.90" r="1.5" fill="#fff" stroke="#333" stroke-width="0.8"/>
<line x1="146.40" y1="368.10" x2="146.40" y2="376.04" stroke="#2a2a2a" stroke-width="0.9"/>
<polygon points="146.40,377.60 144.80,375.00 148.00,375.00" fill="#2a2a2a"/>
<rect x="136.80" y="377.70" width="18.90" height="7.40" fill="#F6B233" stroke="#6b5420" stroke-width="0.8" rx="0"/>
<text x="146.25" y="383.10" font-family="'Liberation Serif', serif" font-size="6.40" text-anchor="middle" fill="#333" font-weight="normal" font-style="normal" stroke="#333" stroke-width="0.110" textLength="12.05" lengthAdjust="spacingAndGlyphs">NPR1</text>
<rect x="164.30" y="366.60" width="6.72" height="6.50" fill="#cbd0e7" stroke="#c8c8c8" stroke-width="0.3" rx="0"/>
<rect x="171.03" y="366.60" width="6.72" height="6.50" fill="#7486c2" stroke="#c8c8c8" stroke-width="0.3" rx="0"/>
<rect x="177.75" y="366.60" width="6.72" height="6.50" fill="#ef5d5e" stroke="#c8c8c8" stroke-width="0.3" rx="0"/>
<rect x="184.47" y="366.60" width="6.72" height="6.50" fill="#fbf9fb" stroke="#c8c8c8" stroke-width="0.3" rx="0"/>
<text x="177.75" y="365.60" font-family="'Liberation Serif', serif" font-size="4.10" text-anchor="middle" fill="#555" font-weight="normal" font-style="normal" stroke="#555" stroke-width="0.070" textLength="7.71" lengthAdjust="spacingAndGlyphs">NPR1</text>
<text x="192.70" y="371.41" font-family="'Liberation Serif', serif" font-size="5.89" text-anchor="start" fill="#333" font-weight="normal" font-style="normal" stroke="#333" stroke-width="0.101" textLength="23.17" lengthAdjust="spacingAndGlyphs">DG3C03339</text>
<line x1="146.20" y1="385.10" x2="146.20" y2="391.64" stroke="#2a2a2a" stroke-width="0.9"/>
<polygon points="146.20,393.20 144.60,390.60 147.80,390.60" fill="#2a2a2a"/>
<rect x="136.80" y="393.20" width="18.90" height="7.40" fill="#F6B233" stroke="#6b5420" stroke-width="0.8" rx="0"/>
<text x="146.25" y="398.60" font-family="'Liberation Serif', serif" font-size="6.40" text-anchor="middle" fill="#333" font-weight="normal" font-style="normal" stroke="#333" stroke-width="0.110" textLength="10.13" lengthAdjust="spacingAndGlyphs">TGA</text>
<rect x="164.30" y="378.90" width="6.72" height="6.15" fill="#9aa6d2" stroke="#c8c8c8" stroke-width="0.3" rx="0"/>
<rect x="171.03" y="378.90" width="6.72" height="6.15" fill="#9aa6d2" stroke="#c8c8c8" stroke-width="0.3" rx="0"/>
<rect x="177.75" y="378.90" width="6.72" height="6.15" fill="#ef5d5e" stroke="#c8c8c8" stroke-width="0.3" rx="0"/>
<rect x="184.47" y="378.90" width="6.72" height="6.15" fill="#f6b3b4" stroke="#c8c8c8" stroke-width="0.3" rx="0"/>
<rect x="164.30" y="385.05" width="6.72" height="6.15" fill="#9aa6d2" stroke="#c8c8c8" stroke-width="0.3" rx="0"/>
<rect x="171.03" y="385.05" width="6.72" height="6.15" fill="#7486c2" stroke="#c8c8c8" stroke-width="0.3" rx="0"/>
<rect x="177.75" y="385.05" width="6.72" height="6.15" fill="#f17778" stroke="#c8c8c8" stroke-width="0.3" rx="0"/>
<rect x="184.47" y="385.05" width="6.72" height="6.15" fill="#f5a5a6" stroke="#c8c8c8" stroke-width="0.3" rx="0"/>
<rect x="164.30" y="391.20" width="6.72" height="6.15" fill="#bcc3e1" stroke="#c8c8c8" stroke-width="0.3" rx="0"/>
<rect x="171.03" y="391.20" width="6.72" height="6.15" fill="#4860b0" stroke="#c8c8c8" stroke-width="0.3" rx="0"/>
<rect x="177.75" y="391.20" width="6.72" height="6.15" fill="#f39393" stroke="#c8c8c8" stroke-width="0.3" rx="0"/>
<rect x="184.47" y="391.20" width="6.72" height="6.15" fill="#f39393" stroke="#c8c8c8" stroke-width="0.3" rx="0"/>
<rect x="164.30" y="397.35" width="6.72" height="6.15" fill="#7486c2" stroke="#c8c8c8" stroke-width="0.3" rx="0"/>
<rect x="171.03" y="397.35" width="6.72" height="6.15" fill="#9aa6d2" stroke="#c8c8c8" stroke-width="0.3" rx="0"/>
<rect x="177.75" y="397.35" width="6.72" height="6.15" fill="#f39393" stroke="#c8c8c8" stroke-width="0.3" rx="0"/>
<rect x="184.47" y="397.35" width="6.72" height="6.15" fill="#f28586" stroke="#c8c8c8" stroke-width="0.3" rx="0"/>
<rect x="164.30" y="403.50" width="6.72" height="6.15" fill="#7486c2" stroke="#c8c8c8" stroke-width="0.3" rx="0"/>
<rect x="171.03" y="403.50" width="6.72" height="6.15" fill="#f8d0d1" stroke="#c8c8c8" stroke-width="0.3" rx="0"/>
<rect x="177.75" y="403.50" width="6.72" height="6.15" fill="#a9b3d9" stroke="#c8c8c8" stroke-width="0.3" rx="0"/>
<rect x="184.47" y="403.50" width="6.72" height="6.15" fill="#ef5d5e" stroke="#c8c8c8" stroke-width="0.3" rx="0"/>
<rect x="164.30" y="409.65" width="6.72" height="6.15" fill="#f39393" stroke="#c8c8c8" stroke-width="0.3" rx="0"/>
<rect x="171.03" y="409.65" width="6.72" height="6.15" fill="#4860b0" stroke="#c8c8c8" stroke-width="0.3" rx="0"/>
<rect x="177.75" y="409.65" width="6.72" height="6.15" fill="#bcc3e1" stroke="#c8c8c8" stroke-width="0.3" rx="0"/>
<rect x="184.47" y="409.65" width="6.72" height="6.15" fill="#f39393" stroke="#c8c8c8" stroke-width="0.3" rx="0"/>
<text x="177.75" y="377.90" font-family="'Liberation Serif', serif" font-size="4.10" text-anchor="middle" fill="#555" font-weight="normal" font-style="normal" stroke="#555" stroke-width="0.070" textLength="6.48" lengthAdjust="spacingAndGlyphs">TGA</text>
<text x="192.70" y="383.54" font-family="'Liberation Serif', serif" font-size="5.89" text-anchor="start" fill="#333" font-weight="normal" font-style="normal" stroke="#333" stroke-width="0.101" textLength="23.17" lengthAdjust="spacingAndGlyphs">DG4C02771</text>
<text x="192.70" y="389.69" font-family="'Liberation Serif', serif" font-size="5.89" text-anchor="start" fill="#333" font-weight="normal" font-style="normal" stroke="#333" stroke-width="0.101" textLength="23.17" lengthAdjust="spacingAndGlyphs">DG3C03340</text>
<text x="192.70" y="395.84" font-family="'Liberation Serif', serif" font-size="5.89" text-anchor="start" fill="#333" font-weight="normal" font-style="normal" stroke="#333" stroke-width="0.101" textLength="23.17" lengthAdjust="spacingAndGlyphs">DG4C04702</text>
<text x="192.70" y="401.99" font-family="'Liberation Serif', serif" font-size="5.89" text-anchor="start" fill="#333" font-weight="normal" font-style="normal" stroke="#333" stroke-width="0.101" textLength="23.17" lengthAdjust="spacingAndGlyphs">DG5C04762</text>
<text x="192.70" y="408.14" font-family="'Liberation Serif', serif" font-size="5.89" text-anchor="start" fill="#333" font-weight="normal" font-style="normal" stroke="#333" stroke-width="0.101" textLength="23.17" lengthAdjust="spacingAndGlyphs">DG6C01437</text>
<text x="192.70" y="414.29" font-family="'Liberation Serif', serif" font-size="5.89" text-anchor="start" fill="#333" font-weight="normal" font-style="normal" stroke="#333" stroke-width="0.101" textLength="23.17" lengthAdjust="spacingAndGlyphs">DG5C02280</text>
<line x1="146.00" y1="400.60" x2="146.00" y2="408.24" stroke="#2a2a2a" stroke-width="0.9"/>
<polygon points="146.00,409.80 144.40,407.20 147.60,407.20" fill="#2a2a2a"/>
<circle cx="146.00" cy="411.00" r="1.2" fill="#fff" stroke="#333" stroke-width="0.8"/>
<text x="150.20" y="412.80" font-family="'Liberation Serif', serif" font-size="6.40" text-anchor="start" fill="#333" font-weight="normal" font-style="normal" stroke="#333" stroke-width="0.110" textLength="10.68" lengthAdjust="spacingAndGlyphs">DNA</text>
<line x1="146.00" y1="412.20" x2="146.00" y2="419.74" stroke="#2a2a2a" stroke-width="0.9"/>
<polygon points="146.00,421.30 144.40,418.70 147.60,418.70" fill="#2a2a2a"/>
<rect x="136.80" y="421.30" width="18.90" height="7.60" fill="#F6B233" stroke="#6b5420" stroke-width="0.8" rx="0"/>
<text x="146.25" y="426.80" font-family="'Liberation Serif', serif" font-size="6.40" text-anchor="middle" fill="#333" font-weight="normal" font-style="normal" stroke="#333" stroke-width="0.110" textLength="10.13" lengthAdjust="spacingAndGlyphs">PR-1</text>
<rect x="164.30" y="421.60" width="6.72" height="7.30" fill="#f9dedf" stroke="#c8c8c8" stroke-width="0.3" rx="0"/>
<rect x="171.03" y="421.60" width="6.72" height="7.30" fill="#9aa6d2" stroke="#c8c8c8" stroke-width="0.3" rx="0"/>
<rect x="177.75" y="421.60" width="6.72" height="7.30" fill="#ef5d5e" stroke="#c8c8c8" stroke-width="0.3" rx="0"/>
<rect x="184.47" y="421.60" width="6.72" height="7.30" fill="#9aa6d2" stroke="#c8c8c8" stroke-width="0.3" rx="0"/>
<text x="177.75" y="420.60" font-family="'Liberation Serif', serif" font-size="4.10" text-anchor="middle" fill="#555" font-weight="normal" font-style="normal" stroke="#555" stroke-width="0.070" textLength="6.49" lengthAdjust="spacingAndGlyphs">PR-1</text>
<text x="192.70" y="426.81" font-family="'Liberation Serif', serif" font-size="5.89" text-anchor="start" fill="#333" font-weight="normal" font-style="normal" stroke="#333" stroke-width="0.101" textLength="23.17" lengthAdjust="spacingAndGlyphs">DG4C06428</text>
<line x1="146.00" y1="428.90" x2="146.00" y2="435.44" stroke="#2a2a2a" stroke-width="0.9"/>
<polygon points="146.00,437.00 144.40,434.40 147.60,434.40" fill="#2a2a2a"/>
<text x="146.30" y="443.00" font-family="'Liberation Serif', serif" font-size="6.40" text-anchor="middle" fill="#333" font-weight="normal" font-style="normal" stroke="#333" stroke-width="0.110" textLength="35.98" lengthAdjust="spacingAndGlyphs">Disease resistance</text>
<text x="229.40" y="332.50" font-family="'Liberation Sans', sans-serif" font-size="8.02" text-anchor="start" fill="#111" font-weight="bold" font-style="normal" textLength="5.79" lengthAdjust="spacingAndGlyphs">H</text>
<rect x="266.20" y="326.50" width="47.10" height="8.80" fill="#fff" stroke="#444" stroke-width="0.8" rx="2.0"/>
<text x="289.75" y="332.60" font-family="'Liberation Serif', serif" font-size="5.90" text-anchor="middle" fill="#333" font-weight="normal" font-style="normal" stroke="#333" stroke-width="0.101" textLength="43.79" lengthAdjust="spacingAndGlyphs">Carotenoid biosynthesis</text>
<line x1="289.50" y1="335.30" x2="289.50" y2="345.30" stroke="#2a2a2a" stroke-width="0.9"/>
<circle cx="289.50" cy="344.20" r="0.9" fill="#222" stroke="none" stroke-width="0"/>
<circle cx="289.50" cy="346.50" r="1.2" fill="#fff" stroke="#333" stroke-width="0.8"/>
<text x="292.70" y="348.20" font-family="'Liberation Serif', serif" font-size="5.90" text-anchor="start" fill="#333" font-weight="normal" font-style="normal" stroke="#333" stroke-width="0.101" textLength="24.35" lengthAdjust="spacingAndGlyphs">Abscisic acid</text>
<line x1="289.50" y1="347.70" x2="289.50" y2="355.44" stroke="#2a2a2a" stroke-width="0.9"/>
<polygon points="289.50,357.00 287.90,354.40 291.10,354.40" fill="#2a2a2a"/>
<rect x="278.10" y="357.00" width="22.60" height="7.30" fill="#F6B233" stroke="#6b5420" stroke-width="0.8" rx="0"/>
<text x="289.40" y="362.42" font-family="'Liberation Serif', serif" font-size="6.14" text-anchor="middle" fill="#333" font-weight="normal" font-style="normal" stroke="#333" stroke-width="0.105" textLength="19.43" lengthAdjust="spacingAndGlyphs">PYR/PYL</text>
<line x1="289.50" y1="364.30" x2="289.50" y2="372.30" stroke="#2a2a2a" stroke-width="0.9"/>
<circle cx="289.50" cy="371.60" r="0.9" fill="#222" stroke="none" stroke-width="0"/>
<rect x="281.00" y="372.30" width="16.80" height="7.30" fill="#F6B233" stroke="#6b5420" stroke-width="0.8" rx="0"/>
<text x="289.40" y="377.72" font-family="'Liberation Serif', serif" font-size="6.14" text-anchor="middle" fill="#333" font-weight="normal" font-style="normal" stroke="#333" stroke-width="0.105" textLength="10.77" lengthAdjust="spacingAndGlyphs">PP2C</text>
<line x1="289.50" y1="379.60" x2="289.50" y2="387.20" stroke="#2a2a2a" stroke-width="0.9"/>
<text x="293.00" y="384.00" font-family="'Liberation Serif', serif" font-size="3.54" text-anchor="start" fill="#444" font-weight="normal" font-style="normal" stroke="#444" stroke-width="0.061" textLength="3.05" lengthAdjust="spacingAndGlyphs">+P</text>
<rect x="280.70" y="387.20" width="17.30" height="7.50" fill="#F6B233" stroke="#6b5420" stroke-width="0.8" rx="0"/>
<text x="289.35" y="392.72" font-family="'Liberation Serif', serif" font-size="6.14" text-anchor="middle" fill="#333" font-weight="normal" font-style="normal" stroke="#333" stroke-width="0.105" textLength="13.92" lengthAdjust="spacingAndGlyphs">SnRK2</text>
<line x1="289.50" y1="394.70" x2="289.50" y2="401.64" stroke="#2a2a2a" stroke-width="0.9"/>
<polygon points="289.50,403.20 287.90,400.60 291.10,400.60" fill="#2a2a2a"/>
<rect x="281.20" y="403.20" width="16.50" height="7.50" fill="#F6B233" stroke="#6b5420" stroke-width="0.8" rx="0"/>
<text x="289.45" y="408.72" font-family="'Liberation Serif', serif" font-size="6.14" text-anchor="middle" fill="#333" font-weight="normal" font-style="normal" stroke="#333" stroke-width="0.105" textLength="9.19" lengthAdjust="spacingAndGlyphs">ABF</text>
<line x1="289.30" y1="410.70" x2="289.30" y2="418.44" stroke="#2a2a2a" stroke-width="0.9"/>
<polygon points="289.30,420.00 287.70,417.40 290.90,417.40" fill="#2a2a2a"/>
<circle cx="289.30" cy="421.20" r="1.2" fill="#fff" stroke="#333" stroke-width="0.8"/>
<text x="292.90" y="423.00" font-family="'Liberation Serif', serif" font-size="5.90" text-anchor="start" fill="#333" font-weight="normal" font-style="normal" stroke="#333" stroke-width="0.101" textLength="9.84" lengthAdjust="spacingAndGlyphs">DNA</text>
<line x1="289.30" y1="422.40" x2="289.30" y2="430.14" stroke="#2a2a2a" stroke-width="0.9"/>
<polygon points="289.30,431.70 287.70,429.10 290.90,429.10" fill="#2a2a2a"/>
<text x="289.50" y="438.40" font-family="'Liberation Serif', serif" font-size="5.90" text-anchor="middle" fill="#333" font-weight="normal" font-style="normal" stroke="#333" stroke-width="0.101" textLength="30.41" lengthAdjust="spacingAndGlyphs">Stomatal closure</text>
<text x="289.50" y="443.60" font-family="'Liberation Serif', serif" font-size="5.90" text-anchor="middle" fill="#333" font-weight="normal" font-style="normal" stroke="#333" stroke-width="0.101" textLength="27.37" lengthAdjust="spacingAndGlyphs">seed dormancy</text>
<rect x="252.00" y="345.40" width="5.75" height="6.20" fill="#9aa6d2" stroke="#c8c8c8" stroke-width="0.3" rx="0"/>
<rect x="257.75" y="345.40" width="5.75" height="6.20" fill="#7486c2" stroke="#c8c8c8" stroke-width="0.3" rx="0"/>
<rect x="263.50" y="345.40" width="5.75" height="6.20" fill="#f28586" stroke="#c8c8c8" stroke-width="0.3" rx="0"/>
<rect x="269.25" y="345.40" width="5.75" height="6.20" fill="#f49798" stroke="#c8c8c8" stroke-width="0.3" rx="0"/>
<rect x="252.00" y="351.60" width="5.75" height="6.20" fill="#9aa6d2" stroke="#c8c8c8" stroke-width="0.3" rx="0"/>
<rect x="257.75" y="351.60" width="5.75" height="6.20" fill="#8292c8" stroke="#c8c8c8" stroke-width="0.3" rx="0"/>
<rect x="263.50" y="351.60" width="5.75" height="6.20" fill="#f17778" stroke="#c8c8c8" stroke-width="0.3" rx="0"/>
<rect x="269.25" y="351.60" width="5.75" height="6.20" fill="#f5a5a6" stroke="#c8c8c8" stroke-width="0.3" rx="0"/>
<rect x="252.00" y="357.80" width="5.75" height="6.20" fill="#6579bc" stroke="#c8c8c8" stroke-width="0.3" rx="0"/>
<rect x="257.75" y="357.80" width="5.75" height="6.20" fill="#9aa6d2" stroke="#c8c8c8" stroke-width="0.3" rx="0"/>
<rect x="263.50" y="357.80" width="5.75" height="6.20" fill="#f49798" stroke="#c8c8c8" stroke-width="0.3" rx="0"/>
<rect x="269.25" y="357.80" width="5.75" height="6.20" fill="#f28586" stroke="#c8c8c8" stroke-width="0.3" rx="0"/>
<rect x="252.00" y="364.00" width="5.75" height="6.20" fill="#8c9acc" stroke="#c8c8c8" stroke-width="0.3" rx="0"/>
<rect x="257.75" y="364.00" width="5.75" height="6.20" fill="#8292c8" stroke="#c8c8c8" stroke-width="0.3" rx="0"/>
<rect x="263.50" y="364.00" width="5.75" height="6.20" fill="#f49798" stroke="#c8c8c8" stroke-width="0.3" rx="0"/>
<rect x="269.25" y="364.00" width="5.75" height="6.20" fill="#f28586" stroke="#c8c8c8" stroke-width="0.3" rx="0"/>
<rect x="252.00" y="370.20" width="5.75" height="6.20" fill="#8292c8" stroke="#c8c8c8" stroke-width="0.3" rx="0"/>
<rect x="257.75" y="370.20" width="5.75" height="6.20" fill="#9aa6d2" stroke="#c8c8c8" stroke-width="0.3" rx="0"/>
<rect x="263.50" y="370.20" width="5.75" height="6.20" fill="#f49798" stroke="#c8c8c8" stroke-width="0.3" rx="0"/>
<rect x="269.25" y="370.20" width="5.75" height="6.20" fill="#f39393" stroke="#c8c8c8" stroke-width="0.3" rx="0"/>
<rect x="252.00" y="376.40" width="5.75" height="6.20" fill="#f5a5a6" stroke="#c8c8c8" stroke-width="0.3" rx="0"/>
<rect x="257.75" y="376.40" width="5.75" height="6.20" fill="#4860b0" stroke="#c8c8c8" stroke-width="0.3" rx="0"/>
<rect x="263.50" y="376.40" width="5.75" height="6.20" fill="#f49798" stroke="#c8c8c8" stroke-width="0.3" rx="0"/>
<rect x="269.25" y="376.40" width="5.75" height="6.20" fill="#fbf9fb" stroke="#c8c8c8" stroke-width="0.3" rx="0"/>
<rect x="252.00" y="382.60" width="5.75" height="6.20" fill="#d9dced" stroke="#c8c8c8" stroke-width="0.3" rx="0"/>
<rect x="257.75" y="382.60" width="5.75" height="6.20" fill="#4860b0" stroke="#c8c8c8" stroke-width="0.3" rx="0"/>
<rect x="263.50" y="382.60" width="5.75" height="6.20" fill="#f5a5a6" stroke="#c8c8c8" stroke-width="0.3" rx="0"/>
<rect x="269.25" y="382.60" width="5.75" height="6.20" fill="#f39393" stroke="#c8c8c8" stroke-width="0.3" rx="0"/>
<rect x="252.00" y="388.80" width="5.75" height="6.20" fill="#fbf9fb" stroke="#c8c8c8" stroke-width="0.3" rx="0"/>
<rect x="257.75" y="388.80" width="5.75" height="6.20" fill="#4860b0" stroke="#c8c8c8" stroke-width="0.3" rx="0"/>
<rect x="263.50" y="388.80" width="5.75" height="6.20" fill="#f39393" stroke="#c8c8c8" stroke-width="0.3" rx="0"/>
<rect x="269.25" y="388.80" width="5.75" height="6.20" fill="#f5a5a6" stroke="#c8c8c8" stroke-width="0.3" rx="0"/>
<text x="263.50" y="344.40" font-family="'Liberation Serif', serif" font-size="3.78" text-anchor="middle" fill="#555" font-weight="normal" font-style="normal" stroke="#555" stroke-width="0.065" textLength="6.63" lengthAdjust="spacingAndGlyphs">PP2C</text>
<text x="250.80" y="349.96" font-family="'Liberation Serif', serif" font-size="5.07" text-anchor="end" fill="#333" font-weight="normal" font-style="normal" stroke="#333" stroke-width="0.087" textLength="19.97" lengthAdjust="spacingAndGlyphs">DG6C00846</text>
<text x="250.80" y="356.16" font-family="'Liberation Serif', serif" font-size="5.07" text-anchor="end" fill="#333" font-weight="normal" font-style="normal" stroke="#333" stroke-width="0.087" textLength="19.97" lengthAdjust="spacingAndGlyphs">DG5C05085</text>
<text x="250.80" y="362.36" font-family="'Liberation Serif', serif" font-size="5.07" text-anchor="end" fill="#333" font-weight="normal" font-style="normal" stroke="#333" stroke-width="0.087" textLength="19.97" lengthAdjust="spacingAndGlyphs">DG2C05747</text>
<text x="250.80" y="368.56" font-family="'Liberation Serif', serif" font-size="5.07" text-anchor="end" fill="#333" font-weight="normal" font-style="normal" stroke="#333" stroke-width="0.087" textLength="19.97" lengthAdjust="spacingAndGlyphs">DG3C03533</text>
<text x="250.80" y="374.76" font-family="'Liberation Serif', serif" font-size="5.07" text-anchor="end" fill="#333" font-weight="normal" font-style="normal" stroke="#333" stroke-width="0.087" textLength="19.97" lengthAdjust="spacingAndGlyphs">DG6C00463</text>
<text x="250.80" y="380.96" font-family="'Liberation Serif', serif" font-size="5.07" text-anchor="end" fill="#333" font-weight="normal" font-style="normal" stroke="#333" stroke-width="0.087" textLength="19.97" lengthAdjust="spacingAndGlyphs">DG4C01477</text>
<text x="250.80" y="387.16" font-family="'Liberation Serif', serif" font-size="5.07" text-anchor="end" fill="#333" font-weight="normal" font-style="normal" stroke="#333" stroke-width="0.087" textLength="19.97" lengthAdjust="spacingAndGlyphs">DG5C02936</text>
<text x="250.80" y="393.36" font-family="'Liberation Serif', serif" font-size="5.07" text-anchor="end" fill="#333" font-weight="normal" font-style="normal" stroke="#333" stroke-width="0.087" textLength="19.97" lengthAdjust="spacingAndGlyphs">DG5C04009</text>
<rect x="251.50" y="403.20" width="5.80" height="6.37" fill="#fbf9fb" stroke="#c8c8c8" stroke-width="0.3" rx="0"/>
<rect x="257.30" y="403.20" width="5.80" height="6.37" fill="#7486c2" stroke="#c8c8c8" stroke-width="0.3" rx="0"/>
<rect x="263.10" y="403.20" width="5.80" height="6.37" fill="#ef5d5e" stroke="#c8c8c8" stroke-width="0.3" rx="0"/>
<rect x="268.90" y="403.20" width="5.80" height="6.37" fill="#bcc3e1" stroke="#c8c8c8" stroke-width="0.3" rx="0"/>
<rect x="251.50" y="409.57" width="5.80" height="6.37" fill="#f7c2c4" stroke="#c8c8c8" stroke-width="0.3" rx="0"/>
<rect x="257.30" y="409.57" width="5.80" height="6.37" fill="#4860b0" stroke="#c8c8c8" stroke-width="0.3" rx="0"/>
<rect x="263.10" y="409.57" width="5.80" height="6.37" fill="#f6b3b4" stroke="#c8c8c8" stroke-width="0.3" rx="0"/>
<rect x="268.90" y="409.57" width="5.80" height="6.37" fill="#f49798" stroke="#c8c8c8" stroke-width="0.3" rx="0"/>
<rect x="251.50" y="415.93" width="5.80" height="6.37" fill="#f6b3b4" stroke="#c8c8c8" stroke-width="0.3" rx="0"/>
<rect x="257.30" y="415.93" width="5.80" height="6.37" fill="#4860b0" stroke="#c8c8c8" stroke-width="0.3" rx="0"/>
<rect x="263.10" y="415.93" width="5.80" height="6.37" fill="#f39393" stroke="#c8c8c8" stroke-width="0.3" rx="0"/>
<rect x="268.90" y="415.93" width="5.80" height="6.37" fill="#f9dedf" stroke="#c8c8c8" stroke-width="0.3" rx="0"/>
<text x="263.10" y="402.20" font-family="'Liberation Serif', serif" font-size="3.78" text-anchor="middle" fill="#555" font-weight="normal" font-style="normal" stroke="#555" stroke-width="0.065" textLength="5.66" lengthAdjust="spacingAndGlyphs">ABF</text>
<text x="250.30" y="407.85" font-family="'Liberation Serif', serif" font-size="5.07" text-anchor="end" fill="#333" font-weight="normal" font-style="normal" stroke="#333" stroke-width="0.087" textLength="19.97" lengthAdjust="spacingAndGlyphs">DG1C00640</text>
<text x="250.30" y="414.21" font-family="'Liberation Serif', serif" font-size="5.07" text-anchor="end" fill="#333" font-weight="normal" font-style="normal" stroke="#333" stroke-width="0.087" textLength="19.97" lengthAdjust="spacingAndGlyphs">DG3C04338</text>
<text x="250.30" y="420.58" font-family="'Liberation Serif', serif" font-size="5.07" text-anchor="end" fill="#333" font-weight="normal" font-style="normal" stroke="#333" stroke-width="0.087" textLength="19.97" lengthAdjust="spacingAndGlyphs">DG2C04614</text>
<rect x="304.10" y="357.00" width="5.75" height="6.10" fill="#576db6" stroke="#c8c8c8" stroke-width="0.3" rx="0"/>
<rect x="309.85" y="357.00" width="5.75" height="6.10" fill="#fbf9fb" stroke="#c8c8c8" stroke-width="0.3" rx="0"/>
<rect x="315.60" y="357.00" width="5.75" height="6.10" fill="#d9dced" stroke="#c8c8c8" stroke-width="0.3" rx="0"/>
<rect x="321.35" y="357.00" width="5.75" height="6.10" fill="#ee5050" stroke="#c8c8c8" stroke-width="0.3" rx="0"/>
<rect x="304.10" y="363.10" width="5.75" height="6.10" fill="#f39393" stroke="#c8c8c8" stroke-width="0.3" rx="0"/>
<rect x="309.85" y="363.10" width="5.75" height="6.10" fill="#f5a5a6" stroke="#c8c8c8" stroke-width="0.3" rx="0"/>
<rect x="315.60" y="363.10" width="5.75" height="6.10" fill="#576db6" stroke="#c8c8c8" stroke-width="0.3" rx="0"/>
<rect x="321.35" y="363.10" width="5.75" height="6.10" fill="#bcc3e1" stroke="#c8c8c8" stroke-width="0.3" rx="0"/>
<rect x="304.10" y="369.20" width="5.75" height="6.10" fill="#f17778" stroke="#c8c8c8" stroke-width="0.3" rx="0"/>
<rect x="309.85" y="369.20" width="5.75" height="6.10" fill="#f5a5a6" stroke="#c8c8c8" stroke-width="0.3" rx="0"/>
<rect x="315.60" y="369.20" width="5.75" height="6.10" fill="#8c9acc" stroke="#c8c8c8" stroke-width="0.3" rx="0"/>
<rect x="321.35" y="369.20" width="5.75" height="6.10" fill="#8c9acc" stroke="#c8c8c8" stroke-width="0.3" rx="0"/>
<rect x="304.10" y="375.30" width="5.75" height="6.10" fill="#f28586" stroke="#c8c8c8" stroke-width="0.3" rx="0"/>
<rect x="309.85" y="375.30" width="5.75" height="6.10" fill="#f5a5a6" stroke="#c8c8c8" stroke-width="0.3" rx="0"/>
<rect x="315.60" y="375.30" width="5.75" height="6.10" fill="#9aa6d2" stroke="#c8c8c8" stroke-width="0.3" rx="0"/>
<rect x="321.35" y="375.30" width="5.75" height="6.10" fill="#9aa6d2" stroke="#c8c8c8" stroke-width="0.3" rx="0"/>
<text x="315.60" y="356.00" font-family="'Liberation Serif', serif" font-size="3.78" text-anchor="middle" fill="#555" font-weight="normal" font-style="normal" stroke="#555" stroke-width="0.065" textLength="11.96" lengthAdjust="spacingAndGlyphs">PYR/PYL</text>
<text x="328.60" y="361.51" font-family="'Liberation Serif', serif" font-size="5.07" text-anchor="start" fill="#333" font-weight="normal" font-style="normal" stroke="#333" stroke-width="0.087" textLength="19.97" lengthAdjust="spacingAndGlyphs">DG7C03758</text>
<text x="328.60" y="367.61" font-family="'Liberation Serif', serif" font-size="5.07" text-anchor="start" fill="#333" font-weight="normal" font-style="normal" stroke="#333" stroke-width="0.087" textLength="19.97" lengthAdjust="spacingAndGlyphs">DG6C01681</text>
<text x="328.60" y="373.71" font-family="'Liberation Serif', serif" font-size="5.07" text-anchor="start" fill="#333" font-weight="normal" font-style="normal" stroke="#333" stroke-width="0.087" textLength="19.97" lengthAdjust="spacingAndGlyphs">DG0C00563</text>
<text x="328.60" y="379.81" font-family="'Liberation Serif', serif" font-size="5.07" text-anchor="start" fill="#333" font-weight="normal" font-style="normal" stroke="#333" stroke-width="0.087" textLength="19.97" lengthAdjust="spacingAndGlyphs">DG1C00003</text>
<rect x="304.10" y="388.90" width="5.75" height="6.30" fill="#9aa6d2" stroke="#c8c8c8" stroke-width="0.3" rx="0"/>
<rect x="309.85" y="388.90" width="5.75" height="6.30" fill="#9aa6d2" stroke="#c8c8c8" stroke-width="0.3" rx="0"/>
<rect x="315.60" y="388.90" width="5.75" height="6.30" fill="#cbd0e7" stroke="#c8c8c8" stroke-width="0.3" rx="0"/>
<rect x="321.35" y="388.90" width="5.75" height="6.30" fill="#ef5d5e" stroke="#c8c8c8" stroke-width="0.3" rx="0"/>
<rect x="304.10" y="395.20" width="5.75" height="6.30" fill="#a9b3d9" stroke="#c8c8c8" stroke-width="0.3" rx="0"/>
<rect x="309.85" y="395.20" width="5.75" height="6.30" fill="#576db6" stroke="#c8c8c8" stroke-width="0.3" rx="0"/>
<rect x="315.60" y="395.20" width="5.75" height="6.30" fill="#f17778" stroke="#c8c8c8" stroke-width="0.3" rx="0"/>
<rect x="321.35" y="395.20" width="5.75" height="6.30" fill="#f6b3b4" stroke="#c8c8c8" stroke-width="0.3" rx="0"/>
<rect x="304.10" y="401.50" width="5.75" height="6.30" fill="#f7c2c4" stroke="#c8c8c8" stroke-width="0.3" rx="0"/>
<rect x="309.85" y="401.50" width="5.75" height="6.30" fill="#576db6" stroke="#c8c8c8" stroke-width="0.3" rx="0"/>
<rect x="315.60" y="401.50" width="5.75" height="6.30" fill="#f28586" stroke="#c8c8c8" stroke-width="0.3" rx="0"/>
<rect x="321.35" y="401.50" width="5.75" height="6.30" fill="#f8d0d1" stroke="#c8c8c8" stroke-width="0.3" rx="0"/>
<rect x="304.10" y="407.80" width="5.75" height="6.30" fill="#f7c2c4" stroke="#c8c8c8" stroke-width="0.3" rx="0"/>
<rect x="309.85" y="407.80" width="5.75" height="6.30" fill="#7486c2" stroke="#c8c8c8" stroke-width="0.3" rx="0"/>
<rect x="315.60" y="407.80" width="5.75" height="6.30" fill="#f17778" stroke="#c8c8c8" stroke-width="0.3" rx="0"/>
<rect x="321.35" y="407.80" width="5.75" height="6.30" fill="#cbd0e7" stroke="#c8c8c8" stroke-width="0.3" rx="0"/>
<text x="315.60" y="387.90" font-family="'Liberation Serif', serif" font-size="3.78" text-anchor="middle" fill="#555" font-weight="normal" font-style="normal" stroke="#555" stroke-width="0.065" textLength="8.56" lengthAdjust="spacingAndGlyphs">SnRK2</text>
<text x="328.60" y="393.51" font-family="'Liberation Serif', serif" font-size="5.07" text-anchor="start" fill="#333" font-weight="normal" font-style="normal" stroke="#333" stroke-width="0.087" textLength="19.97" lengthAdjust="spacingAndGlyphs">DG6C02696</text>
<text x="328.60" y="399.81" font-family="'Liberation Serif', serif" font-size="5.07" text-anchor="start" fill="#333" font-weight="normal" font-style="normal" stroke="#333" stroke-width="0.087" textLength="19.97" lengthAdjust="spacingAndGlyphs">DG3C01564</text>
<text x="328.60" y="406.11" font-family="'Liberation Serif', serif" font-size="5.07" text-anchor="start" fill="#333" font-weight="normal" font-style="normal" stroke="#333" stroke-width="0.087" textLength="19.97" lengthAdjust="spacingAndGlyphs">DG4C05029</text>
<text x="328.60" y="412.41" font-family="'Liberation Serif', serif" font-size="5.07" text-anchor="start" fill="#333" font-weight="normal" font-style="normal" stroke="#333" stroke-width="0.087" textLength="19.83" lengthAdjust="spacingAndGlyphs">DG1C01130</text>
</svg></body></html>
